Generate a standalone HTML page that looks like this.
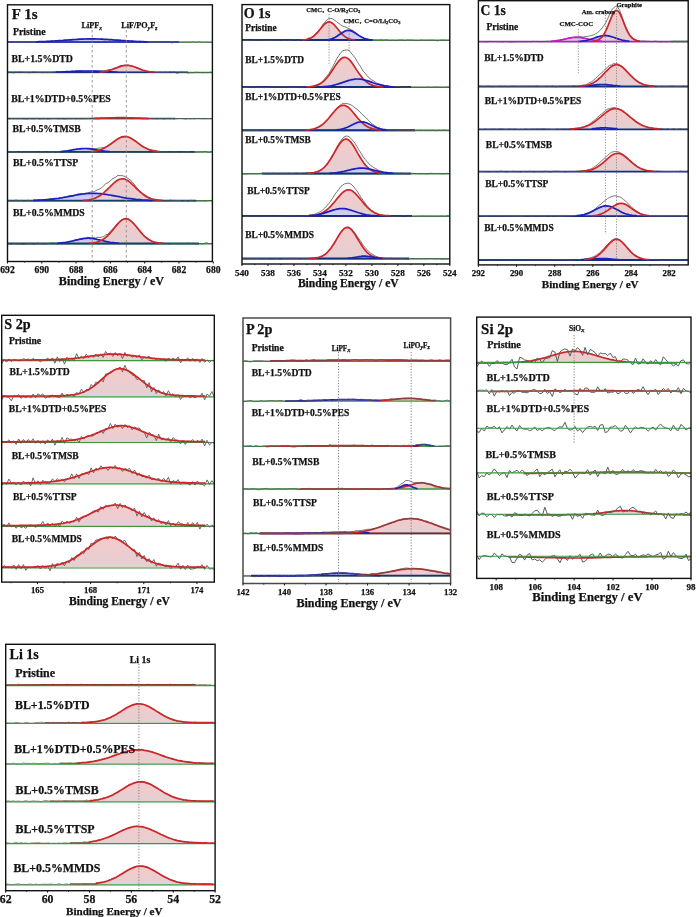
<!DOCTYPE html>
<html><head><meta charset="utf-8"><title>XPS</title>
<style>html,body{margin:0;padding:0;background:#fff;}svg{display:block;will-change:transform;}</style></head>
<body><svg width="696" height="917" viewBox="0 0 696 917">
<defs><linearGradient id="g1" x1="0" y1="0" x2="0" y2="1"><stop offset="0" stop-color="#c6c6f4"/><stop offset="1" stop-color="#d6d2e8"/></linearGradient>
<linearGradient id="g2" x1="0" y1="0" x2="0" y2="1"><stop offset="0" stop-color="#c6c6f4"/><stop offset="1" stop-color="#d6d2e8"/></linearGradient>
<linearGradient id="g3" x1="0" y1="0" x2="0" y2="1"><stop offset="0" stop-color="#f7c9ca"/><stop offset="1" stop-color="#e2d0d3"/></linearGradient>
<linearGradient id="g4" x1="0" y1="0" x2="0" y2="1"><stop offset="0" stop-color="#f7c9ca"/><stop offset="1" stop-color="#e2d0d3"/></linearGradient>
<linearGradient id="g5" x1="0" y1="0" x2="0" y2="1"><stop offset="0" stop-color="#c6c6f4"/><stop offset="1" stop-color="#d6d2e8"/></linearGradient>
<linearGradient id="g6" x1="0" y1="0" x2="0" y2="1"><stop offset="0" stop-color="#f7c9ca"/><stop offset="1" stop-color="#e2d0d3"/></linearGradient>
<linearGradient id="g7" x1="0" y1="0" x2="0" y2="1"><stop offset="0" stop-color="#c6c6f4"/><stop offset="1" stop-color="#d6d2e8"/></linearGradient>
<linearGradient id="g8" x1="0" y1="0" x2="0" y2="1"><stop offset="0" stop-color="#f7c9ca"/><stop offset="1" stop-color="#e2d0d3"/></linearGradient>
<linearGradient id="g9" x1="0" y1="0" x2="0" y2="1"><stop offset="0" stop-color="#c6c6f4"/><stop offset="1" stop-color="#d6d2e8"/></linearGradient>
<linearGradient id="g10" x1="0" y1="0" x2="0" y2="1"><stop offset="0" stop-color="#f7c9ca"/><stop offset="1" stop-color="#e2d0d3"/></linearGradient>
<linearGradient id="g11" x1="0" y1="0" x2="0" y2="1"><stop offset="0" stop-color="#f7c9ca"/><stop offset="1" stop-color="#e2d0d3"/></linearGradient>
<linearGradient id="g12" x1="0" y1="0" x2="0" y2="1"><stop offset="0" stop-color="#c6c6f4"/><stop offset="1" stop-color="#d6d2e8"/></linearGradient>
<linearGradient id="g13" x1="0" y1="0" x2="0" y2="1"><stop offset="0" stop-color="#f7c9ca"/><stop offset="1" stop-color="#e2d0d3"/></linearGradient>
<linearGradient id="g14" x1="0" y1="0" x2="0" y2="1"><stop offset="0" stop-color="#c6c6f4"/><stop offset="1" stop-color="#d6d2e8"/></linearGradient>
<linearGradient id="g15" x1="0" y1="0" x2="0" y2="1"><stop offset="0" stop-color="#f7c9ca"/><stop offset="1" stop-color="#e2d0d3"/></linearGradient>
<linearGradient id="g16" x1="0" y1="0" x2="0" y2="1"><stop offset="0" stop-color="#c6c6f4"/><stop offset="1" stop-color="#d6d2e8"/></linearGradient>
<linearGradient id="g17" x1="0" y1="0" x2="0" y2="1"><stop offset="0" stop-color="#f7c9ca"/><stop offset="1" stop-color="#e2d0d3"/></linearGradient>
<linearGradient id="g18" x1="0" y1="0" x2="0" y2="1"><stop offset="0" stop-color="#c6c6f4"/><stop offset="1" stop-color="#d6d2e8"/></linearGradient>
<linearGradient id="g19" x1="0" y1="0" x2="0" y2="1"><stop offset="0" stop-color="#f7c9ca"/><stop offset="1" stop-color="#e2d0d3"/></linearGradient>
<linearGradient id="g20" x1="0" y1="0" x2="0" y2="1"><stop offset="0" stop-color="#c6c6f4"/><stop offset="1" stop-color="#d6d2e8"/></linearGradient>
<linearGradient id="g21" x1="0" y1="0" x2="0" y2="1"><stop offset="0" stop-color="#f7c9ca"/><stop offset="1" stop-color="#e2d0d3"/></linearGradient>
<linearGradient id="g22" x1="0" y1="0" x2="0" y2="1"><stop offset="0" stop-color="#c6c6f4"/><stop offset="1" stop-color="#d6d2e8"/></linearGradient>
<linearGradient id="g23" x1="0" y1="0" x2="0" y2="1"><stop offset="0" stop-color="#eec0ee"/><stop offset="1" stop-color="#d8d0da"/></linearGradient>
<linearGradient id="g24" x1="0" y1="0" x2="0" y2="1"><stop offset="0" stop-color="#c6c6f4"/><stop offset="1" stop-color="#d6d2e8"/></linearGradient>
<linearGradient id="g25" x1="0" y1="0" x2="0" y2="1"><stop offset="0" stop-color="#f7c9ca"/><stop offset="1" stop-color="#e2d0d3"/></linearGradient>
<linearGradient id="g26" x1="0" y1="0" x2="0" y2="1"><stop offset="0" stop-color="#c6c6f4"/><stop offset="1" stop-color="#d6d2e8"/></linearGradient>
<linearGradient id="g27" x1="0" y1="0" x2="0" y2="1"><stop offset="0" stop-color="#f7c9ca"/><stop offset="1" stop-color="#e2d0d3"/></linearGradient>
<linearGradient id="g28" x1="0" y1="0" x2="0" y2="1"><stop offset="0" stop-color="#c6c6f4"/><stop offset="1" stop-color="#d6d2e8"/></linearGradient>
<linearGradient id="g29" x1="0" y1="0" x2="0" y2="1"><stop offset="0" stop-color="#f7c9ca"/><stop offset="1" stop-color="#e2d0d3"/></linearGradient>
<linearGradient id="g30" x1="0" y1="0" x2="0" y2="1"><stop offset="0" stop-color="#f7c9ca"/><stop offset="1" stop-color="#e2d0d3"/></linearGradient>
<linearGradient id="g31" x1="0" y1="0" x2="0" y2="1"><stop offset="0" stop-color="#c6c6f4"/><stop offset="1" stop-color="#d6d2e8"/></linearGradient>
<linearGradient id="g32" x1="0" y1="0" x2="0" y2="1"><stop offset="0" stop-color="#f7c9ca"/><stop offset="1" stop-color="#e2d0d3"/></linearGradient>
<linearGradient id="g33" x1="0" y1="0" x2="0" y2="1"><stop offset="0" stop-color="#c6c6f4"/><stop offset="1" stop-color="#d6d2e8"/></linearGradient>
<linearGradient id="g34" x1="0" y1="0" x2="0" y2="1"><stop offset="0" stop-color="#f7c9ca"/><stop offset="1" stop-color="#e2d0d3"/></linearGradient>
<linearGradient id="g35" x1="0" y1="0" x2="0" y2="1"><stop offset="0" stop-color="#f7c9ca"/><stop offset="1" stop-color="#e2d0d3"/></linearGradient>
<linearGradient id="g36" x1="0" y1="0" x2="0" y2="1"><stop offset="0" stop-color="#f7c9ca"/><stop offset="1" stop-color="#e2d0d3"/></linearGradient>
<linearGradient id="g37" x1="0" y1="0" x2="0" y2="1"><stop offset="0" stop-color="#f7c9ca"/><stop offset="1" stop-color="#e2d0d3"/></linearGradient>
<linearGradient id="g38" x1="0" y1="0" x2="0" y2="1"><stop offset="0" stop-color="#f7c9ca"/><stop offset="1" stop-color="#e2d0d3"/></linearGradient>
<linearGradient id="g39" x1="0" y1="0" x2="0" y2="1"><stop offset="0" stop-color="#f7c9ca"/><stop offset="1" stop-color="#e2d0d3"/></linearGradient>
<linearGradient id="g40" x1="0" y1="0" x2="0" y2="1"><stop offset="0" stop-color="#f7c9ca"/><stop offset="1" stop-color="#e2d0d3"/></linearGradient>
<linearGradient id="g41" x1="0" y1="0" x2="0" y2="1"><stop offset="0" stop-color="#f7c9ca"/><stop offset="1" stop-color="#e2d0d3"/></linearGradient>
<linearGradient id="g42" x1="0" y1="0" x2="0" y2="1"><stop offset="0" stop-color="#c6c6f4"/><stop offset="1" stop-color="#d6d2e8"/></linearGradient>
<linearGradient id="g43" x1="0" y1="0" x2="0" y2="1"><stop offset="0" stop-color="#f7c9ca"/><stop offset="1" stop-color="#e2d0d3"/></linearGradient>
<linearGradient id="g44" x1="0" y1="0" x2="0" y2="1"><stop offset="0" stop-color="#f7c9ca"/><stop offset="1" stop-color="#e2d0d3"/></linearGradient>
<linearGradient id="g45" x1="0" y1="0" x2="0" y2="1"><stop offset="0" stop-color="#c6c6f4"/><stop offset="1" stop-color="#d6d2e8"/></linearGradient>
<linearGradient id="g46" x1="0" y1="0" x2="0" y2="1"><stop offset="0" stop-color="#f7c9ca"/><stop offset="1" stop-color="#e2d0d3"/></linearGradient>
<linearGradient id="g47" x1="0" y1="0" x2="0" y2="1"><stop offset="0" stop-color="#c6c6f4"/><stop offset="1" stop-color="#d6d2e8"/></linearGradient>
<linearGradient id="g48" x1="0" y1="0" x2="0" y2="1"><stop offset="0" stop-color="#c6c6f4"/><stop offset="1" stop-color="#d6d2e8"/></linearGradient>
<linearGradient id="g49" x1="0" y1="0" x2="0" y2="1"><stop offset="0" stop-color="#f7c9ca"/><stop offset="1" stop-color="#e2d0d3"/></linearGradient>
<linearGradient id="g50" x1="0" y1="0" x2="0" y2="1"><stop offset="0" stop-color="#c6c6f4"/><stop offset="1" stop-color="#d6d2e8"/></linearGradient>
<linearGradient id="g51" x1="0" y1="0" x2="0" y2="1"><stop offset="0" stop-color="#f7c9ca"/><stop offset="1" stop-color="#e2d0d3"/></linearGradient>
<linearGradient id="g52" x1="0" y1="0" x2="0" y2="1"><stop offset="0" stop-color="#f7c9ca"/><stop offset="1" stop-color="#e2d0d3"/></linearGradient>
<linearGradient id="g53" x1="0" y1="0" x2="0" y2="1"><stop offset="0" stop-color="#f7c9ca"/><stop offset="1" stop-color="#e2d0d3"/></linearGradient>
<linearGradient id="g54" x1="0" y1="0" x2="0" y2="1"><stop offset="0" stop-color="#f7c9ca"/><stop offset="1" stop-color="#e2d0d3"/></linearGradient>
<linearGradient id="g55" x1="0" y1="0" x2="0" y2="1"><stop offset="0" stop-color="#f7c9ca"/><stop offset="1" stop-color="#e2d0d3"/></linearGradient>
<linearGradient id="g56" x1="0" y1="0" x2="0" y2="1"><stop offset="0" stop-color="#f7c9ca"/><stop offset="1" stop-color="#e2d0d3"/></linearGradient>
<linearGradient id="g57" x1="0" y1="0" x2="0" y2="1"><stop offset="0" stop-color="#f7c9ca"/><stop offset="1" stop-color="#e2d0d3"/></linearGradient>
<linearGradient id="g58" x1="0" y1="0" x2="0" y2="1"><stop offset="0" stop-color="#f7c9ca"/><stop offset="1" stop-color="#e2d0d3"/></linearGradient>
<linearGradient id="g59" x1="0" y1="0" x2="0" y2="1"><stop offset="0" stop-color="#f7c9ca"/><stop offset="1" stop-color="#e2d0d3"/></linearGradient>
<linearGradient id="g60" x1="0" y1="0" x2="0" y2="1"><stop offset="0" stop-color="#f7c9ca"/><stop offset="1" stop-color="#e2d0d3"/></linearGradient></defs>
<rect width="696" height="917" fill="#fff"/>
<path d="M31.6,42.2 L31.6,41.9 33.1,41.9 34.6,41.9 36.1,41.8 37.6,41.8 39.1,41.7 40.6,41.7 42.2,41.6 43.7,41.6 45.2,41.5 46.7,41.4 48.2,41.3 49.7,41.3 51.2,41.2 52.7,41.1 54.2,41.0 55.7,40.9 57.2,40.8 58.7,40.7 60.2,40.6 61.7,40.5 63.2,40.4 64.8,40.2 66.3,40.1 67.8,40.0 69.3,39.9 70.8,39.8 72.3,39.7 73.8,39.6 75.3,39.5 76.8,39.4 78.3,39.3 79.8,39.2 81.3,39.1 82.8,39.1 84.3,39.0 85.8,39.0 87.4,38.9 88.9,38.9 90.4,38.9 91.9,38.9 93.4,38.9 94.9,38.9 96.4,39.0 97.9,39.0 99.4,39.0 100.9,39.1 102.4,39.2 103.9,39.3 105.4,39.3 106.9,39.4 108.4,39.5 110.0,39.6 111.5,39.7 113.0,39.8 114.5,40.0 116.0,40.1 117.5,40.2 119.0,40.3 120.5,40.4 122.0,40.5 123.5,40.6 125.0,40.7 126.5,40.8 128.0,40.9 129.5,41.0 131.0,41.1 132.5,41.2 134.1,41.3 135.6,41.4 137.1,41.5 138.6,41.5 140.1,41.6 141.6,41.6 143.1,41.7 144.6,41.8 146.1,41.8 147.6,41.8 149.1,41.9 150.6,41.9 152.1,41.9 152.1,42.2 Z" fill="url(#g1)" stroke="none"/>
<line x1="7.50" y1="42.20" x2="212.40" y2="42.20" stroke="#3c963c" stroke-width="1.30"/>
<line x1="7.50" y1="42.00" x2="179.00" y2="42.00" stroke="#1e1ec0" stroke-width="1.40"/>
<polyline points="7.5,42.1 9.5,41.9 11.5,42.3 13.5,41.9 15.5,42.2 17.5,42.2 19.6,41.7 21.6,42.1 23.6,42.1 25.6,41.9 27.6,41.8 29.6,42.0 31.6,41.8 33.6,42.1 35.6,41.9 37.6,41.9 39.6,42.0 41.6,41.9 43.7,41.9 45.7,41.5 47.7,41.4 49.7,41.3 51.7,41.1 53.7,41.3 55.7,40.9 57.7,40.7 59.7,40.5 61.7,40.6 63.7,40.4 65.8,40.6 67.8,40.1 69.8,40.3 71.8,40.0 73.8,39.4 75.8,39.9 77.8,39.2 79.8,39.2 81.8,39.2 83.8,38.9 85.8,38.9 87.9,38.7 89.9,39.0 91.9,39.0 93.9,39.0 95.9,39.1 97.9,39.0 99.9,39.2 101.9,38.9 103.9,39.6 105.9,39.6 107.9,39.7 110.0,40.0 112.0,39.4 114.0,40.4 116.0,40.1 118.0,40.3 120.0,40.0 122.0,40.9 124.0,40.5 126.0,41.0 128.0,41.0 130.0,41.2 132.0,41.1 134.1,41.5 136.1,41.4 138.1,41.4 140.1,41.2 142.1,42.1 144.1,41.4 146.1,41.6 148.1,42.0 150.1,41.8 152.1,42.0 154.1,41.7 156.2,42.0 158.2,42.1 160.2,42.1 162.2,42.1 164.2,42.1 166.2,42.3 168.2,41.7 170.2,42.5 172.2,42.9 174.2,42.2 176.2,42.2 178.2,42.1 180.3,42.2 182.3,42.2 184.3,42.1 186.3,42.0 188.3,42.3 190.3,42.3 192.3,41.8 194.3,42.1 196.3,42.4 198.3,41.7 200.3,42.0 202.4,42.3 204.4,42.4 206.4,42.1 208.4,42.4 210.4,42.4 212.4,42.4" fill="none" stroke="#555555" stroke-width="0.80"/>
<polyline points="36.1,41.8 37.6,41.8 39.1,41.7 40.6,41.7 42.2,41.6 43.7,41.6 45.2,41.5 46.7,41.4 48.2,41.3 49.7,41.3 51.2,41.2 52.7,41.1 54.2,41.0 55.7,40.9 57.2,40.8 58.7,40.7 60.2,40.6 61.7,40.5 63.2,40.4 64.8,40.2 66.3,40.1 67.8,40.0 69.3,39.9 70.8,39.8 72.3,39.7 73.8,39.6 75.3,39.5 76.8,39.4 78.3,39.3 79.8,39.2 81.3,39.1 82.8,39.1 84.3,39.0 85.8,39.0 87.4,38.9 88.9,38.9 90.4,38.9 91.9,38.9 93.4,38.9 94.9,38.9 96.4,39.0 97.9,39.0 99.4,39.0 100.9,39.1 102.4,39.2 103.9,39.3 105.4,39.3 106.9,39.4 108.4,39.5 110.0,39.6 111.5,39.7 113.0,39.8 114.5,40.0 116.0,40.1 117.5,40.2 119.0,40.3 120.5,40.4 122.0,40.5 123.5,40.6 125.0,40.7 126.5,40.8 128.0,40.9 129.5,41.0 131.0,41.1 132.5,41.2 134.1,41.3 135.6,41.4 137.1,41.5 138.6,41.5 140.1,41.6 141.6,41.6 143.1,41.7 144.6,41.8 146.1,41.8 147.6,41.8" fill="none" stroke="#1e1ec0" stroke-width="1.70" stroke-linejoin="round"/>
<text x="13.0" y="34.5" font-size="9.80" font-family="Liberation Serif" font-weight="bold" fill="#111" stroke="#111" stroke-width="0.25" text-anchor="start" >Pristine</text>
<path d="M52.7,72.5 L52.7,72.2 54.2,72.2 55.7,72.1 57.2,72.1 58.7,72.0 60.2,72.0 61.7,71.9 63.2,71.8 64.8,71.8 66.3,71.7 67.8,71.6 69.3,71.5 70.8,71.5 72.3,71.4 73.8,71.3 75.3,71.3 76.8,71.2 78.3,71.1 79.8,71.1 81.3,71.1 82.8,71.0 84.3,71.0 85.8,71.0 87.4,71.0 88.9,71.0 90.4,71.0 91.9,71.1 93.4,71.1 94.9,71.2 96.4,71.2 97.9,71.3 99.4,71.3 100.9,71.4 102.4,71.5 103.9,71.6 105.4,71.6 106.9,71.7 108.4,71.8 110.0,71.8 111.5,71.9 113.0,72.0 114.5,72.0 116.0,72.1 117.5,72.1 119.0,72.2 120.5,72.2 120.5,72.5 Z" fill="url(#g2)" stroke="none"/>
<path d="M97.9,72.5 L97.9,72.2 99.4,72.1 100.9,72.0 102.4,71.8 103.9,71.6 105.4,71.4 106.9,71.1 108.4,70.7 110.0,70.2 111.5,69.8 113.0,69.2 114.5,68.6 116.0,68.1 117.5,67.5 119.0,66.9 120.5,66.4 122.0,65.9 123.5,65.6 125.0,65.4 126.5,65.3 128.0,65.4 129.5,65.5 131.0,65.9 132.5,66.3 134.1,66.8 135.6,67.3 137.1,67.9 138.6,68.5 140.1,69.1 141.6,69.7 143.1,70.2 144.6,70.6 146.1,71.0 147.6,71.3 149.1,71.6 150.6,71.8 152.1,72.0 153.6,72.1 155.1,72.2 155.1,72.5 Z" fill="url(#g3)" stroke="none"/>
<line x1="7.50" y1="72.50" x2="212.40" y2="72.50" stroke="#3c963c" stroke-width="1.30"/>
<line x1="8.00" y1="72.30" x2="188.00" y2="72.30" stroke="#1b2f8a" stroke-width="1.60"/>
<polyline points="7.5,72.6 9.5,72.2 11.5,72.6 13.5,72.9 15.5,72.3 17.5,72.5 19.6,72.2 21.6,72.1 23.6,72.5 25.6,72.5 27.6,72.5 29.6,72.8 31.6,72.3 33.6,72.0 35.6,72.4 37.6,72.5 39.6,72.5 41.6,72.6 43.7,72.6 45.7,72.5 47.7,72.6 49.7,72.4 51.7,72.7 53.7,72.1 55.7,72.1 57.7,72.4 59.7,72.7 61.7,71.9 63.7,71.5 65.8,71.9 67.8,71.7 69.8,71.7 71.8,71.2 73.8,71.6 75.8,70.9 77.8,71.2 79.8,70.8 81.8,71.0 83.8,71.1 85.8,71.4 87.9,71.2 89.9,71.0 91.9,70.8 93.9,70.9 95.9,71.2 97.9,70.9 99.9,70.7 101.9,70.9 103.9,70.8 105.9,70.5 107.9,69.8 110.0,69.4 112.0,69.3 114.0,68.2 116.0,67.8 118.0,67.1 120.0,65.9 122.0,65.5 124.0,65.5 126.0,65.1 128.0,65.1 130.0,65.7 132.0,66.1 134.1,66.5 136.1,68.0 138.1,68.2 140.1,68.9 142.1,69.6 144.1,70.8 146.1,70.9 148.1,71.7 150.1,71.5 152.1,71.8 154.1,72.1 156.2,72.5 158.2,72.5 160.2,72.1 162.2,72.7 164.2,72.3 166.2,72.3 168.2,72.5 170.2,71.7 172.2,72.4 174.2,71.8 176.2,73.1 178.2,73.1 180.3,72.2 182.3,72.3 184.3,72.6 186.3,72.5 188.3,73.1 190.3,72.7 192.3,72.8 194.3,72.5 196.3,72.2 198.3,72.5 200.3,72.4 202.4,72.7 204.4,72.6 206.4,72.5 208.4,72.6 210.4,72.1 212.4,72.8" fill="none" stroke="#555555" stroke-width="0.80"/>
<polyline points="55.7,72.1 57.2,72.1 58.7,72.0 60.2,72.0 61.7,71.9 63.2,71.8 64.8,71.8 66.3,71.7 67.8,71.6 69.3,71.5 70.8,71.5 72.3,71.4 73.8,71.3 75.3,71.3 76.8,71.2 78.3,71.1 79.8,71.1 81.3,71.1 82.8,71.0 84.3,71.0 85.8,71.0 87.4,71.0 88.9,71.0 90.4,71.0 91.9,71.1 93.4,71.1 94.9,71.2 96.4,71.2 97.9,71.3 99.4,71.3 100.9,71.4 102.4,71.5 103.9,71.6 105.4,71.6 106.9,71.7 108.4,71.8 110.0,71.8 111.5,71.9 113.0,72.0 114.5,72.0 116.0,72.1 117.5,72.1" fill="none" stroke="#1e1ec0" stroke-width="1.70" stroke-linejoin="round"/>
<polyline points="99.4,72.1 100.9,72.0 102.4,71.8 103.9,71.6 105.4,71.4 106.9,71.1 108.4,70.7 110.0,70.2 111.5,69.8 113.0,69.2 114.5,68.6 116.0,68.1 117.5,67.5 119.0,66.9 120.5,66.4 122.0,65.9 123.5,65.6 125.0,65.4 126.5,65.3 128.0,65.4 129.5,65.5 131.0,65.9 132.5,66.3 134.1,66.8 135.6,67.3 137.1,67.9 138.6,68.5 140.1,69.1 141.6,69.7 143.1,70.2 144.6,70.6 146.1,71.0 147.6,71.3 149.1,71.6 150.6,71.8 152.1,72.0 153.6,72.1" fill="none" stroke="#cc2628" stroke-width="1.70" stroke-linejoin="round"/>
<text x="11.5" y="61.5" font-size="9.80" font-family="Liberation Serif" font-weight="bold" fill="#111" stroke="#111" stroke-width="0.25" text-anchor="start" >BL+1.5%DTD</text>
<path d="M94.9,118.7 L94.9,118.4 96.4,118.4 97.9,118.3 99.4,118.3 100.9,118.2 102.4,118.2 103.9,118.1 105.4,118.1 106.9,118.0 108.4,118.0 110.0,117.9 111.5,117.9 113.0,117.8 114.5,117.8 116.0,117.7 117.5,117.7 119.0,117.7 120.5,117.7 122.0,117.7 123.5,117.7 125.0,117.7 126.5,117.8 128.0,117.8 129.5,117.8 131.0,117.9 132.5,117.9 134.1,118.0 135.6,118.1 137.1,118.1 138.6,118.2 140.1,118.2 141.6,118.3 143.1,118.3 144.6,118.4 146.1,118.4 146.1,118.7 Z" fill="url(#g4)" stroke="none"/>
<line x1="7.50" y1="118.70" x2="212.40" y2="118.70" stroke="#2f7f5f" stroke-width="1.30"/>
<line x1="8.00" y1="118.50" x2="175.00" y2="118.50" stroke="#1b4f6a" stroke-width="1.40"/>
<polyline points="7.5,118.4 9.5,118.8 11.5,118.5 13.5,118.8 15.5,118.5 17.5,118.7 19.6,118.6 21.6,118.6 23.6,118.8 25.6,118.9 27.6,119.0 29.6,118.5 31.6,118.8 33.6,118.8 35.6,118.7 37.6,118.4 39.6,119.0 41.6,118.7 43.7,118.8 45.7,118.6 47.7,119.0 49.7,118.8 51.7,118.6 53.7,118.5 55.7,118.5 57.7,118.8 59.7,118.7 61.7,118.7 63.7,118.9 65.8,118.9 67.8,118.6 69.8,118.7 71.8,118.7 73.8,118.5 75.8,118.8 77.8,118.6 79.8,118.7 81.8,118.7 83.8,118.6 85.8,118.6 87.9,118.5 89.9,118.5 91.9,118.2 93.9,118.5 95.9,118.2 97.9,118.2 99.9,118.3 101.9,118.1 103.9,118.2 105.9,117.9 107.9,118.1 110.0,118.0 112.0,117.8 114.0,117.7 116.0,117.6 118.0,117.6 120.0,117.7 122.0,117.8 124.0,117.6 126.0,117.7 128.0,117.9 130.0,117.7 132.0,117.9 134.1,118.1 136.1,118.0 138.1,118.3 140.1,118.4 142.1,118.2 144.1,118.6 146.1,118.4 148.1,118.7 150.1,118.4 152.1,118.7 154.1,118.6 156.2,118.8 158.2,118.7 160.2,118.5 162.2,118.6 164.2,119.0 166.2,118.5 168.2,118.6 170.2,118.7 172.2,118.5 174.2,118.9 176.2,118.7 178.2,118.5 180.3,118.5 182.3,118.5 184.3,118.9 186.3,119.0 188.3,118.6 190.3,118.9 192.3,118.7 194.3,118.9 196.3,118.5 198.3,118.6 200.3,118.6 202.4,118.7 204.4,118.7 206.4,118.7 208.4,118.6 210.4,118.7 212.4,118.6" fill="none" stroke="#555555" stroke-width="0.80"/>
<polyline points="93.4,118.5 94.9,118.4 96.4,118.4 97.9,118.3 99.4,118.3 100.9,118.2 102.4,118.2 103.9,118.1 105.4,118.1 106.9,118.0 108.4,118.0 110.0,117.9 111.5,117.9 113.0,117.8 114.5,117.8 116.0,117.7 117.5,117.7 119.0,117.7 120.5,117.7 122.0,117.7 123.5,117.7 125.0,117.7 126.5,117.8 128.0,117.8 129.5,117.8 131.0,117.9 132.5,117.9 134.1,118.0 135.6,118.1 137.1,118.1 138.6,118.2 140.1,118.2 141.6,118.3 143.1,118.3 144.6,118.4 146.1,118.4 147.6,118.5 149.1,118.5" fill="none" stroke="#cc2628" stroke-width="1.70" stroke-linejoin="round"/>
<text x="11.2" y="102.2" font-size="9.80" font-family="Liberation Serif" font-weight="bold" fill="#111" stroke="#111" stroke-width="0.25" text-anchor="start" >BL+1%DTD+0.5%PES</text>
<path d="M57.2,152.0 L57.2,151.7 58.7,151.7 60.2,151.6 61.7,151.5 63.2,151.3 64.8,151.2 66.3,151.0 67.8,150.8 69.3,150.5 70.8,150.3 72.3,150.0 73.8,149.7 75.3,149.5 76.8,149.2 78.3,149.0 79.8,148.8 81.3,148.6 82.8,148.5 84.3,148.5 85.8,148.5 87.4,148.6 88.9,148.7 90.4,148.9 91.9,149.1 93.4,149.4 94.9,149.6 96.4,149.9 97.9,150.2 99.4,150.4 100.9,150.7 102.4,150.9 103.9,151.1 105.4,151.3 106.9,151.4 108.4,151.5 110.0,151.6 111.5,151.7 111.5,152.0 Z" fill="url(#g5)" stroke="none"/>
<path d="M88.9,152.0 L88.9,151.7 90.4,151.6 91.9,151.5 93.4,151.3 94.9,151.1 96.4,150.8 97.9,150.5 99.4,150.1 100.9,149.6 102.4,149.0 103.9,148.3 105.4,147.5 106.9,146.6 108.4,145.6 110.0,144.6 111.5,143.5 113.0,142.3 114.5,141.2 116.0,140.1 117.5,139.1 119.0,138.2 120.5,137.5 122.0,136.9 123.5,136.6 125.0,136.5 126.5,136.6 128.0,137.0 129.5,137.5 131.0,138.3 132.5,139.2 134.1,140.2 135.6,141.3 137.1,142.4 138.6,143.5 140.1,144.6 141.6,145.7 143.1,146.7 144.6,147.5 146.1,148.3 147.6,149.0 149.1,149.6 150.6,150.1 152.1,150.5 153.6,150.8 155.1,151.1 156.7,151.3 158.2,151.5 159.7,151.6 161.2,151.7 161.2,152.0 Z" fill="url(#g6)" stroke="none"/>
<line x1="7.50" y1="152.00" x2="212.40" y2="152.00" stroke="#3c963c" stroke-width="1.60"/>
<line x1="7.50" y1="151.80" x2="195.00" y2="151.80" stroke="#1b3f6a" stroke-width="1.80"/>
<polyline points="7.5,152.1 9.5,151.4 11.5,151.9 13.5,151.6 15.5,151.6 17.5,152.2 19.6,152.5 21.6,151.6 23.6,152.1 25.6,151.9 27.6,152.0 29.6,151.9 31.6,152.3 33.6,152.0 35.6,152.1 37.6,152.0 39.6,152.7 41.6,151.7 43.7,151.8 45.7,152.5 47.7,152.1 49.7,151.9 51.7,151.7 53.7,151.8 55.7,151.4 57.7,151.7 59.7,151.9 61.7,151.6 63.7,151.0 65.8,151.2 67.8,150.5 69.8,150.1 71.8,149.9 73.8,149.4 75.8,149.4 77.8,149.0 79.8,148.9 81.8,148.7 83.8,148.8 85.8,148.5 87.9,148.7 89.9,148.9 91.9,148.5 93.9,148.5 95.9,148.8 97.9,148.2 99.9,148.1 101.9,147.7 103.9,147.5 105.9,146.9 107.9,145.3 110.0,144.1 112.0,142.6 114.0,141.3 116.0,139.6 118.0,138.8 120.0,137.4 122.0,137.2 124.0,137.2 126.0,136.7 128.0,136.5 130.0,138.3 132.0,138.6 134.1,140.4 136.1,141.8 138.1,143.1 140.1,144.6 142.1,146.3 144.1,147.2 146.1,148.2 148.1,149.0 150.1,150.2 152.1,150.0 154.1,150.3 156.2,150.5 158.2,151.9 160.2,151.6 162.2,152.3 164.2,151.7 166.2,151.7 168.2,152.2 170.2,152.4 172.2,151.9 174.2,151.7 176.2,152.2 178.2,152.0 180.3,152.7 182.3,152.2 184.3,151.9 186.3,151.9 188.3,151.5 190.3,152.3 192.3,152.6 194.3,151.8 196.3,152.1 198.3,151.9 200.3,151.8 202.4,151.8 204.4,151.5 206.4,151.6 208.4,152.5 210.4,152.0 212.4,151.4" fill="none" stroke="#555555" stroke-width="0.80"/>
<polyline points="60.2,151.6 61.7,151.5 63.2,151.3 64.8,151.2 66.3,151.0 67.8,150.8 69.3,150.5 70.8,150.3 72.3,150.0 73.8,149.7 75.3,149.5 76.8,149.2 78.3,149.0 79.8,148.8 81.3,148.6 82.8,148.5 84.3,148.5 85.8,148.5 87.4,148.6 88.9,148.7 90.4,148.9 91.9,149.1 93.4,149.4 94.9,149.6 96.4,149.9 97.9,150.2 99.4,150.4 100.9,150.7 102.4,150.9 103.9,151.1 105.4,151.3 106.9,151.4 108.4,151.5 110.0,151.6" fill="none" stroke="#1e1ec0" stroke-width="1.70" stroke-linejoin="round"/>
<polyline points="90.4,151.6 91.9,151.5 93.4,151.3 94.9,151.1 96.4,150.8 97.9,150.5 99.4,150.1 100.9,149.6 102.4,149.0 103.9,148.3 105.4,147.5 106.9,146.6 108.4,145.6 110.0,144.6 111.5,143.5 113.0,142.3 114.5,141.2 116.0,140.1 117.5,139.1 119.0,138.2 120.5,137.5 122.0,136.9 123.5,136.6 125.0,136.5 126.5,136.6 128.0,137.0 129.5,137.5 131.0,138.3 132.5,139.2 134.1,140.2 135.6,141.3 137.1,142.4 138.6,143.5 140.1,144.6 141.6,145.7 143.1,146.7 144.6,147.5 146.1,148.3 147.6,149.0 149.1,149.6 150.6,150.1 152.1,150.5 153.6,150.8 155.1,151.1 156.7,151.3 158.2,151.5 159.7,151.6" fill="none" stroke="#cc2628" stroke-width="1.70" stroke-linejoin="round"/>
<text x="12.4" y="132.4" font-size="9.80" font-family="Liberation Serif" font-weight="bold" fill="#111" stroke="#111" stroke-width="0.25" text-anchor="start" >BL+0.5%TMSB</text>
<path d="M30.1,200.8 L30.1,200.5 31.6,200.5 33.1,200.4 34.6,200.4 36.1,200.3 37.6,200.3 39.1,200.2 40.6,200.1 42.2,200.0 43.7,199.9 45.2,199.8 46.7,199.7 48.2,199.6 49.7,199.4 51.2,199.3 52.7,199.1 54.2,198.9 55.7,198.7 57.2,198.5 58.7,198.3 60.2,198.0 61.7,197.8 63.2,197.5 64.8,197.2 66.3,197.0 67.8,196.7 69.3,196.4 70.8,196.1 72.3,195.8 73.8,195.5 75.3,195.2 76.8,195.0 78.3,194.7 79.8,194.5 81.3,194.2 82.8,194.0 84.3,193.8 85.8,193.7 87.4,193.5 88.9,193.4 90.4,193.4 91.9,193.3 93.4,193.3 94.9,193.3 96.4,193.4 97.9,193.5 99.4,193.6 100.9,193.7 102.4,193.9 103.9,194.1 105.4,194.3 106.9,194.5 108.4,194.8 110.0,195.0 111.5,195.3 113.0,195.6 114.5,195.9 116.0,196.2 117.5,196.4 119.0,196.7 120.5,197.0 122.0,197.3 123.5,197.6 125.0,197.8 126.5,198.1 128.0,198.3 129.5,198.5 131.0,198.7 132.5,198.9 134.1,199.1 135.6,199.3 137.1,199.5 138.6,199.6 140.1,199.7 141.6,199.9 143.1,200.0 144.6,200.1 146.1,200.1 147.6,200.2 149.1,200.3 150.6,200.4 152.1,200.4 153.6,200.5 155.1,200.5 156.7,200.5 156.7,200.8 Z" fill="url(#g7)" stroke="none"/>
<path d="M81.3,200.8 L81.3,200.5 82.8,200.4 84.3,200.3 85.8,200.2 87.4,200.0 88.9,199.8 90.4,199.5 91.9,199.2 93.4,198.8 94.9,198.2 96.4,197.6 97.9,196.8 99.4,196.0 100.9,195.0 102.4,193.8 103.9,192.6 105.4,191.2 106.9,189.8 108.4,188.3 110.0,186.8 111.5,185.3 113.0,183.9 114.5,182.5 116.0,181.3 117.5,180.3 119.0,179.5 120.5,179.0 122.0,178.8 123.5,178.9 125.0,179.2 126.5,179.9 128.0,180.8 129.5,181.9 131.0,183.2 132.5,184.6 134.1,186.0 135.6,187.6 137.1,189.1 138.6,190.5 140.1,191.9 141.6,193.2 143.1,194.4 144.6,195.5 146.1,196.4 147.6,197.2 149.1,197.9 150.6,198.5 152.1,199.0 153.6,199.4 155.1,199.7 156.7,199.9 158.2,200.1 159.7,200.3 161.2,200.4 162.7,200.5 164.2,200.5 164.2,200.8 Z" fill="url(#g8)" stroke="none"/>
<line x1="7.50" y1="200.80" x2="212.40" y2="200.80" stroke="#3c963c" stroke-width="1.60"/>
<line x1="7.50" y1="200.60" x2="196.00" y2="200.60" stroke="#1b3f6a" stroke-width="1.80"/>
<polyline points="7.5,200.9 9.5,200.3 11.5,200.7 13.5,200.9 15.5,200.1 17.5,200.3 19.6,200.8 21.6,200.3 23.6,201.1 25.6,200.9 27.6,200.2 29.6,200.5 31.6,200.9 33.6,200.2 35.6,200.2 37.6,199.7 39.6,199.8 41.6,200.1 43.7,200.1 45.7,199.8 47.7,199.7 49.7,198.8 51.7,198.5 53.7,198.4 55.7,198.5 57.7,198.5 59.7,197.7 61.7,197.8 63.7,197.3 65.8,197.6 67.8,196.8 69.8,195.6 71.8,196.2 73.8,196.0 75.8,195.1 77.8,194.0 79.8,193.7 81.8,194.0 83.8,193.7 85.8,193.1 87.9,193.0 89.9,192.2 91.9,191.8 93.9,191.7 95.9,190.6 97.9,189.6 99.9,188.8 101.9,187.7 103.9,185.5 105.9,183.6 107.9,182.8 110.0,181.2 112.0,179.2 114.0,178.0 116.0,177.0 118.0,175.2 120.0,175.7 122.0,175.6 124.0,176.1 126.0,177.2 128.0,178.4 130.0,179.9 132.0,181.6 134.1,184.1 136.1,186.6 138.1,189.3 140.1,190.9 142.1,193.1 144.1,194.4 146.1,195.4 148.1,196.8 150.1,197.9 152.1,198.9 154.1,199.2 156.2,199.5 158.2,200.3 160.2,200.3 162.2,199.9 164.2,201.1 166.2,200.7 168.2,201.0 170.2,200.0 172.2,200.4 174.2,200.4 176.2,200.5 178.2,200.5 180.3,200.5 182.3,201.3 184.3,200.6 186.3,200.5 188.3,201.3 190.3,200.4 192.3,200.4 194.3,201.3 196.3,200.9 198.3,200.8 200.3,200.9 202.4,200.6 204.4,201.2 206.4,200.8 208.4,200.6 210.4,200.4 212.4,200.7" fill="none" stroke="#555555" stroke-width="0.80"/>
<polyline points="33.1,200.4 34.6,200.4 36.1,200.3 37.6,200.3 39.1,200.2 40.6,200.1 42.2,200.0 43.7,199.9 45.2,199.8 46.7,199.7 48.2,199.6 49.7,199.4 51.2,199.3 52.7,199.1 54.2,198.9 55.7,198.7 57.2,198.5 58.7,198.3 60.2,198.0 61.7,197.8 63.2,197.5 64.8,197.2 66.3,197.0 67.8,196.7 69.3,196.4 70.8,196.1 72.3,195.8 73.8,195.5 75.3,195.2 76.8,195.0 78.3,194.7 79.8,194.5 81.3,194.2 82.8,194.0 84.3,193.8 85.8,193.7 87.4,193.5 88.9,193.4 90.4,193.4 91.9,193.3 93.4,193.3 94.9,193.3 96.4,193.4 97.9,193.5 99.4,193.6 100.9,193.7 102.4,193.9 103.9,194.1 105.4,194.3 106.9,194.5 108.4,194.8 110.0,195.0 111.5,195.3 113.0,195.6 114.5,195.9 116.0,196.2 117.5,196.4 119.0,196.7 120.5,197.0 122.0,197.3 123.5,197.6 125.0,197.8 126.5,198.1 128.0,198.3 129.5,198.5 131.0,198.7 132.5,198.9 134.1,199.1 135.6,199.3 137.1,199.5 138.6,199.6 140.1,199.7 141.6,199.9 143.1,200.0 144.6,200.1 146.1,200.1 147.6,200.2 149.1,200.3 150.6,200.4 152.1,200.4" fill="none" stroke="#1e1ec0" stroke-width="1.70" stroke-linejoin="round"/>
<polyline points="82.8,200.4 84.3,200.3 85.8,200.2 87.4,200.0 88.9,199.8 90.4,199.5 91.9,199.2 93.4,198.8 94.9,198.2 96.4,197.6 97.9,196.8 99.4,196.0 100.9,195.0 102.4,193.8 103.9,192.6 105.4,191.2 106.9,189.8 108.4,188.3 110.0,186.8 111.5,185.3 113.0,183.9 114.5,182.5 116.0,181.3 117.5,180.3 119.0,179.5 120.5,179.0 122.0,178.8 123.5,178.9 125.0,179.2 126.5,179.9 128.0,180.8 129.5,181.9 131.0,183.2 132.5,184.6 134.1,186.0 135.6,187.6 137.1,189.1 138.6,190.5 140.1,191.9 141.6,193.2 143.1,194.4 144.6,195.5 146.1,196.4 147.6,197.2 149.1,197.9 150.6,198.5 152.1,199.0 153.6,199.4 155.1,199.7 156.7,199.9 158.2,200.1 159.7,200.3 161.2,200.4" fill="none" stroke="#cc2628" stroke-width="1.70" stroke-linejoin="round"/>
<text x="13.0" y="165.8" font-size="9.80" font-family="Liberation Serif" font-weight="bold" fill="#111" stroke="#111" stroke-width="0.25" text-anchor="start" >BL+0.5%TTSP</text>
<path d="M54.2,243.7 L54.2,243.4 55.7,243.4 57.2,243.3 58.7,243.2 60.2,243.1 61.7,242.9 63.2,242.7 64.8,242.5 66.3,242.3 67.8,242.0 69.3,241.7 70.8,241.4 72.3,241.0 73.8,240.7 75.3,240.3 76.8,239.9 78.3,239.6 79.8,239.2 81.3,238.9 82.8,238.6 84.3,238.4 85.8,238.3 87.4,238.2 88.9,238.2 90.4,238.3 91.9,238.4 93.4,238.6 94.9,238.9 96.4,239.2 97.9,239.6 99.4,239.9 100.9,240.3 102.4,240.7 103.9,241.0 105.4,241.4 106.9,241.7 108.4,242.0 110.0,242.3 111.5,242.5 113.0,242.7 114.5,242.9 116.0,243.1 117.5,243.2 119.0,243.3 120.5,243.4 122.0,243.4 122.0,243.7 Z" fill="url(#g9)" stroke="none"/>
<path d="M87.4,243.7 L87.4,243.4 88.9,243.3 90.4,243.2 91.9,243.1 93.4,242.9 94.9,242.6 96.4,242.3 97.9,241.8 99.4,241.3 100.9,240.6 102.4,239.8 103.9,238.8 105.4,237.7 106.9,236.3 108.4,234.8 110.0,233.2 111.5,231.5 113.0,229.6 114.5,227.7 116.0,225.9 117.5,224.1 119.0,222.5 120.5,221.1 122.0,219.9 123.5,219.2 125.0,218.8 126.5,218.7 128.0,219.1 129.5,219.9 131.0,221.0 132.5,222.4 134.1,224.0 135.6,225.8 137.1,227.6 138.6,229.5 140.1,231.4 141.6,233.1 143.1,234.8 144.6,236.3 146.1,237.6 147.6,238.8 149.1,239.7 150.6,240.6 152.1,241.3 153.6,241.8 155.1,242.3 156.7,242.6 158.2,242.9 159.7,243.1 161.2,243.2 162.7,243.3 164.2,243.4 164.2,243.7 Z" fill="url(#g10)" stroke="none"/>
<line x1="7.50" y1="243.70" x2="212.40" y2="243.70" stroke="#3c963c" stroke-width="1.60"/>
<line x1="7.50" y1="243.50" x2="199.00" y2="243.50" stroke="#1b3f6a" stroke-width="1.80"/>
<polyline points="7.5,243.8 9.5,243.4 11.5,244.5 13.5,243.3 15.5,243.8 17.5,244.2 19.6,243.8 21.6,244.4 23.6,244.5 25.6,243.8 27.6,244.0 29.6,243.4 31.6,244.0 33.6,244.2 35.6,244.0 37.6,242.9 39.6,243.6 41.6,243.9 43.7,244.0 45.7,244.0 47.7,243.6 49.7,243.4 51.7,243.0 53.7,243.0 55.7,243.2 57.7,243.5 59.7,243.4 61.7,243.8 63.7,243.0 65.8,242.1 67.8,242.1 69.8,241.4 71.8,241.6 73.8,240.2 75.8,240.0 77.8,239.6 79.8,238.9 81.8,239.6 83.8,238.5 85.8,238.4 87.9,237.2 89.9,237.9 91.9,238.0 93.9,237.5 95.9,238.2 97.9,237.1 99.9,237.7 101.9,237.0 103.9,236.5 105.9,234.7 107.9,234.5 110.0,231.5 112.0,230.1 114.0,227.5 116.0,225.7 118.0,223.0 120.0,221.1 122.0,219.5 124.0,218.7 126.0,218.3 128.0,218.6 130.0,220.3 132.0,222.3 134.1,224.5 136.1,226.1 138.1,229.0 140.1,230.9 142.1,233.6 144.1,236.2 146.1,237.2 148.1,238.3 150.1,240.4 152.1,241.6 154.1,242.3 156.2,242.1 158.2,243.1 160.2,243.3 162.2,243.0 164.2,243.4 166.2,243.4 168.2,243.7 170.2,243.8 172.2,243.5 174.2,243.5 176.2,243.4 178.2,243.8 180.3,243.5 182.3,243.4 184.3,243.6 186.3,243.4 188.3,243.2 190.3,243.6 192.3,243.6 194.3,244.0 196.3,243.5 198.3,243.7 200.3,243.8 202.4,244.0 204.4,243.4 206.4,242.6 208.4,243.5 210.4,243.6 212.4,243.5" fill="none" stroke="#555555" stroke-width="0.80"/>
<polyline points="57.2,243.3 58.7,243.2 60.2,243.1 61.7,242.9 63.2,242.7 64.8,242.5 66.3,242.3 67.8,242.0 69.3,241.7 70.8,241.4 72.3,241.0 73.8,240.7 75.3,240.3 76.8,239.9 78.3,239.6 79.8,239.2 81.3,238.9 82.8,238.6 84.3,238.4 85.8,238.3 87.4,238.2 88.9,238.2 90.4,238.3 91.9,238.4 93.4,238.6 94.9,238.9 96.4,239.2 97.9,239.6 99.4,239.9 100.9,240.3 102.4,240.7 103.9,241.0 105.4,241.4 106.9,241.7 108.4,242.0 110.0,242.3 111.5,242.5 113.0,242.7 114.5,242.9 116.0,243.1 117.5,243.2 119.0,243.3" fill="none" stroke="#1e1ec0" stroke-width="1.70" stroke-linejoin="round"/>
<polyline points="88.9,243.3 90.4,243.2 91.9,243.1 93.4,242.9 94.9,242.6 96.4,242.3 97.9,241.8 99.4,241.3 100.9,240.6 102.4,239.8 103.9,238.8 105.4,237.7 106.9,236.3 108.4,234.8 110.0,233.2 111.5,231.5 113.0,229.6 114.5,227.7 116.0,225.9 117.5,224.1 119.0,222.5 120.5,221.1 122.0,219.9 123.5,219.2 125.0,218.8 126.5,218.7 128.0,219.1 129.5,219.9 131.0,221.0 132.5,222.4 134.1,224.0 135.6,225.8 137.1,227.6 138.6,229.5 140.1,231.4 141.6,233.1 143.1,234.8 144.6,236.3 146.1,237.6 147.6,238.8 149.1,239.7 150.6,240.6 152.1,241.3 153.6,241.8 155.1,242.3 156.7,242.6 158.2,242.9 159.7,243.1 161.2,243.2 162.7,243.3" fill="none" stroke="#cc2628" stroke-width="1.70" stroke-linejoin="round"/>
<text x="13.0" y="216.3" font-size="9.80" font-family="Liberation Serif" font-weight="bold" fill="#111" stroke="#111" stroke-width="0.25" text-anchor="start" >BL+0.5%MMDS</text>
<line x1="92.20" y1="30.00" x2="92.20" y2="261.00" stroke="#8c8c8c" stroke-width="0.90" stroke-dasharray="2.5,2.5"/>
<line x1="126.32" y1="30.00" x2="126.32" y2="261.00" stroke="#8c8c8c" stroke-width="0.90" stroke-dasharray="2.5,2.5"/>
<text x="81.5" y="28.0" font-size="8.20" font-family="Liberation Serif" font-weight="bold" fill="#111" stroke="#111" stroke-width="0.25" text-anchor="start" >LiPF<tspan font-size="5.5" dy="1.5" font-style="italic">x</tspan></text>
<text x="121.3" y="28.0" font-size="8.20" font-family="Liberation Serif" font-weight="bold" fill="#111" stroke="#111" stroke-width="0.25" text-anchor="start" >LiF/PO<tspan font-size="5.5" dy="1.5" font-style="italic">y</tspan><tspan dy="-1.5">F</tspan><tspan font-size="5.5" dy="1.5" font-style="italic">z</tspan></text>
<rect x="7.50" y="4.80" width="204.90" height="256.70" fill="none" stroke="#111" stroke-width="1.40"/>
<line x1="7.50" y1="261.50" x2="7.50" y2="263.50" stroke="#111" stroke-width="1"/>
<line x1="41.79" y1="261.50" x2="41.79" y2="263.50" stroke="#111" stroke-width="1"/>
<line x1="76.09" y1="261.50" x2="76.09" y2="263.50" stroke="#111" stroke-width="1"/>
<line x1="110.38" y1="261.50" x2="110.38" y2="263.50" stroke="#111" stroke-width="1"/>
<line x1="144.67" y1="261.50" x2="144.67" y2="263.50" stroke="#111" stroke-width="1"/>
<line x1="178.96" y1="261.50" x2="178.96" y2="263.50" stroke="#111" stroke-width="1"/>
<line x1="213.26" y1="261.50" x2="213.26" y2="263.50" stroke="#111" stroke-width="1"/>
<line x1="24.65" y1="261.50" x2="24.65" y2="262.70" stroke="#111" stroke-width="0.8"/>
<line x1="58.94" y1="261.50" x2="58.94" y2="262.70" stroke="#111" stroke-width="0.8"/>
<line x1="93.23" y1="261.50" x2="93.23" y2="262.70" stroke="#111" stroke-width="0.8"/>
<line x1="127.53" y1="261.50" x2="127.53" y2="262.70" stroke="#111" stroke-width="0.8"/>
<line x1="161.82" y1="261.50" x2="161.82" y2="262.70" stroke="#111" stroke-width="0.8"/>
<line x1="196.11" y1="261.50" x2="196.11" y2="262.70" stroke="#111" stroke-width="0.8"/>
<text x="7.5" y="273.0" font-size="9.60" font-family="Liberation Serif" font-weight="bold" fill="#111" stroke="#111" stroke-width="0.25" text-anchor="middle" >692</text>
<text x="41.8" y="273.0" font-size="9.60" font-family="Liberation Serif" font-weight="bold" fill="#111" stroke="#111" stroke-width="0.25" text-anchor="middle" >690</text>
<text x="76.1" y="273.0" font-size="9.60" font-family="Liberation Serif" font-weight="bold" fill="#111" stroke="#111" stroke-width="0.25" text-anchor="middle" >688</text>
<text x="110.4" y="273.0" font-size="9.60" font-family="Liberation Serif" font-weight="bold" fill="#111" stroke="#111" stroke-width="0.25" text-anchor="middle" >686</text>
<text x="144.7" y="273.0" font-size="9.60" font-family="Liberation Serif" font-weight="bold" fill="#111" stroke="#111" stroke-width="0.25" text-anchor="middle" >684</text>
<text x="179.0" y="273.0" font-size="9.60" font-family="Liberation Serif" font-weight="bold" fill="#111" stroke="#111" stroke-width="0.25" text-anchor="middle" >682</text>
<text x="213.3" y="273.0" font-size="9.60" font-family="Liberation Serif" font-weight="bold" fill="#111" stroke="#111" stroke-width="0.25" text-anchor="middle" >680</text>
<text x="11.8" y="19.2" font-size="15.00" font-family="Liberation Serif" font-weight="bold" fill="#111" stroke="#111" stroke-width="0.25" text-anchor="start" >F 1s</text>
<text x="111.4" y="285.2" font-size="12.10" font-family="Liberation Serif" font-weight="bold" fill="#111" stroke="#111" stroke-width="0.25" text-anchor="middle" >Binding Energy / eV</text>
<path d="M300.7,40.3 L300.7,40.0 302.2,39.9 303.7,39.8 305.2,39.6 306.7,39.3 308.3,38.9 309.8,38.4 311.3,37.7 312.8,36.8 314.3,35.6 315.8,34.2 317.3,32.7 318.8,30.9 320.3,29.0 321.8,27.2 323.3,25.4 324.8,23.9 326.3,22.8 327.8,22.1 329.3,21.9 330.8,22.3 332.3,23.2 333.9,24.5 335.4,26.2 336.9,28.0 338.4,29.8 339.9,31.7 341.4,33.3 342.9,34.9 344.4,36.1 345.9,37.2 347.4,38.0 348.9,38.7 350.4,39.1 351.9,39.5 353.4,39.7 354.9,39.9 356.4,40.0 356.4,40.3 Z" fill="url(#g11)" stroke="none"/>
<path d="M324.8,40.3 L324.8,40.0 326.3,39.8 327.8,39.7 329.3,39.4 330.8,39.0 332.3,38.5 333.9,37.9 335.4,37.2 336.9,36.3 338.4,35.3 339.9,34.3 341.4,33.3 342.9,32.3 344.4,31.4 345.9,30.8 347.4,30.4 348.9,30.3 350.4,30.6 351.9,31.1 353.4,31.9 354.9,32.8 356.4,33.8 357.9,34.9 359.5,35.9 361.0,36.8 362.5,37.6 364.0,38.3 365.5,38.8 367.0,39.2 368.5,39.5 370.0,39.8 371.5,39.9 373.0,40.0 373.0,40.3 Z" fill="url(#g12)" stroke="none"/>
<line x1="242.00" y1="40.30" x2="449.80" y2="40.30" stroke="#3c963c" stroke-width="1.60"/>
<line x1="242.00" y1="40.10" x2="373.00" y2="40.10" stroke="#142f7c" stroke-width="2.00"/>
<polyline points="242.0,40.5 244.0,40.5 246.0,40.1 248.1,40.7 250.1,40.3 252.1,40.7 254.1,40.0 256.1,40.2 258.1,40.0 260.2,40.3 262.2,40.2 264.2,40.3 266.2,40.4 268.2,40.2 270.2,40.5 272.3,40.3 274.3,40.1 276.3,40.2 278.3,40.3 280.3,39.8 282.3,40.2 284.4,40.3 286.4,40.1 288.4,40.3 290.4,40.2 292.4,40.2 294.5,39.7 296.5,40.1 298.5,40.0 300.5,39.8 302.5,39.4 304.5,39.7 306.6,39.4 308.6,38.2 310.6,38.2 312.6,36.7 314.6,34.9 316.6,32.5 318.7,30.7 320.7,28.2 322.7,24.7 324.7,22.3 326.7,20.2 328.8,18.7 330.8,18.4 332.8,19.0 334.8,20.5 336.8,21.8 338.8,23.4 340.9,25.1 342.9,26.2 344.9,26.8 346.9,27.6 348.9,28.7 350.9,29.6 353.0,30.6 355.0,32.3 357.0,33.9 359.0,35.3 361.0,36.6 363.0,37.7 365.1,38.9 367.1,38.8 369.1,39.5 371.1,40.0 373.1,39.7 375.2,40.0 377.2,40.1 379.2,39.9 381.2,39.7 383.2,40.1 385.2,39.9 387.3,39.8 389.3,40.4 391.3,40.3 393.3,40.1 395.3,40.6 397.3,40.3 399.4,40.0 401.4,40.0 403.4,40.1 405.4,40.6 407.4,39.8 409.5,40.1 411.5,40.1 413.5,40.2 415.5,40.6 417.5,40.5 419.5,40.5 421.6,39.9 423.6,40.4 425.6,40.3 427.6,40.3 429.6,40.2 431.6,40.2 433.7,40.2 435.7,40.5 437.7,40.9 439.7,40.2 441.7,40.2 443.7,40.0 445.8,40.3 447.8,40.4 449.8,40.2" fill="none" stroke="#555555" stroke-width="0.80"/>
<polyline points="302.2,39.9 303.7,39.8 305.2,39.6 306.7,39.3 308.3,38.9 309.8,38.4 311.3,37.7 312.8,36.8 314.3,35.6 315.8,34.2 317.3,32.7 318.8,30.9 320.3,29.0 321.8,27.2 323.3,25.4 324.8,23.9 326.3,22.8 327.8,22.1 329.3,21.9 330.8,22.3 332.3,23.2 333.9,24.5 335.4,26.2 336.9,28.0 338.4,29.8 339.9,31.7 341.4,33.3 342.9,34.9 344.4,36.1 345.9,37.2 347.4,38.0 348.9,38.7 350.4,39.1 351.9,39.5 353.4,39.7 354.9,39.9" fill="none" stroke="#cc2628" stroke-width="1.70" stroke-linejoin="round"/>
<polyline points="326.3,39.8 327.8,39.7 329.3,39.4 330.8,39.0 332.3,38.5 333.9,37.9 335.4,37.2 336.9,36.3 338.4,35.3 339.9,34.3 341.4,33.3 342.9,32.3 344.4,31.4 345.9,30.8 347.4,30.4 348.9,30.3 350.4,30.6 351.9,31.1 353.4,31.9 354.9,32.8 356.4,33.8 357.9,34.9 359.5,35.9 361.0,36.8 362.5,37.6 364.0,38.3 365.5,38.8 367.0,39.2 368.5,39.5 370.0,39.8 371.5,39.9" fill="none" stroke="#1e1ec0" stroke-width="1.70" stroke-linejoin="round"/>
<text x="245.3" y="31.2" font-size="9.40" font-family="Liberation Serif" font-weight="bold" fill="#111" stroke="#111" stroke-width="0.25" text-anchor="start" >Pristine</text>
<path d="M302.2,87.3 L302.2,87.0 303.7,87.0 305.2,87.0 306.7,86.9 308.3,86.8 309.8,86.7 311.3,86.5 312.8,86.3 314.3,86.0 315.8,85.6 317.3,85.1 318.8,84.5 320.3,83.7 321.8,82.7 323.3,81.5 324.8,80.1 326.3,78.5 327.8,76.7 329.3,74.7 330.8,72.5 332.3,70.2 333.9,67.9 335.4,65.6 336.9,63.4 338.4,61.4 339.9,59.8 341.4,58.5 342.9,57.6 344.4,57.3 345.9,57.5 347.4,58.2 348.9,59.4 350.4,60.9 351.9,62.8 353.4,65.0 354.9,67.2 356.4,69.6 357.9,71.9 359.5,74.1 361.0,76.1 362.5,78.0 364.0,79.7 365.5,81.1 367.0,82.4 368.5,83.4 370.0,84.3 371.5,84.9 373.0,85.5 374.5,85.9 376.0,86.2 377.5,86.5 379.0,86.6 380.5,86.8 382.0,86.9 383.5,86.9 385.1,87.0 386.6,87.0 386.6,87.3 Z" fill="url(#g13)" stroke="none"/>
<path d="M318.8,87.3 L318.8,87.0 320.3,86.9 321.8,86.8 323.3,86.7 324.8,86.6 326.3,86.4 327.8,86.3 329.3,86.0 330.8,85.8 332.3,85.5 333.9,85.1 335.4,84.8 336.9,84.3 338.4,83.9 339.9,83.4 341.4,82.9 342.9,82.4 344.4,81.9 345.9,81.4 347.4,80.9 348.9,80.4 350.4,80.0 351.9,79.6 353.4,79.4 354.9,79.1 356.4,79.0 357.9,79.0 359.5,79.1 361.0,79.2 362.5,79.5 364.0,79.8 365.5,80.2 367.0,80.6 368.5,81.1 370.0,81.6 371.5,82.1 373.0,82.7 374.5,83.2 376.0,83.7 377.5,84.1 379.0,84.5 380.5,84.9 382.0,85.3 383.5,85.6 385.1,85.9 386.6,86.1 388.1,86.3 389.6,86.5 391.1,86.7 392.6,86.8 394.1,86.9 395.6,87.0 397.1,87.0 397.1,87.3 Z" fill="url(#g14)" stroke="none"/>
<line x1="242.00" y1="87.30" x2="449.80" y2="87.30" stroke="#3c963c" stroke-width="1.60"/>
<line x1="242.00" y1="87.10" x2="411.00" y2="87.10" stroke="#142f7c" stroke-width="2.00"/>
<polyline points="242.0,87.5 244.0,87.4 246.0,87.4 248.1,87.2 250.1,86.8 252.1,87.1 254.1,87.0 256.1,87.2 258.1,87.2 260.2,87.3 262.2,87.3 264.2,87.7 266.2,87.4 268.2,87.4 270.2,87.0 272.3,87.0 274.3,86.9 276.3,86.8 278.3,87.2 280.3,86.9 282.3,86.7 284.4,87.1 286.4,86.9 288.4,87.1 290.4,87.4 292.4,87.0 294.5,87.2 296.5,87.0 298.5,87.1 300.5,86.9 302.5,87.3 304.5,86.4 306.6,86.5 308.6,86.7 310.6,86.6 312.6,86.1 314.6,85.5 316.6,84.8 318.7,83.9 320.7,83.1 322.7,81.3 324.7,78.7 326.7,76.4 328.8,73.7 330.8,70.2 332.8,66.6 334.8,62.8 336.8,58.6 338.8,55.5 340.9,52.5 342.9,50.7 344.9,50.1 346.9,49.9 348.9,50.3 350.9,52.7 353.0,55.3 355.0,57.8 357.0,61.2 359.0,64.4 361.0,67.3 363.0,70.9 365.1,73.1 367.1,75.8 369.1,77.9 371.1,79.5 373.1,80.6 375.2,82.0 377.2,83.4 379.2,84.1 381.2,84.3 383.2,84.9 385.2,85.8 387.3,85.4 389.3,86.3 391.3,86.7 393.3,86.6 395.3,86.6 397.3,86.5 399.4,86.7 401.4,87.1 403.4,87.1 405.4,87.4 407.4,87.1 409.5,87.2 411.5,87.1 413.5,87.4 415.5,87.2 417.5,87.3 419.5,87.4 421.6,87.4 423.6,87.4 425.6,87.4 427.6,87.1 429.6,87.2 431.6,87.5 433.7,87.1 435.7,87.1 437.7,86.9 439.7,87.3 441.7,87.3 443.7,87.4 445.8,87.2 447.8,87.1 449.8,87.2" fill="none" stroke="#555555" stroke-width="0.80"/>
<polyline points="306.7,86.9 308.3,86.8 309.8,86.7 311.3,86.5 312.8,86.3 314.3,86.0 315.8,85.6 317.3,85.1 318.8,84.5 320.3,83.7 321.8,82.7 323.3,81.5 324.8,80.1 326.3,78.5 327.8,76.7 329.3,74.7 330.8,72.5 332.3,70.2 333.9,67.9 335.4,65.6 336.9,63.4 338.4,61.4 339.9,59.8 341.4,58.5 342.9,57.6 344.4,57.3 345.9,57.5 347.4,58.2 348.9,59.4 350.4,60.9 351.9,62.8 353.4,65.0 354.9,67.2 356.4,69.6 357.9,71.9 359.5,74.1 361.0,76.1 362.5,78.0 364.0,79.7 365.5,81.1 367.0,82.4 368.5,83.4 370.0,84.3 371.5,84.9 373.0,85.5 374.5,85.9 376.0,86.2 377.5,86.5 379.0,86.6 380.5,86.8 382.0,86.9 383.5,86.9" fill="none" stroke="#cc2628" stroke-width="1.70" stroke-linejoin="round"/>
<polyline points="320.3,86.9 321.8,86.8 323.3,86.7 324.8,86.6 326.3,86.4 327.8,86.3 329.3,86.0 330.8,85.8 332.3,85.5 333.9,85.1 335.4,84.8 336.9,84.3 338.4,83.9 339.9,83.4 341.4,82.9 342.9,82.4 344.4,81.9 345.9,81.4 347.4,80.9 348.9,80.4 350.4,80.0 351.9,79.6 353.4,79.4 354.9,79.1 356.4,79.0 357.9,79.0 359.5,79.1 361.0,79.2 362.5,79.5 364.0,79.8 365.5,80.2 367.0,80.6 368.5,81.1 370.0,81.6 371.5,82.1 373.0,82.7 374.5,83.2 376.0,83.7 377.5,84.1 379.0,84.5 380.5,84.9 382.0,85.3 383.5,85.6 385.1,85.9 386.6,86.1 388.1,86.3 389.6,86.5 391.1,86.7 392.6,86.8 394.1,86.9" fill="none" stroke="#1e1ec0" stroke-width="1.70" stroke-linejoin="round"/>
<text x="245.3" y="62.6" font-size="9.40" font-family="Liberation Serif" font-weight="bold" fill="#111" stroke="#111" stroke-width="0.25" text-anchor="start" >BL+1.5%DTD</text>
<path d="M300.7,130.4 L300.7,130.1 302.2,130.1 303.7,130.1 305.2,130.0 306.7,129.9 308.3,129.8 309.8,129.6 311.3,129.4 312.8,129.1 314.3,128.7 315.8,128.2 317.3,127.6 318.8,126.9 320.3,126.0 321.8,125.0 323.3,123.8 324.8,122.4 326.3,120.9 327.8,119.2 329.3,117.5 330.8,115.6 332.3,113.8 333.9,112.0 335.4,110.2 336.9,108.7 338.4,107.3 339.9,106.3 341.4,105.6 342.9,105.3 344.4,105.4 345.9,105.9 347.4,106.7 348.9,107.9 350.4,109.3 351.9,111.0 353.4,112.8 354.9,114.6 356.4,116.5 357.9,118.3 359.5,120.0 361.0,121.6 362.5,123.0 364.0,124.3 365.5,125.5 367.0,126.4 368.5,127.2 370.0,127.9 371.5,128.4 373.0,128.9 374.5,129.2 376.0,129.5 377.5,129.7 379.0,129.8 380.5,129.9 382.0,130.0 383.5,130.1 385.1,130.1 385.1,130.4 Z" fill="url(#g15)" stroke="none"/>
<path d="M333.9,130.4 L333.9,130.1 335.4,130.0 336.9,129.9 338.4,129.7 339.9,129.5 341.4,129.2 342.9,128.8 344.4,128.4 345.9,127.8 347.4,127.2 348.9,126.5 350.4,125.8 351.9,125.0 353.4,124.2 354.9,123.5 356.4,122.9 357.9,122.3 359.5,122.0 361.0,121.8 362.5,121.8 364.0,122.1 365.5,122.5 367.0,123.0 368.5,123.7 370.0,124.5 371.5,125.2 373.0,126.0 374.5,126.7 376.0,127.4 377.5,128.0 379.0,128.5 380.5,129.0 382.0,129.3 383.5,129.6 385.1,129.8 386.6,130.0 388.1,130.1 388.1,130.4 Z" fill="url(#g16)" stroke="none"/>
<line x1="242.00" y1="130.40" x2="449.80" y2="130.40" stroke="#3c963c" stroke-width="1.60"/>
<line x1="242.00" y1="130.20" x2="415.00" y2="130.20" stroke="#142f7c" stroke-width="2.00"/>
<polyline points="242.0,130.4 244.0,130.2 246.0,130.3 248.1,130.3 250.1,130.5 252.1,130.3 254.1,130.5 256.1,130.5 258.1,130.3 260.2,129.9 262.2,130.1 264.2,130.3 266.2,130.4 268.2,130.1 270.2,130.0 272.3,130.1 274.3,130.3 276.3,130.3 278.3,130.4 280.3,130.3 282.3,130.5 284.4,130.3 286.4,130.7 288.4,130.5 290.4,130.2 292.4,130.4 294.5,130.1 296.5,130.5 298.5,130.2 300.5,130.0 302.5,130.3 304.5,130.1 306.6,129.4 308.6,129.8 310.6,129.6 312.6,129.2 314.6,128.5 316.6,127.8 318.7,126.7 320.7,125.5 322.7,124.3 324.7,122.5 326.7,120.7 328.8,118.4 330.8,115.7 332.8,112.9 334.8,110.5 336.8,108.1 338.8,106.1 340.9,104.8 342.9,103.3 344.9,103.4 346.9,103.6 348.9,104.1 350.9,104.8 353.0,106.3 355.0,107.9 357.0,109.3 359.0,110.9 361.0,113.1 363.0,115.1 365.1,116.9 367.1,119.0 369.1,120.9 371.1,123.1 373.1,124.5 375.2,125.9 377.2,127.5 379.2,127.8 381.2,128.7 383.2,129.3 385.2,129.1 387.3,129.8 389.3,130.1 391.3,130.1 393.3,130.0 395.3,130.0 397.3,130.2 399.4,130.4 401.4,130.4 403.4,130.4 405.4,130.5 407.4,130.3 409.5,130.4 411.5,130.3 413.5,130.5 415.5,130.5 417.5,130.3 419.5,130.4 421.6,130.1 423.6,130.5 425.6,130.3 427.6,130.3 429.6,130.6 431.6,130.2 433.7,130.3 435.7,130.8 437.7,130.2 439.7,130.2 441.7,130.5 443.7,130.0 445.8,130.3 447.8,130.6 449.8,130.2" fill="none" stroke="#555555" stroke-width="0.80"/>
<polyline points="305.2,130.0 306.7,129.9 308.3,129.8 309.8,129.6 311.3,129.4 312.8,129.1 314.3,128.7 315.8,128.2 317.3,127.6 318.8,126.9 320.3,126.0 321.8,125.0 323.3,123.8 324.8,122.4 326.3,120.9 327.8,119.2 329.3,117.5 330.8,115.6 332.3,113.8 333.9,112.0 335.4,110.2 336.9,108.7 338.4,107.3 339.9,106.3 341.4,105.6 342.9,105.3 344.4,105.4 345.9,105.9 347.4,106.7 348.9,107.9 350.4,109.3 351.9,111.0 353.4,112.8 354.9,114.6 356.4,116.5 357.9,118.3 359.5,120.0 361.0,121.6 362.5,123.0 364.0,124.3 365.5,125.5 367.0,126.4 368.5,127.2 370.0,127.9 371.5,128.4 373.0,128.9 374.5,129.2 376.0,129.5 377.5,129.7 379.0,129.8 380.5,129.9 382.0,130.0" fill="none" stroke="#cc2628" stroke-width="1.70" stroke-linejoin="round"/>
<polyline points="335.4,130.0 336.9,129.9 338.4,129.7 339.9,129.5 341.4,129.2 342.9,128.8 344.4,128.4 345.9,127.8 347.4,127.2 348.9,126.5 350.4,125.8 351.9,125.0 353.4,124.2 354.9,123.5 356.4,122.9 357.9,122.3 359.5,122.0 361.0,121.8 362.5,121.8 364.0,122.1 365.5,122.5 367.0,123.0 368.5,123.7 370.0,124.5 371.5,125.2 373.0,126.0 374.5,126.7 376.0,127.4 377.5,128.0 379.0,128.5 380.5,129.0 382.0,129.3 383.5,129.6 385.1,129.8 386.6,130.0" fill="none" stroke="#1e1ec0" stroke-width="1.70" stroke-linejoin="round"/>
<text x="245.3" y="100.0" font-size="9.40" font-family="Liberation Serif" font-weight="bold" fill="#111" stroke="#111" stroke-width="0.25" text-anchor="start" >BL+1%DTD+0.5%PES</text>
<path d="M302.2,173.7 L302.2,173.4 303.7,173.4 305.2,173.4 306.7,173.3 308.3,173.2 309.8,173.1 311.3,173.0 312.8,172.8 314.3,172.5 315.8,172.1 317.3,171.7 318.8,171.1 320.3,170.3 321.8,169.4 323.3,168.2 324.8,166.8 326.3,165.1 327.8,163.2 329.3,161.1 330.8,158.7 332.3,156.2 333.9,153.6 335.4,150.9 336.9,148.2 338.4,145.7 339.9,143.5 341.4,141.6 342.9,140.2 344.4,139.3 345.9,139.0 347.4,139.3 348.9,140.2 350.4,141.6 351.9,143.5 353.4,145.7 354.9,148.2 356.4,150.9 357.9,153.6 359.5,156.2 361.0,158.7 362.5,161.1 364.0,163.2 365.5,165.1 367.0,166.8 368.5,168.2 370.0,169.4 371.5,170.3 373.0,171.1 374.5,171.7 376.0,172.1 377.5,172.5 379.0,172.8 380.5,173.0 382.0,173.1 383.5,173.2 385.1,173.3 386.6,173.4 388.1,173.4 389.6,173.4 389.6,173.7 Z" fill="url(#g17)" stroke="none"/>
<path d="M327.8,173.7 L327.8,173.4 329.3,173.3 330.8,173.3 332.3,173.1 333.9,173.0 335.4,172.8 336.9,172.7 338.4,172.4 339.9,172.2 341.4,171.9 342.9,171.6 344.4,171.3 345.9,170.9 347.4,170.5 348.9,170.1 350.4,169.8 351.9,169.4 353.4,169.1 354.9,168.8 356.4,168.5 357.9,168.3 359.5,168.2 361.0,168.1 362.5,168.1 364.0,168.2 365.5,168.4 367.0,168.6 368.5,168.8 370.0,169.2 371.5,169.5 373.0,169.9 374.5,170.3 376.0,170.6 377.5,171.0 379.0,171.4 380.5,171.7 382.0,172.0 383.5,172.3 385.1,172.5 386.6,172.7 388.1,172.9 389.6,173.1 391.1,173.2 392.6,173.3 394.1,173.4 395.6,173.4 395.6,173.7 Z" fill="url(#g18)" stroke="none"/>
<line x1="242.00" y1="173.70" x2="449.80" y2="173.70" stroke="#3c963c" stroke-width="1.60"/>
<line x1="262.00" y1="173.50" x2="411.00" y2="173.50" stroke="#142f7c" stroke-width="2.00"/>
<polyline points="242.0,173.7 244.0,173.9 246.0,174.1 248.1,173.6 250.1,173.8 252.1,173.5 254.1,173.6 256.1,173.7 258.1,173.7 260.2,173.3 262.2,173.3 264.2,173.5 266.2,173.7 268.2,173.8 270.2,173.7 272.3,173.3 274.3,173.5 276.3,173.6 278.3,173.8 280.3,173.5 282.3,173.7 284.4,173.5 286.4,173.4 288.4,173.3 290.4,173.5 292.4,173.6 294.5,173.4 296.5,173.1 298.5,173.4 300.5,173.7 302.5,173.1 304.5,173.3 306.6,172.6 308.6,173.3 310.6,173.0 312.6,172.8 314.6,172.3 316.6,171.9 318.7,171.4 320.7,170.4 322.7,168.6 324.7,166.8 326.7,164.5 328.8,161.2 330.8,158.3 332.8,154.6 334.8,151.2 336.8,147.2 338.8,143.7 340.9,140.6 342.9,137.9 344.9,136.5 346.9,136.0 348.9,136.6 350.9,138.5 353.0,140.6 355.0,143.3 357.0,146.7 359.0,150.1 361.0,153.2 363.0,156.6 365.1,159.4 367.1,161.6 369.1,164.0 371.1,165.5 373.1,167.2 375.2,168.4 377.2,169.4 379.2,170.9 381.2,171.2 383.2,172.0 385.2,172.2 387.3,172.5 389.3,172.5 391.3,173.0 393.3,172.8 395.3,173.3 397.3,173.3 399.4,173.4 401.4,173.2 403.4,173.5 405.4,173.6 407.4,173.6 409.5,173.8 411.5,173.3 413.5,173.4 415.5,173.5 417.5,173.5 419.5,173.7 421.6,173.7 423.6,173.4 425.6,173.8 427.6,173.8 429.6,173.3 431.6,173.3 433.7,173.6 435.7,173.5 437.7,173.6 439.7,173.3 441.7,173.7 443.7,173.6 445.8,173.5 447.8,173.3 449.8,173.7" fill="none" stroke="#555555" stroke-width="0.80"/>
<polyline points="306.7,173.3 308.3,173.2 309.8,173.1 311.3,173.0 312.8,172.8 314.3,172.5 315.8,172.1 317.3,171.7 318.8,171.1 320.3,170.3 321.8,169.4 323.3,168.2 324.8,166.8 326.3,165.1 327.8,163.2 329.3,161.1 330.8,158.7 332.3,156.2 333.9,153.6 335.4,150.9 336.9,148.2 338.4,145.7 339.9,143.5 341.4,141.6 342.9,140.2 344.4,139.3 345.9,139.0 347.4,139.3 348.9,140.2 350.4,141.6 351.9,143.5 353.4,145.7 354.9,148.2 356.4,150.9 357.9,153.6 359.5,156.2 361.0,158.7 362.5,161.1 364.0,163.2 365.5,165.1 367.0,166.8 368.5,168.2 370.0,169.4 371.5,170.3 373.0,171.1 374.5,171.7 376.0,172.1 377.5,172.5 379.0,172.8 380.5,173.0 382.0,173.1 383.5,173.2 385.1,173.3" fill="none" stroke="#cc2628" stroke-width="1.70" stroke-linejoin="round"/>
<polyline points="329.3,173.3 330.8,173.3 332.3,173.1 333.9,173.0 335.4,172.8 336.9,172.7 338.4,172.4 339.9,172.2 341.4,171.9 342.9,171.6 344.4,171.3 345.9,170.9 347.4,170.5 348.9,170.1 350.4,169.8 351.9,169.4 353.4,169.1 354.9,168.8 356.4,168.5 357.9,168.3 359.5,168.2 361.0,168.1 362.5,168.1 364.0,168.2 365.5,168.4 367.0,168.6 368.5,168.8 370.0,169.2 371.5,169.5 373.0,169.9 374.5,170.3 376.0,170.6 377.5,171.0 379.0,171.4 380.5,171.7 382.0,172.0 383.5,172.3 385.1,172.5 386.6,172.7 388.1,172.9 389.6,173.1 391.1,173.2 392.6,173.3" fill="none" stroke="#1e1ec0" stroke-width="1.70" stroke-linejoin="round"/>
<text x="245.3" y="142.8" font-size="9.40" font-family="Liberation Serif" font-weight="bold" fill="#111" stroke="#111" stroke-width="0.25" text-anchor="start" >BL+0.5%TMSB</text>
<path d="M303.7,216.2 L303.7,215.9 305.2,215.9 306.7,215.9 308.3,215.8 309.8,215.7 311.3,215.6 312.8,215.4 314.3,215.2 315.8,215.0 317.3,214.6 318.8,214.2 320.3,213.7 321.8,213.0 323.3,212.3 324.8,211.3 326.3,210.3 327.8,209.0 329.3,207.6 330.8,206.1 332.3,204.4 333.9,202.6 335.4,200.8 336.9,198.9 338.4,197.1 339.9,195.3 341.4,193.7 342.9,192.3 344.4,191.2 345.9,190.4 347.4,189.9 348.9,189.8 350.4,190.1 351.9,190.8 353.4,191.8 354.9,193.1 356.4,194.6 357.9,196.3 359.5,198.1 361.0,200.0 362.5,201.8 364.0,203.6 365.5,205.4 367.0,207.0 368.5,208.4 370.0,209.7 371.5,210.9 373.0,211.9 374.5,212.7 376.0,213.4 377.5,214.0 379.0,214.5 380.5,214.8 382.0,215.1 383.5,215.3 385.1,215.5 386.6,215.6 388.1,215.7 389.6,215.8 391.1,215.9 392.6,215.9 392.6,216.2 Z" fill="url(#g19)" stroke="none"/>
<path d="M306.7,216.2 L306.7,215.9 308.3,215.8 309.8,215.7 311.3,215.6 312.8,215.5 314.3,215.3 315.8,215.1 317.3,214.8 318.8,214.5 320.3,214.2 321.8,213.8 323.3,213.4 324.8,212.9 326.3,212.4 327.8,211.9 329.3,211.4 330.8,210.9 332.3,210.4 333.9,209.9 335.4,209.5 336.9,209.2 338.4,208.9 339.9,208.7 341.4,208.6 342.9,208.6 344.4,208.7 345.9,208.9 347.4,209.2 348.9,209.6 350.4,210.0 351.9,210.5 353.4,211.0 354.9,211.5 356.4,212.0 357.9,212.5 359.5,213.0 361.0,213.4 362.5,213.9 364.0,214.2 365.5,214.6 367.0,214.9 368.5,215.1 370.0,215.3 371.5,215.5 373.0,215.6 374.5,215.7 376.0,215.8 377.5,215.9 377.5,216.2 Z" fill="url(#g20)" stroke="none"/>
<line x1="242.00" y1="216.20" x2="449.80" y2="216.20" stroke="#3c963c" stroke-width="1.60"/>
<line x1="242.00" y1="216.00" x2="412.00" y2="216.00" stroke="#142f7c" stroke-width="2.00"/>
<polyline points="242.0,216.1 244.0,216.2 246.0,216.3 248.1,216.3 250.1,216.1 252.1,216.0 254.1,216.3 256.1,216.2 258.1,216.2 260.2,216.0 262.2,216.0 264.2,216.4 266.2,216.0 268.2,216.3 270.2,216.0 272.3,216.3 274.3,216.3 276.3,216.2 278.3,216.1 280.3,216.3 282.3,216.0 284.4,216.0 286.4,216.0 288.4,216.0 290.4,215.8 292.4,216.1 294.5,216.0 296.5,216.0 298.5,216.3 300.5,215.8 302.5,216.0 304.5,215.8 306.6,215.7 308.6,215.4 310.6,215.0 312.6,214.6 314.6,214.3 316.6,213.4 318.7,212.5 320.7,211.5 322.7,209.9 324.7,208.0 326.7,206.0 328.8,203.5 330.8,200.9 332.8,197.8 334.8,194.5 336.8,191.9 338.8,189.5 340.9,186.4 342.9,184.9 344.9,183.7 346.9,183.4 348.9,183.1 350.9,184.1 353.0,185.9 355.0,188.5 357.0,190.9 359.0,194.2 361.0,197.4 363.0,200.3 365.1,203.1 367.1,205.7 369.1,207.9 371.1,210.3 373.1,211.1 375.2,212.7 377.2,213.4 379.2,214.4 381.2,214.8 383.2,215.2 385.2,215.7 387.3,215.5 389.3,215.6 391.3,216.0 393.3,216.3 395.3,216.1 397.3,216.1 399.4,216.0 401.4,216.0 403.4,215.7 405.4,215.9 407.4,216.1 409.5,216.0 411.5,216.6 413.5,216.2 415.5,216.3 417.5,216.1 419.5,216.0 421.6,216.1 423.6,215.9 425.6,216.2 427.6,216.0 429.6,216.1 431.6,216.1 433.7,216.1 435.7,216.2 437.7,216.1 439.7,216.1 441.7,215.9 443.7,216.2 445.8,216.1 447.8,215.6 449.8,216.0" fill="none" stroke="#555555" stroke-width="0.80"/>
<polyline points="308.3,215.8 309.8,215.7 311.3,215.6 312.8,215.4 314.3,215.2 315.8,215.0 317.3,214.6 318.8,214.2 320.3,213.7 321.8,213.0 323.3,212.3 324.8,211.3 326.3,210.3 327.8,209.0 329.3,207.6 330.8,206.1 332.3,204.4 333.9,202.6 335.4,200.8 336.9,198.9 338.4,197.1 339.9,195.3 341.4,193.7 342.9,192.3 344.4,191.2 345.9,190.4 347.4,189.9 348.9,189.8 350.4,190.1 351.9,190.8 353.4,191.8 354.9,193.1 356.4,194.6 357.9,196.3 359.5,198.1 361.0,200.0 362.5,201.8 364.0,203.6 365.5,205.4 367.0,207.0 368.5,208.4 370.0,209.7 371.5,210.9 373.0,211.9 374.5,212.7 376.0,213.4 377.5,214.0 379.0,214.5 380.5,214.8 382.0,215.1 383.5,215.3 385.1,215.5 386.6,215.6 388.1,215.7 389.6,215.8" fill="none" stroke="#cc2628" stroke-width="1.70" stroke-linejoin="round"/>
<polyline points="308.3,215.8 309.8,215.7 311.3,215.6 312.8,215.5 314.3,215.3 315.8,215.1 317.3,214.8 318.8,214.5 320.3,214.2 321.8,213.8 323.3,213.4 324.8,212.9 326.3,212.4 327.8,211.9 329.3,211.4 330.8,210.9 332.3,210.4 333.9,209.9 335.4,209.5 336.9,209.2 338.4,208.9 339.9,208.7 341.4,208.6 342.9,208.6 344.4,208.7 345.9,208.9 347.4,209.2 348.9,209.6 350.4,210.0 351.9,210.5 353.4,211.0 354.9,211.5 356.4,212.0 357.9,212.5 359.5,213.0 361.0,213.4 362.5,213.9 364.0,214.2 365.5,214.6 367.0,214.9 368.5,215.1 370.0,215.3 371.5,215.5 373.0,215.6 374.5,215.7 376.0,215.8" fill="none" stroke="#1e1ec0" stroke-width="1.70" stroke-linejoin="round"/>
<text x="247.3" y="193.5" font-size="9.40" font-family="Liberation Serif" font-weight="bold" fill="#111" stroke="#111" stroke-width="0.25" text-anchor="start" >BL+0.5%TTSP</text>
<path d="M306.7,258.8 L306.7,258.5 308.3,258.5 309.8,258.4 311.3,258.4 312.8,258.3 314.3,258.1 315.8,257.9 317.3,257.7 318.8,257.3 320.3,256.8 321.8,256.2 323.3,255.5 324.8,254.5 326.3,253.3 327.8,251.8 329.3,250.1 330.8,248.2 332.3,246.0 333.9,243.7 335.4,241.2 336.9,238.6 338.4,236.1 339.9,233.7 341.4,231.6 342.9,229.8 344.4,228.4 345.9,227.6 347.4,227.4 348.9,227.8 350.4,228.7 351.9,230.2 353.4,232.1 354.9,234.4 356.4,236.8 357.9,239.3 359.5,241.9 361.0,244.3 362.5,246.7 364.0,248.8 365.5,250.6 367.0,252.3 368.5,253.6 370.0,254.8 371.5,255.7 373.0,256.4 374.5,257.0 376.0,257.4 377.5,257.8 379.0,258.0 380.5,258.2 382.0,258.3 383.5,258.4 385.1,258.5 386.6,258.5 388.1,258.5 388.1,258.8 Z" fill="url(#g21)" stroke="none"/>
<path d="M345.9,258.8 L345.9,258.5 347.4,258.3 348.9,258.2 350.4,258.0 351.9,257.8 353.4,257.5 354.9,257.3 356.4,257.0 357.9,256.8 359.5,256.5 361.0,256.4 362.5,256.2 364.0,256.2 365.5,256.2 367.0,256.3 368.5,256.5 370.0,256.7 371.5,257.0 373.0,257.2 374.5,257.5 376.0,257.8 377.5,258.0 379.0,258.2 380.5,258.3 382.0,258.4 383.5,258.5 383.5,258.8 Z" fill="url(#g22)" stroke="none"/>
<line x1="242.00" y1="258.80" x2="449.80" y2="258.80" stroke="#3c963c" stroke-width="1.60"/>
<line x1="242.00" y1="258.60" x2="409.00" y2="258.60" stroke="#142f7c" stroke-width="2.00"/>
<polyline points="242.0,258.7 244.0,258.5 246.0,259.0 248.1,258.6 250.1,258.6 252.1,258.7 254.1,258.6 256.1,258.6 258.1,258.5 260.2,258.9 262.2,258.7 264.2,258.8 266.2,258.5 268.2,258.7 270.2,259.0 272.3,258.7 274.3,258.9 276.3,258.5 278.3,258.8 280.3,259.1 282.3,258.8 284.4,258.5 286.4,258.6 288.4,258.8 290.4,258.5 292.4,258.5 294.5,258.4 296.5,258.5 298.5,258.6 300.5,258.8 302.5,258.5 304.5,258.5 306.6,258.5 308.6,258.4 310.6,258.6 312.6,258.2 314.6,258.1 316.6,257.7 318.7,257.4 320.7,256.8 322.7,255.7 324.7,254.4 326.7,253.0 328.8,250.8 330.8,248.4 332.8,245.3 334.8,242.1 336.8,238.9 338.8,235.0 340.9,232.4 342.9,229.6 344.9,228.1 346.9,227.3 348.9,227.1 350.9,228.6 353.0,230.7 355.0,232.9 357.0,236.2 359.0,239.0 361.0,241.7 363.0,245.0 365.1,247.5 367.1,249.8 369.1,251.9 371.1,253.6 373.1,254.6 375.2,256.0 377.2,256.7 379.2,257.4 381.2,258.1 383.2,258.0 385.2,258.3 387.3,258.3 389.3,258.4 391.3,258.2 393.3,259.0 395.3,258.7 397.3,258.7 399.4,258.8 401.4,258.6 403.4,258.7 405.4,258.6 407.4,259.0 409.5,258.9 411.5,258.7 413.5,258.8 415.5,258.8 417.5,258.7 419.5,258.8 421.6,258.9 423.6,258.4 425.6,258.9 427.6,258.6 429.6,258.6 431.6,258.5 433.7,258.9 435.7,258.9 437.7,258.7 439.7,258.7 441.7,259.2 443.7,259.3 445.8,258.9 447.8,258.8 449.8,258.8" fill="none" stroke="#555555" stroke-width="0.80"/>
<polyline points="309.8,258.4 311.3,258.4 312.8,258.3 314.3,258.1 315.8,257.9 317.3,257.7 318.8,257.3 320.3,256.8 321.8,256.2 323.3,255.5 324.8,254.5 326.3,253.3 327.8,251.8 329.3,250.1 330.8,248.2 332.3,246.0 333.9,243.7 335.4,241.2 336.9,238.6 338.4,236.1 339.9,233.7 341.4,231.6 342.9,229.8 344.4,228.4 345.9,227.6 347.4,227.4 348.9,227.8 350.4,228.7 351.9,230.2 353.4,232.1 354.9,234.4 356.4,236.8 357.9,239.3 359.5,241.9 361.0,244.3 362.5,246.7 364.0,248.8 365.5,250.6 367.0,252.3 368.5,253.6 370.0,254.8 371.5,255.7 373.0,256.4 374.5,257.0 376.0,257.4 377.5,257.8 379.0,258.0 380.5,258.2 382.0,258.3 383.5,258.4" fill="none" stroke="#cc2628" stroke-width="1.70" stroke-linejoin="round"/>
<polyline points="347.4,258.3 348.9,258.2 350.4,258.0 351.9,257.8 353.4,257.5 354.9,257.3 356.4,257.0 357.9,256.8 359.5,256.5 361.0,256.4 362.5,256.2 364.0,256.2 365.5,256.2 367.0,256.3 368.5,256.5 370.0,256.7 371.5,257.0 373.0,257.2 374.5,257.5 376.0,257.8 377.5,258.0 379.0,258.2 380.5,258.3 382.0,258.4" fill="none" stroke="#1e1ec0" stroke-width="1.70" stroke-linejoin="round"/>
<text x="245.3" y="237.9" font-size="9.40" font-family="Liberation Serif" font-weight="bold" fill="#111" stroke="#111" stroke-width="0.25" text-anchor="start" >BL+0.5%MMDS</text>
<line x1="329.02" y1="14.00" x2="329.02" y2="64.30" stroke="#777" stroke-width="0.80" stroke-dasharray="1.2,1.5"/>
<line x1="349.15" y1="23.00" x2="349.15" y2="51.40" stroke="#777" stroke-width="0.80" stroke-dasharray="1.2,1.5"/>
<text x="306.3" y="11.8" font-size="6.60" font-family="Liberation Serif" font-weight="bold" fill="#111" stroke="#111" stroke-width="0.25" text-anchor="start" >CMC<tspan dx="0.5">,</tspan><tspan dx="3">C-O/R</tspan><tspan font-size="4.5" dy="1.5">2</tspan><tspan dy="-1.5">CO</tspan><tspan font-size="4.5" dy="1.5">3</tspan></text>
<text x="343.4" y="22.9" font-size="6.60" font-family="Liberation Serif" font-weight="bold" fill="#111" stroke="#111" stroke-width="0.25" text-anchor="start" >CMC<tspan dx="0.5">,</tspan><tspan dx="3">C=O/Li</tspan><tspan font-size="4.5" dy="1.5">2</tspan><tspan dy="-1.5">CO</tspan><tspan font-size="4.5" dy="1.5">3</tspan></text>
<rect x="242.00" y="4.60" width="207.80" height="259.40" fill="none" stroke="#111" stroke-width="1.40"/>
<line x1="242.00" y1="264.00" x2="242.00" y2="266.00" stroke="#111" stroke-width="1"/>
<line x1="267.98" y1="264.00" x2="267.98" y2="266.00" stroke="#111" stroke-width="1"/>
<line x1="293.95" y1="264.00" x2="293.95" y2="266.00" stroke="#111" stroke-width="1"/>
<line x1="319.93" y1="264.00" x2="319.93" y2="266.00" stroke="#111" stroke-width="1"/>
<line x1="345.90" y1="264.00" x2="345.90" y2="266.00" stroke="#111" stroke-width="1"/>
<line x1="371.88" y1="264.00" x2="371.88" y2="266.00" stroke="#111" stroke-width="1"/>
<line x1="397.85" y1="264.00" x2="397.85" y2="266.00" stroke="#111" stroke-width="1"/>
<line x1="423.83" y1="264.00" x2="423.83" y2="266.00" stroke="#111" stroke-width="1"/>
<line x1="449.80" y1="264.00" x2="449.80" y2="266.00" stroke="#111" stroke-width="1"/>
<line x1="254.99" y1="264.00" x2="254.99" y2="265.20" stroke="#111" stroke-width="0.8"/>
<line x1="280.96" y1="264.00" x2="280.96" y2="265.20" stroke="#111" stroke-width="0.8"/>
<line x1="306.94" y1="264.00" x2="306.94" y2="265.20" stroke="#111" stroke-width="0.8"/>
<line x1="332.91" y1="264.00" x2="332.91" y2="265.20" stroke="#111" stroke-width="0.8"/>
<line x1="358.89" y1="264.00" x2="358.89" y2="265.20" stroke="#111" stroke-width="0.8"/>
<line x1="384.86" y1="264.00" x2="384.86" y2="265.20" stroke="#111" stroke-width="0.8"/>
<line x1="410.84" y1="264.00" x2="410.84" y2="265.20" stroke="#111" stroke-width="0.8"/>
<line x1="436.81" y1="264.00" x2="436.81" y2="265.20" stroke="#111" stroke-width="0.8"/>
<text x="242.0" y="275.9" font-size="9.20" font-family="Liberation Serif" font-weight="bold" fill="#111" stroke="#111" stroke-width="0.25" text-anchor="middle" >540</text>
<text x="268.0" y="275.9" font-size="9.20" font-family="Liberation Serif" font-weight="bold" fill="#111" stroke="#111" stroke-width="0.25" text-anchor="middle" >538</text>
<text x="293.9" y="275.9" font-size="9.20" font-family="Liberation Serif" font-weight="bold" fill="#111" stroke="#111" stroke-width="0.25" text-anchor="middle" >536</text>
<text x="319.9" y="275.9" font-size="9.20" font-family="Liberation Serif" font-weight="bold" fill="#111" stroke="#111" stroke-width="0.25" text-anchor="middle" >534</text>
<text x="345.9" y="275.9" font-size="9.20" font-family="Liberation Serif" font-weight="bold" fill="#111" stroke="#111" stroke-width="0.25" text-anchor="middle" >532</text>
<text x="371.9" y="275.9" font-size="9.20" font-family="Liberation Serif" font-weight="bold" fill="#111" stroke="#111" stroke-width="0.25" text-anchor="middle" >530</text>
<text x="397.9" y="275.9" font-size="9.20" font-family="Liberation Serif" font-weight="bold" fill="#111" stroke="#111" stroke-width="0.25" text-anchor="middle" >528</text>
<text x="423.8" y="275.9" font-size="9.20" font-family="Liberation Serif" font-weight="bold" fill="#111" stroke="#111" stroke-width="0.25" text-anchor="middle" >526</text>
<text x="449.8" y="275.9" font-size="9.20" font-family="Liberation Serif" font-weight="bold" fill="#111" stroke="#111" stroke-width="0.25" text-anchor="middle" >524</text>
<text x="243.7" y="18.2" font-size="14.00" font-family="Liberation Serif" font-weight="bold" fill="#111" stroke="#111" stroke-width="0.25" text-anchor="start" >O 1s</text>
<text x="348.3" y="287.1" font-size="11.60" font-family="Liberation Serif" font-weight="bold" fill="#111" stroke="#111" stroke-width="0.25" text-anchor="middle" >Binding Energy / eV</text>
<path d="M549.3,41.7 L549.3,41.4 550.8,41.3 552.4,41.2 553.9,41.1 555.4,40.9 556.9,40.7 558.4,40.5 559.9,40.2 561.4,39.9 562.9,39.6 564.4,39.2 565.9,38.9 567.5,38.5 569.0,38.2 570.5,37.9 572.0,37.7 573.5,37.5 575.0,37.3 576.5,37.3 578.0,37.3 579.5,37.4 581.0,37.6 582.5,37.9 584.1,38.2 585.6,38.5 587.1,38.8 588.6,39.2 590.1,39.5 591.6,39.9 593.1,40.2 594.6,40.4 596.1,40.7 597.6,40.9 599.1,41.1 600.7,41.2 602.2,41.3 603.7,41.4 603.7,41.7 Z" fill="url(#g23)" stroke="none"/>
<path d="M578.0,41.7 L578.0,41.4 579.5,41.3 581.0,41.2 582.5,41.0 584.1,40.8 585.6,40.6 587.1,40.3 588.6,39.9 590.1,39.5 591.6,39.0 593.1,38.5 594.6,38.0 596.1,37.4 597.6,36.9 599.1,36.5 600.7,36.1 602.2,35.8 603.7,35.7 605.2,35.6 606.7,35.7 608.2,35.9 609.7,36.2 611.2,36.6 612.7,37.0 614.2,37.5 615.8,38.1 617.3,38.6 618.8,39.1 620.3,39.5 621.8,40.0 623.3,40.3 624.8,40.6 626.3,40.9 627.8,41.1 629.3,41.2 630.8,41.4 632.4,41.4 632.4,41.7 Z" fill="url(#g24)" stroke="none"/>
<path d="M585.6,41.7 L585.6,41.4 587.1,41.4 588.6,41.4 590.1,41.3 591.6,41.2 593.1,41.1 594.6,40.9 596.1,40.6 597.6,40.1 599.1,39.3 600.7,38.2 602.2,36.7 603.7,34.6 605.2,32.0 606.7,28.9 608.2,25.3 609.7,21.4 611.2,17.7 612.7,14.3 614.2,11.8 615.8,10.5 617.3,10.5 618.8,11.9 620.3,14.4 621.8,17.8 623.3,21.5 624.8,25.4 626.3,28.9 627.8,32.1 629.3,34.7 630.8,36.7 632.4,38.3 633.9,39.3 635.4,40.1 636.9,40.6 638.4,40.9 639.9,41.1 641.4,41.2 642.9,41.3 644.4,41.4 645.9,41.4 647.4,41.4 647.4,41.7 Z" fill="url(#g25)" stroke="none"/>
<line x1="478.40" y1="41.70" x2="688.20" y2="41.70" stroke="#9a30b0" stroke-width="1.80"/>
<line x1="671.00" y1="41.50" x2="688.00" y2="41.50" stroke="#3c963c" stroke-width="1.60"/>
<polyline points="478.4,41.7 480.4,41.6 482.4,41.7 484.5,41.7 486.5,41.9 488.5,41.7 490.5,41.4 492.5,41.6 494.5,41.5 496.6,41.6 498.6,41.6 500.6,41.6 502.6,42.0 504.6,41.5 506.6,41.6 508.7,41.6 510.7,42.0 512.7,42.0 514.7,41.8 516.7,41.7 518.7,41.6 520.8,41.7 522.8,41.5 524.8,41.8 526.8,41.6 528.8,41.5 530.9,41.8 532.9,41.3 534.9,41.5 536.9,41.4 538.9,41.7 540.9,41.7 543.0,41.6 545.0,41.5 547.0,41.3 549.0,41.3 551.0,41.3 553.0,41.2 555.1,40.9 557.1,40.3 559.1,40.4 561.1,39.8 563.1,39.3 565.1,39.2 567.2,38.4 569.2,37.7 571.2,37.9 573.2,37.2 575.2,37.0 577.2,37.0 579.3,36.6 581.3,36.8 583.3,37.0 585.3,36.5 587.3,36.4 589.4,36.0 591.4,35.4 593.4,34.9 595.4,33.9 597.4,32.9 599.4,30.8 601.5,28.9 603.5,26.2 605.5,23.1 607.5,19.1 609.5,14.7 611.5,10.3 613.6,7.8 615.6,6.4 617.6,7.1 619.6,10.1 621.6,15.2 623.6,21.3 625.7,26.9 627.7,31.0 629.7,34.8 631.7,37.5 633.7,38.8 635.8,39.8 637.8,40.6 639.8,40.9 641.8,41.1 643.8,40.9 645.8,41.2 647.9,41.3 649.9,41.3 651.9,41.8 653.9,41.2 655.9,41.3 657.9,41.4 660.0,41.9 662.0,41.7 664.0,41.4 666.0,41.9 668.0,41.6 670.0,41.4 672.1,41.8 674.1,41.3 676.1,41.5 678.1,41.6 680.1,41.5 682.1,41.5 684.2,41.6 686.2,41.4 688.2,41.8" fill="none" stroke="#555555" stroke-width="0.80"/>
<polyline points="550.8,41.3 552.4,41.2 553.9,41.1 555.4,40.9 556.9,40.7 558.4,40.5 559.9,40.2 561.4,39.9 562.9,39.6 564.4,39.2 565.9,38.9 567.5,38.5 569.0,38.2 570.5,37.9 572.0,37.7 573.5,37.5 575.0,37.3 576.5,37.3 578.0,37.3 579.5,37.4 581.0,37.6 582.5,37.9 584.1,38.2 585.6,38.5 587.1,38.8 588.6,39.2 590.1,39.5 591.6,39.9 593.1,40.2 594.6,40.4 596.1,40.7 597.6,40.9 599.1,41.1 600.7,41.2 602.2,41.3" fill="none" stroke="#c020c0" stroke-width="1.70" stroke-linejoin="round"/>
<polyline points="579.5,41.3 581.0,41.2 582.5,41.0 584.1,40.8 585.6,40.6 587.1,40.3 588.6,39.9 590.1,39.5 591.6,39.0 593.1,38.5 594.6,38.0 596.1,37.4 597.6,36.9 599.1,36.5 600.7,36.1 602.2,35.8 603.7,35.7 605.2,35.6 606.7,35.7 608.2,35.9 609.7,36.2 611.2,36.6 612.7,37.0 614.2,37.5 615.8,38.1 617.3,38.6 618.8,39.1 620.3,39.5 621.8,40.0 623.3,40.3 624.8,40.6 626.3,40.9 627.8,41.1 629.3,41.2" fill="none" stroke="#1e1ec0" stroke-width="1.70" stroke-linejoin="round"/>
<polyline points="593.1,41.1 594.6,40.9 596.1,40.6 597.6,40.1 599.1,39.3 600.7,38.2 602.2,36.7 603.7,34.6 605.2,32.0 606.7,28.9 608.2,25.3 609.7,21.4 611.2,17.7 612.7,14.3 614.2,11.8 615.8,10.5 617.3,10.5 618.8,11.9 620.3,14.4 621.8,17.8 623.3,21.5 624.8,25.4 626.3,28.9 627.8,32.1 629.3,34.7 630.8,36.7 632.4,38.3 633.9,39.3 635.4,40.1 636.9,40.6 638.4,40.9 639.9,41.1" fill="none" stroke="#cc2628" stroke-width="1.70" stroke-linejoin="round"/>
<text x="486.5" y="30.1" font-size="9.50" font-family="Liberation Serif" font-weight="bold" fill="#111" stroke="#111" stroke-width="0.25" text-anchor="start" >Pristine</text>
<path d="M582.5,86.5 L582.5,86.2 584.1,86.1 585.6,86.0 587.1,85.9 588.6,85.8 590.1,85.6 591.6,85.4 593.1,85.2 594.6,85.1 596.1,84.9 597.6,84.7 599.1,84.6 600.7,84.5 602.2,84.5 603.7,84.5 605.2,84.6 606.7,84.7 608.2,84.8 609.7,85.0 611.2,85.2 612.7,85.4 614.2,85.5 615.8,85.7 617.3,85.9 618.8,86.0 620.3,86.1 621.8,86.2 621.8,86.5 Z" fill="url(#g26)" stroke="none"/>
<path d="M576.5,86.5 L576.5,86.2 578.0,86.2 579.5,86.1 581.0,86.0 582.5,85.8 584.1,85.6 585.6,85.4 587.1,85.1 588.6,84.7 590.1,84.2 591.6,83.6 593.1,82.9 594.6,82.0 596.1,81.0 597.6,79.8 599.1,78.5 600.7,77.1 602.2,75.6 603.7,74.0 605.2,72.4 606.7,70.8 608.2,69.3 609.7,67.9 611.2,66.7 612.7,65.7 614.2,65.1 615.8,64.7 617.3,64.7 618.8,65.1 620.3,65.8 621.8,66.7 623.3,67.9 624.8,69.3 626.3,70.9 627.8,72.5 629.3,74.1 630.8,75.7 632.4,77.2 633.9,78.6 635.4,79.9 636.9,81.0 638.4,82.0 639.9,82.9 641.4,83.6 642.9,84.2 644.4,84.7 645.9,85.1 647.4,85.4 649.0,85.7 650.5,85.8 652.0,86.0 653.5,86.1 655.0,86.2 656.5,86.2 656.5,86.5 Z" fill="url(#g27)" stroke="none"/>
<line x1="478.40" y1="86.50" x2="688.20" y2="86.50" stroke="#142f7c" stroke-width="1.80"/>
<polyline points="478.4,86.6 480.4,86.3 482.4,86.5 484.5,86.7 486.5,86.3 488.5,86.2 490.5,86.6 492.5,86.7 494.5,86.5 496.6,86.5 498.6,86.5 500.6,86.2 502.6,86.7 504.6,86.2 506.6,86.7 508.7,86.6 510.7,86.3 512.7,86.2 514.7,86.3 516.7,86.4 518.7,86.4 520.8,86.4 522.8,86.3 524.8,86.5 526.8,86.4 528.8,86.3 530.9,86.4 532.9,86.3 534.9,86.3 536.9,86.0 538.9,86.4 540.9,86.5 543.0,86.5 545.0,86.4 547.0,86.2 549.0,86.5 551.0,86.3 553.0,86.0 555.1,86.9 557.1,86.6 559.1,86.3 561.1,86.3 563.1,86.3 565.1,86.4 567.2,86.2 569.2,86.2 571.2,86.3 573.2,85.7 575.2,86.0 577.2,86.1 579.3,85.8 581.3,85.5 583.3,85.1 585.3,85.1 587.3,83.9 589.4,82.7 591.4,81.9 593.4,80.3 595.4,78.5 597.4,76.7 599.4,74.6 601.5,73.2 603.5,70.9 605.5,69.0 607.5,67.0 609.5,65.4 611.5,65.0 613.6,63.5 615.6,63.8 617.6,63.7 619.6,65.0 621.6,66.1 623.6,67.7 625.7,70.0 627.7,72.1 629.7,74.2 631.7,76.4 633.7,78.4 635.8,79.8 637.8,81.4 639.8,82.8 641.8,83.2 643.8,84.7 645.8,84.9 647.9,85.5 649.9,85.7 651.9,85.8 653.9,86.0 655.9,86.0 657.9,86.5 660.0,86.6 662.0,86.2 664.0,86.5 666.0,86.5 668.0,86.6 670.0,86.1 672.1,86.2 674.1,86.1 676.1,86.6 678.1,86.4 680.1,86.6 682.1,86.3 684.2,86.1 686.2,86.6 688.2,86.1" fill="none" stroke="#555555" stroke-width="0.80"/>
<polyline points="584.1,86.1 585.6,86.0 587.1,85.9 588.6,85.8 590.1,85.6 591.6,85.4 593.1,85.2 594.6,85.1 596.1,84.9 597.6,84.7 599.1,84.6 600.7,84.5 602.2,84.5 603.7,84.5 605.2,84.6 606.7,84.7 608.2,84.8 609.7,85.0 611.2,85.2 612.7,85.4 614.2,85.5 615.8,85.7 617.3,85.9 618.8,86.0 620.3,86.1" fill="none" stroke="#1e1ec0" stroke-width="1.70" stroke-linejoin="round"/>
<polyline points="579.5,86.1 581.0,86.0 582.5,85.8 584.1,85.6 585.6,85.4 587.1,85.1 588.6,84.7 590.1,84.2 591.6,83.6 593.1,82.9 594.6,82.0 596.1,81.0 597.6,79.8 599.1,78.5 600.7,77.1 602.2,75.6 603.7,74.0 605.2,72.4 606.7,70.8 608.2,69.3 609.7,67.9 611.2,66.7 612.7,65.7 614.2,65.1 615.8,64.7 617.3,64.7 618.8,65.1 620.3,65.8 621.8,66.7 623.3,67.9 624.8,69.3 626.3,70.9 627.8,72.5 629.3,74.1 630.8,75.7 632.4,77.2 633.9,78.6 635.4,79.9 636.9,81.0 638.4,82.0 639.9,82.9 641.4,83.6 642.9,84.2 644.4,84.7 645.9,85.1 647.4,85.4 649.0,85.7 650.5,85.8 652.0,86.0 653.5,86.1" fill="none" stroke="#cc2628" stroke-width="1.70" stroke-linejoin="round"/>
<text x="484.2" y="60.9" font-size="9.50" font-family="Liberation Serif" font-weight="bold" fill="#111" stroke="#111" stroke-width="0.25" text-anchor="start" >BL+1.5%DTD</text>
<path d="M590.1,129.3 L590.1,129.0 591.6,128.9 593.1,128.7 594.6,128.6 596.1,128.4 597.6,128.2 599.1,128.1 600.7,127.9 602.2,127.9 603.7,127.8 605.2,127.8 606.7,127.9 608.2,128.0 609.7,128.1 611.2,128.3 612.7,128.4 614.2,128.6 615.8,128.7 617.3,128.9 618.8,129.0 618.8,129.3 Z" fill="url(#g28)" stroke="none"/>
<path d="M567.5,129.3 L567.5,129.0 569.0,129.0 570.5,128.9 572.0,128.8 573.5,128.8 575.0,128.6 576.5,128.5 578.0,128.3 579.5,128.1 581.0,127.8 582.5,127.4 584.1,127.0 585.6,126.5 587.1,125.9 588.6,125.3 590.1,124.5 591.6,123.7 593.1,122.7 594.6,121.7 596.1,120.6 597.6,119.4 599.1,118.1 600.7,116.9 602.2,115.6 603.7,114.3 605.2,113.1 606.7,112.0 608.2,111.0 609.7,110.1 611.2,109.4 612.7,108.9 614.2,108.7 615.8,108.6 617.3,108.8 618.8,109.2 620.3,109.8 621.8,110.6 623.3,111.5 624.8,112.6 626.3,113.8 627.8,115.0 629.3,116.3 630.8,117.6 632.4,118.8 633.9,120.0 635.4,121.2 636.9,122.3 638.4,123.3 639.9,124.1 641.4,124.9 642.9,125.7 644.4,126.3 645.9,126.8 647.4,127.2 649.0,127.6 650.5,127.9 652.0,128.2 653.5,128.4 655.0,128.6 656.5,128.7 658.0,128.8 659.5,128.9 661.0,129.0 662.5,129.0 664.1,129.0 664.1,129.3 Z" fill="url(#g29)" stroke="none"/>
<line x1="478.40" y1="129.30" x2="688.20" y2="129.30" stroke="#142f7c" stroke-width="1.80"/>
<polyline points="478.4,129.1 480.4,129.3 482.4,129.7 484.5,129.0 486.5,129.3 488.5,129.4 490.5,129.2 492.5,129.2 494.5,129.0 496.6,129.5 498.6,129.0 500.6,129.0 502.6,129.0 504.6,129.3 506.6,129.4 508.7,129.0 510.7,129.2 512.7,129.2 514.7,129.0 516.7,129.3 518.7,129.7 520.8,129.3 522.8,129.6 524.8,129.1 526.8,129.2 528.8,129.4 530.9,129.2 532.9,129.1 534.9,129.2 536.9,128.9 538.9,129.2 540.9,129.0 543.0,128.9 545.0,128.9 547.0,129.3 549.0,129.0 551.0,129.5 553.0,129.4 555.1,129.5 557.1,128.9 559.1,129.4 561.1,129.1 563.1,129.1 565.1,129.0 567.2,129.1 569.2,128.9 571.2,128.5 573.2,128.7 575.2,128.4 577.2,128.1 579.3,128.0 581.3,127.8 583.3,127.0 585.3,126.0 587.3,125.6 589.4,124.2 591.4,122.5 593.4,121.0 595.4,119.4 597.4,117.4 599.4,115.6 601.5,114.0 603.5,112.4 605.5,110.7 607.5,109.1 609.5,108.5 611.5,108.0 613.6,107.7 615.6,108.0 617.6,108.2 619.6,109.3 621.6,110.1 623.6,112.0 625.7,113.1 627.7,114.9 629.7,116.9 631.7,118.1 633.7,119.9 635.8,121.9 637.8,123.0 639.8,124.0 641.8,125.2 643.8,125.8 645.8,126.6 647.9,127.2 649.9,127.7 651.9,127.9 653.9,128.3 655.9,128.5 657.9,129.2 660.0,128.7 662.0,128.7 664.0,129.1 666.0,129.2 668.0,128.7 670.0,129.5 672.1,129.0 674.1,128.7 676.1,129.4 678.1,129.0 680.1,128.8 682.1,129.2 684.2,129.1 686.2,129.0 688.2,129.4" fill="none" stroke="#555555" stroke-width="0.80"/>
<polyline points="591.6,128.9 593.1,128.7 594.6,128.6 596.1,128.4 597.6,128.2 599.1,128.1 600.7,127.9 602.2,127.9 603.7,127.8 605.2,127.8 606.7,127.9 608.2,128.0 609.7,128.1 611.2,128.3 612.7,128.4 614.2,128.6 615.8,128.7 617.3,128.9" fill="none" stroke="#1e1ec0" stroke-width="1.70" stroke-linejoin="round"/>
<polyline points="570.5,128.9 572.0,128.8 573.5,128.8 575.0,128.6 576.5,128.5 578.0,128.3 579.5,128.1 581.0,127.8 582.5,127.4 584.1,127.0 585.6,126.5 587.1,125.9 588.6,125.3 590.1,124.5 591.6,123.7 593.1,122.7 594.6,121.7 596.1,120.6 597.6,119.4 599.1,118.1 600.7,116.9 602.2,115.6 603.7,114.3 605.2,113.1 606.7,112.0 608.2,111.0 609.7,110.1 611.2,109.4 612.7,108.9 614.2,108.7 615.8,108.6 617.3,108.8 618.8,109.2 620.3,109.8 621.8,110.6 623.3,111.5 624.8,112.6 626.3,113.8 627.8,115.0 629.3,116.3 630.8,117.6 632.4,118.8 633.9,120.0 635.4,121.2 636.9,122.3 638.4,123.3 639.9,124.1 641.4,124.9 642.9,125.7 644.4,126.3 645.9,126.8 647.4,127.2 649.0,127.6 650.5,127.9 652.0,128.2 653.5,128.4 655.0,128.6 656.5,128.7 658.0,128.8 659.5,128.9" fill="none" stroke="#cc2628" stroke-width="1.70" stroke-linejoin="round"/>
<text x="484.7" y="103.5" font-size="9.50" font-family="Liberation Serif" font-weight="bold" fill="#111" stroke="#111" stroke-width="0.25" text-anchor="start" >BL+1%DTD+0.5%PES</text>
<path d="M578.0,171.7 L578.0,171.4 579.5,171.4 581.0,171.3 582.5,171.2 584.1,171.1 585.6,170.9 587.1,170.7 588.6,170.4 590.1,170.1 591.6,169.7 593.1,169.1 594.6,168.5 596.1,167.7 597.6,166.8 599.1,165.8 600.7,164.7 602.2,163.5 603.7,162.2 605.2,160.8 606.7,159.5 608.2,158.1 609.7,156.9 611.2,155.7 612.7,154.8 614.2,154.0 615.8,153.5 617.3,153.3 618.8,153.4 620.3,153.7 621.8,154.4 623.3,155.2 624.8,156.3 626.3,157.5 627.8,158.8 629.3,160.2 630.8,161.5 632.4,162.9 633.9,164.1 635.4,165.3 636.9,166.4 638.4,167.3 639.9,168.1 641.4,168.8 642.9,169.4 644.4,169.9 645.9,170.3 647.4,170.6 649.0,170.8 650.5,171.0 652.0,171.2 653.5,171.3 655.0,171.4 656.5,171.4 656.5,171.7 Z" fill="url(#g30)" stroke="none"/>
<line x1="478.40" y1="171.70" x2="688.20" y2="171.70" stroke="#142f7c" stroke-width="1.80"/>
<polyline points="478.4,171.7 480.4,171.6 482.4,171.5 484.5,171.7 486.5,171.7 488.5,171.9 490.5,171.7 492.5,171.5 494.5,171.6 496.6,171.8 498.6,171.8 500.6,171.1 502.6,171.4 504.6,171.5 506.6,172.2 508.7,171.5 510.7,171.6 512.7,171.3 514.7,171.6 516.7,171.7 518.7,171.5 520.8,172.0 522.8,171.4 524.8,171.6 526.8,171.8 528.8,171.4 530.9,171.3 532.9,171.9 534.9,171.8 536.9,171.6 538.9,171.6 540.9,171.7 543.0,171.8 545.0,171.2 547.0,171.4 549.0,171.8 551.0,171.9 553.0,171.2 555.1,171.4 557.1,171.2 559.1,171.4 561.1,171.7 563.1,171.5 565.1,172.0 567.2,171.7 569.2,171.5 571.2,171.4 573.2,171.6 575.2,171.4 577.2,171.2 579.3,171.1 581.3,170.9 583.3,170.8 585.3,170.5 587.3,169.9 589.4,169.4 591.4,168.7 593.4,167.6 595.4,166.2 597.4,164.7 599.4,162.9 601.5,161.0 603.5,159.0 605.5,157.1 607.5,155.5 609.5,153.7 611.5,152.3 613.6,151.7 615.6,151.4 617.6,151.5 619.6,152.4 621.6,153.6 623.6,154.7 625.7,156.6 627.7,158.1 629.7,160.4 631.7,162.6 633.7,164.0 635.8,165.1 637.8,166.9 639.8,168.2 641.8,169.0 643.8,169.5 645.8,170.1 647.9,170.6 649.9,170.6 651.9,171.0 653.9,171.3 655.9,171.2 657.9,171.1 660.0,171.3 662.0,171.3 664.0,171.7 666.0,171.6 668.0,171.4 670.0,171.6 672.1,171.4 674.1,171.5 676.1,171.4 678.1,171.6 680.1,171.1 682.1,171.4 684.2,171.7 686.2,171.6 688.2,171.1" fill="none" stroke="#555555" stroke-width="0.80"/>
<polyline points="581.0,171.3 582.5,171.2 584.1,171.1 585.6,170.9 587.1,170.7 588.6,170.4 590.1,170.1 591.6,169.7 593.1,169.1 594.6,168.5 596.1,167.7 597.6,166.8 599.1,165.8 600.7,164.7 602.2,163.5 603.7,162.2 605.2,160.8 606.7,159.5 608.2,158.1 609.7,156.9 611.2,155.7 612.7,154.8 614.2,154.0 615.8,153.5 617.3,153.3 618.8,153.4 620.3,153.7 621.8,154.4 623.3,155.2 624.8,156.3 626.3,157.5 627.8,158.8 629.3,160.2 630.8,161.5 632.4,162.9 633.9,164.1 635.4,165.3 636.9,166.4 638.4,167.3 639.9,168.1 641.4,168.8 642.9,169.4 644.4,169.9 645.9,170.3 647.4,170.6 649.0,170.8 650.5,171.0 652.0,171.2 653.5,171.3" fill="none" stroke="#cc2628" stroke-width="1.70" stroke-linejoin="round"/>
<text x="485.8" y="148.2" font-size="9.50" font-family="Liberation Serif" font-weight="bold" fill="#111" stroke="#111" stroke-width="0.25" text-anchor="start" >BL+0.5%TMSB</text>
<path d="M573.5,216.2 L573.5,215.9 575.0,215.9 576.5,215.8 578.0,215.6 579.5,215.4 581.0,215.2 582.5,214.9 584.1,214.6 585.6,214.1 587.1,213.6 588.6,213.1 590.1,212.4 591.6,211.7 593.1,210.9 594.6,210.1 596.1,209.3 597.6,208.5 599.1,207.7 600.7,207.1 602.2,206.5 603.7,206.2 605.2,205.9 606.7,205.9 608.2,206.1 609.7,206.4 611.2,206.9 612.7,207.5 614.2,208.2 615.8,209.0 617.3,209.8 618.8,210.6 620.3,211.4 621.8,212.2 623.3,212.9 624.8,213.5 626.3,214.0 627.8,214.4 629.3,214.8 630.8,215.1 632.4,215.4 633.9,215.6 635.4,215.7 636.9,215.8 638.4,215.9 638.4,216.2 Z" fill="url(#g31)" stroke="none"/>
<path d="M590.1,216.2 L590.1,215.9 591.6,215.8 593.1,215.7 594.6,215.5 596.1,215.3 597.6,215.0 599.1,214.6 600.7,214.1 602.2,213.5 603.7,212.8 605.2,212.0 606.7,211.1 608.2,210.1 609.7,209.0 611.2,207.9 612.7,206.8 614.2,205.8 615.8,204.9 617.3,204.1 618.8,203.6 620.3,203.3 621.8,203.3 623.3,203.6 624.8,204.1 626.3,204.8 627.8,205.7 629.3,206.8 630.8,207.9 632.4,209.0 633.9,210.0 635.4,211.0 636.9,212.0 638.4,212.8 639.9,213.5 641.4,214.1 642.9,214.6 644.4,215.0 645.9,215.3 647.4,215.5 649.0,215.7 650.5,215.8 652.0,215.9 652.0,216.2 Z" fill="url(#g32)" stroke="none"/>
<line x1="478.40" y1="216.20" x2="688.20" y2="216.20" stroke="#142f7c" stroke-width="1.80"/>
<polyline points="478.4,216.2 480.4,216.0 482.4,216.0 484.5,216.2 486.5,216.4 488.5,216.1 490.5,216.1 492.5,215.9 494.5,216.0 496.6,216.2 498.6,216.0 500.6,216.1 502.6,216.1 504.6,216.2 506.6,216.2 508.7,216.0 510.7,216.4 512.7,216.3 514.7,216.2 516.7,216.5 518.7,216.2 520.8,216.6 522.8,216.3 524.8,216.0 526.8,216.0 528.8,216.2 530.9,216.2 532.9,216.4 534.9,215.8 536.9,216.0 538.9,215.9 540.9,216.3 543.0,216.2 545.0,216.5 547.0,216.0 549.0,215.9 551.0,216.5 553.0,216.1 555.1,216.0 557.1,216.4 559.1,216.4 561.1,216.3 563.1,216.2 565.1,216.3 567.2,216.0 569.2,215.9 571.2,215.8 573.2,215.7 575.2,215.4 577.2,215.3 579.3,215.6 581.3,215.1 583.3,214.8 585.3,214.2 587.3,213.2 589.4,212.3 591.4,211.1 593.4,210.2 595.4,208.7 597.4,206.9 599.4,205.2 601.5,203.6 603.5,201.8 605.5,200.3 607.5,198.6 609.5,197.4 611.5,196.6 613.6,196.1 615.6,195.8 617.6,196.5 619.6,196.9 621.6,197.8 623.6,199.6 625.7,201.1 627.7,203.1 629.7,205.4 631.7,207.2 633.7,209.0 635.8,210.5 637.8,211.8 639.8,213.1 641.8,214.1 643.8,214.6 645.8,215.1 647.9,215.3 649.9,215.6 651.9,215.9 653.9,216.1 655.9,216.0 657.9,216.1 660.0,216.2 662.0,216.1 664.0,216.1 666.0,216.0 668.0,216.0 670.0,216.2 672.1,215.6 674.1,216.2 676.1,215.9 678.1,216.1 680.1,215.9 682.1,216.6 684.2,216.3 686.2,216.1 688.2,216.0" fill="none" stroke="#555555" stroke-width="0.80"/>
<polyline points="576.5,215.8 578.0,215.6 579.5,215.4 581.0,215.2 582.5,214.9 584.1,214.6 585.6,214.1 587.1,213.6 588.6,213.1 590.1,212.4 591.6,211.7 593.1,210.9 594.6,210.1 596.1,209.3 597.6,208.5 599.1,207.7 600.7,207.1 602.2,206.5 603.7,206.2 605.2,205.9 606.7,205.9 608.2,206.1 609.7,206.4 611.2,206.9 612.7,207.5 614.2,208.2 615.8,209.0 617.3,209.8 618.8,210.6 620.3,211.4 621.8,212.2 623.3,212.9 624.8,213.5 626.3,214.0 627.8,214.4 629.3,214.8 630.8,215.1 632.4,215.4 633.9,215.6 635.4,215.7 636.9,215.8" fill="none" stroke="#1e1ec0" stroke-width="1.70" stroke-linejoin="round"/>
<polyline points="591.6,215.8 593.1,215.7 594.6,215.5 596.1,215.3 597.6,215.0 599.1,214.6 600.7,214.1 602.2,213.5 603.7,212.8 605.2,212.0 606.7,211.1 608.2,210.1 609.7,209.0 611.2,207.9 612.7,206.8 614.2,205.8 615.8,204.9 617.3,204.1 618.8,203.6 620.3,203.3 621.8,203.3 623.3,203.6 624.8,204.1 626.3,204.8 627.8,205.7 629.3,206.8 630.8,207.9 632.4,209.0 633.9,210.0 635.4,211.0 636.9,212.0 638.4,212.8 639.9,213.5 641.4,214.1 642.9,214.6 644.4,215.0 645.9,215.3 647.4,215.5 649.0,215.7 650.5,215.8" fill="none" stroke="#cc2628" stroke-width="1.70" stroke-linejoin="round"/>
<text x="485.2" y="186.9" font-size="9.50" font-family="Liberation Serif" font-weight="bold" fill="#111" stroke="#111" stroke-width="0.25" text-anchor="start" >BL+0.5%TTSP</text>
<path d="M579.5,260.0 L579.5,259.7 581.0,259.6 582.5,259.6 584.1,259.5 585.6,259.4 587.1,259.3 588.6,259.1 590.1,259.0 591.6,258.9 593.1,258.8 594.6,258.7 596.1,258.6 597.6,258.5 599.1,258.5 600.7,258.5 602.2,258.5 603.7,258.6 605.2,258.6 606.7,258.7 608.2,258.8 609.7,258.9 611.2,259.0 612.7,259.2 614.2,259.3 615.8,259.4 617.3,259.5 618.8,259.6 620.3,259.7 621.8,259.7 621.8,260.0 Z" fill="url(#g33)" stroke="none"/>
<path d="M582.5,260.0 L582.5,259.7 584.1,259.6 585.6,259.5 587.1,259.4 588.6,259.2 590.1,258.9 591.6,258.5 593.1,258.0 594.6,257.4 596.1,256.6 597.6,255.7 599.1,254.5 600.7,253.2 602.2,251.7 603.7,250.1 605.2,248.4 606.7,246.6 608.2,244.9 609.7,243.2 611.2,241.8 612.7,240.6 614.2,239.8 615.8,239.4 617.3,239.4 618.8,239.8 620.3,240.6 621.8,241.8 623.3,243.3 624.8,244.9 626.3,246.7 627.8,248.4 629.3,250.2 630.8,251.8 632.4,253.3 633.9,254.6 635.4,255.7 636.9,256.6 638.4,257.4 639.9,258.0 641.4,258.5 642.9,258.9 644.4,259.2 645.9,259.4 647.4,259.5 649.0,259.6 650.5,259.7 650.5,260.0 Z" fill="url(#g34)" stroke="none"/>
<line x1="478.40" y1="260.00" x2="688.20" y2="260.00" stroke="#142f7c" stroke-width="1.80"/>
<polyline points="478.4,259.5 480.4,259.9 482.4,259.7 484.5,259.8 486.5,259.8 488.5,259.9 490.5,260.0 492.5,259.9 494.5,260.2 496.6,259.7 498.6,260.2 500.6,259.9 502.6,259.6 504.6,260.0 506.6,260.0 508.7,259.7 510.7,260.0 512.7,260.1 514.7,259.9 516.7,259.9 518.7,259.8 520.8,260.1 522.8,259.6 524.8,259.6 526.8,260.0 528.8,259.9 530.9,260.0 532.9,259.7 534.9,260.1 536.9,259.8 538.9,260.0 540.9,260.1 543.0,259.8 545.0,259.7 547.0,259.9 549.0,260.1 551.0,259.8 553.0,259.9 555.1,259.9 557.1,259.6 559.1,259.7 561.1,260.0 563.1,259.4 565.1,259.9 567.2,259.7 569.2,260.0 571.2,259.8 573.2,260.1 575.2,259.4 577.2,259.4 579.3,259.8 581.3,259.7 583.3,259.5 585.3,258.7 587.3,258.7 589.4,258.1 591.4,257.5 593.4,256.7 595.4,255.9 597.4,254.4 599.4,253.1 601.5,251.0 603.5,248.8 605.5,246.6 607.5,244.5 609.5,242.5 611.5,240.6 613.6,239.4 615.6,238.4 617.6,238.8 619.6,239.9 621.6,241.5 623.6,243.6 625.7,245.9 627.7,248.2 629.7,250.4 631.7,252.5 633.7,254.3 635.8,255.5 637.8,257.2 639.8,258.0 641.8,258.0 643.8,259.4 645.8,259.5 647.9,259.5 649.9,259.6 651.9,259.7 653.9,259.8 655.9,259.8 657.9,259.8 660.0,259.7 662.0,260.3 664.0,260.1 666.0,259.9 668.0,260.1 670.0,260.1 672.1,259.8 674.1,260.1 676.1,259.8 678.1,259.8 680.1,259.9 682.1,259.8 684.2,260.0 686.2,260.2 688.2,260.0" fill="none" stroke="#555555" stroke-width="0.80"/>
<polyline points="581.0,259.6 582.5,259.6 584.1,259.5 585.6,259.4 587.1,259.3 588.6,259.1 590.1,259.0 591.6,258.9 593.1,258.8 594.6,258.7 596.1,258.6 597.6,258.5 599.1,258.5 600.7,258.5 602.2,258.5 603.7,258.6 605.2,258.6 606.7,258.7 608.2,258.8 609.7,258.9 611.2,259.0 612.7,259.2 614.2,259.3 615.8,259.4 617.3,259.5 618.8,259.6" fill="none" stroke="#1e1ec0" stroke-width="1.70" stroke-linejoin="round"/>
<polyline points="584.1,259.6 585.6,259.5 587.1,259.4 588.6,259.2 590.1,258.9 591.6,258.5 593.1,258.0 594.6,257.4 596.1,256.6 597.6,255.7 599.1,254.5 600.7,253.2 602.2,251.7 603.7,250.1 605.2,248.4 606.7,246.6 608.2,244.9 609.7,243.2 611.2,241.8 612.7,240.6 614.2,239.8 615.8,239.4 617.3,239.4 618.8,239.8 620.3,240.6 621.8,241.8 623.3,243.3 624.8,244.9 626.3,246.7 627.8,248.4 629.3,250.2 630.8,251.8 632.4,253.3 633.9,254.6 635.4,255.7 636.9,256.6 638.4,257.4 639.9,258.0 641.4,258.5 642.9,258.9 644.4,259.2 645.9,259.4 647.4,259.5 649.0,259.6" fill="none" stroke="#cc2628" stroke-width="1.70" stroke-linejoin="round"/>
<text x="484.2" y="231.1" font-size="9.50" font-family="Liberation Serif" font-weight="bold" fill="#111" stroke="#111" stroke-width="0.25" text-anchor="start" >BL+0.5%MMDS</text>
<line x1="578.34" y1="29.00" x2="578.34" y2="73.20" stroke="#777" stroke-width="0.80" stroke-dasharray="1.2,1.5"/>
<line x1="605.42" y1="15.00" x2="605.42" y2="234.00" stroke="#777" stroke-width="0.80" stroke-dasharray="1.2,1.5"/>
<line x1="616.49" y1="8.00" x2="616.49" y2="258.00" stroke="#777" stroke-width="0.80" stroke-dasharray="1.2,1.5"/>
<text x="559.5" y="26.1" font-size="6.80" font-family="Liberation Serif" font-weight="bold" fill="#111" stroke="#111" stroke-width="0.25" text-anchor="start" >CMC-COC</text>
<text x="581.7" y="14.0" font-size="6.60" font-family="Liberation Serif" font-weight="bold" fill="#111" stroke="#111" stroke-width="0.25" text-anchor="start" >Am. crabon</text>
<text x="616.4" y="7.3" font-size="6.60" font-family="Liberation Serif" font-weight="bold" fill="#111" stroke="#111" stroke-width="0.25" text-anchor="start" >Graphite</text>
<rect x="478.40" y="0.70" width="209.80" height="264.20" fill="none" stroke="#111" stroke-width="1.40"/>
<line x1="478.40" y1="264.90" x2="478.40" y2="266.90" stroke="#111" stroke-width="1"/>
<line x1="516.55" y1="264.90" x2="516.55" y2="266.90" stroke="#111" stroke-width="1"/>
<line x1="554.69" y1="264.90" x2="554.69" y2="266.90" stroke="#111" stroke-width="1"/>
<line x1="592.84" y1="264.90" x2="592.84" y2="266.90" stroke="#111" stroke-width="1"/>
<line x1="630.98" y1="264.90" x2="630.98" y2="266.90" stroke="#111" stroke-width="1"/>
<line x1="669.13" y1="264.90" x2="669.13" y2="266.90" stroke="#111" stroke-width="1"/>
<line x1="497.47" y1="264.90" x2="497.47" y2="266.10" stroke="#111" stroke-width="0.8"/>
<line x1="535.62" y1="264.90" x2="535.62" y2="266.10" stroke="#111" stroke-width="0.8"/>
<line x1="573.76" y1="264.90" x2="573.76" y2="266.10" stroke="#111" stroke-width="0.8"/>
<line x1="611.91" y1="264.90" x2="611.91" y2="266.10" stroke="#111" stroke-width="0.8"/>
<line x1="650.05" y1="264.90" x2="650.05" y2="266.10" stroke="#111" stroke-width="0.8"/>
<text x="478.4" y="275.7" font-size="8.80" font-family="Liberation Serif" font-weight="bold" fill="#111" stroke="#111" stroke-width="0.25" text-anchor="middle" >292</text>
<text x="516.5" y="275.7" font-size="8.80" font-family="Liberation Serif" font-weight="bold" fill="#111" stroke="#111" stroke-width="0.25" text-anchor="middle" >290</text>
<text x="554.7" y="275.7" font-size="8.80" font-family="Liberation Serif" font-weight="bold" fill="#111" stroke="#111" stroke-width="0.25" text-anchor="middle" >288</text>
<text x="592.8" y="275.7" font-size="8.80" font-family="Liberation Serif" font-weight="bold" fill="#111" stroke="#111" stroke-width="0.25" text-anchor="middle" >286</text>
<text x="631.0" y="275.7" font-size="8.80" font-family="Liberation Serif" font-weight="bold" fill="#111" stroke="#111" stroke-width="0.25" text-anchor="middle" >284</text>
<text x="669.1" y="275.7" font-size="8.80" font-family="Liberation Serif" font-weight="bold" fill="#111" stroke="#111" stroke-width="0.25" text-anchor="middle" >282</text>
<text x="480.5" y="14.7" font-size="13.60" font-family="Liberation Serif" font-weight="bold" fill="#111" stroke="#111" stroke-width="0.25" text-anchor="start" >C 1s</text>
<text x="590.2" y="287.7" font-size="11.15" font-family="Liberation Serif" font-weight="bold" fill="#111" stroke="#111" stroke-width="0.25" text-anchor="middle" >Binding Energy / eV</text>
<path d="M42.4,360.1 L42.4,359.8 43.9,359.8 45.4,359.8 46.9,359.8 48.4,359.7 49.9,359.7 51.5,359.7 53.0,359.6 54.5,359.6 56.0,359.5 57.5,359.5 59.0,359.4 60.5,359.3 62.0,359.3 63.5,359.2 65.0,359.1 66.5,359.0 68.0,358.9 69.6,358.7 71.1,358.6 72.6,358.5 74.1,358.3 75.6,358.2 77.1,358.0 78.6,357.8 80.1,357.7 81.6,357.5 83.1,357.3 84.6,357.1 86.1,356.9 87.6,356.7 89.2,356.4 90.7,356.2 92.2,356.0 93.7,355.8 95.2,355.6 96.7,355.4 98.2,355.2 99.7,355.0 101.2,354.9 102.7,354.7 104.2,354.5 105.7,354.4 107.2,354.3 108.8,354.2 110.3,354.2 111.8,354.1 113.3,354.1 114.8,354.1 116.3,354.1 117.8,354.2 119.3,354.3 120.8,354.4 122.3,354.5 123.8,354.6 125.3,354.8 126.8,354.9 128.4,355.1 129.9,355.3 131.4,355.5 132.9,355.7 134.4,355.9 135.9,356.1 137.4,356.3 138.9,356.5 140.4,356.8 141.9,357.0 143.4,357.2 144.9,357.4 146.4,357.6 148.0,357.7 149.5,357.9 151.0,358.1 152.5,358.3 154.0,358.4 155.5,358.5 157.0,358.7 158.5,358.8 160.0,358.9 161.5,359.0 163.0,359.1 164.5,359.2 166.1,359.3 167.6,359.4 169.1,359.4 170.6,359.5 172.1,359.6 173.6,359.6 175.1,359.7 176.6,359.7 178.1,359.7 179.6,359.8 181.1,359.8 182.6,359.8 184.1,359.8 184.1,360.1 Z" fill="url(#g35)" stroke="none"/>
<line x1="1.70" y1="360.70" x2="214.30" y2="360.70" stroke="#3c963c" stroke-width="1.20"/>
<polyline points="1.7,363.8 4.1,359.6 6.5,362.1 8.9,358.9 11.4,361.5 13.8,359.3 16.2,360.2 18.6,360.8 21.0,360.5 23.4,358.7 25.9,359.6 28.3,359.0 30.7,360.9 33.1,358.3 35.5,360.5 37.9,359.4 40.4,362.0 42.8,359.8 45.2,359.8 47.6,358.1 50.0,360.8 52.4,357.9 54.9,363.2 57.3,356.9 59.7,361.5 62.1,358.3 64.5,364.2 66.9,357.1 69.3,360.9 71.8,358.9 74.2,360.6 76.6,353.7 79.0,358.7 81.4,356.2 83.8,358.4 86.3,354.2 88.7,357.6 91.1,355.1 93.5,357.4 95.9,354.0 98.3,357.0 100.8,353.8 103.2,357.4 105.6,351.4 108.0,354.4 110.4,353.1 112.8,356.4 115.2,352.5 117.7,355.8 120.1,353.1 122.5,358.5 124.9,352.5 127.3,356.1 129.7,354.9 132.2,357.3 134.6,355.7 137.0,357.4 139.4,354.8 141.8,359.9 144.2,357.1 146.7,357.6 149.1,356.3 151.5,358.6 153.9,358.6 156.3,359.7 158.7,358.2 161.2,359.6 163.6,359.3 166.0,361.3 168.4,358.1 170.8,360.2 173.2,358.1 175.6,360.5 178.1,356.9 180.5,362.9 182.9,359.7 185.3,360.6 187.7,357.8 190.1,361.4 192.6,358.3 195.0,361.5 197.4,358.8 199.8,362.5 202.2,358.5 204.6,362.3 207.1,359.9 209.5,362.2 211.9,360.2 214.3,360.8" fill="none" stroke="#5a5a5a" stroke-width="0.90"/>
<polyline points="1.7,360.0 3.2,360.0 4.7,360.0 6.2,360.0 7.7,360.0 9.2,360.0 10.7,360.0 12.3,360.0 13.8,360.0 15.3,360.0 16.8,360.0 18.3,360.0 19.8,360.0 21.3,360.0 22.8,360.0 24.3,360.0 25.8,360.0 27.3,360.0 28.8,360.0 30.3,360.0 31.9,359.9 33.4,359.9 34.9,359.9 36.4,359.9 37.9,359.9 39.4,359.9 40.9,359.9 42.4,359.8 43.9,359.8 45.4,359.8 46.9,359.8 48.4,359.7 49.9,359.7 51.5,359.7 53.0,359.6 54.5,359.6 56.0,359.5 57.5,359.5 59.0,359.4 60.5,359.3 62.0,359.3 63.5,359.2 65.0,359.1 66.5,359.0 68.0,358.9 69.6,358.7 71.1,358.6 72.6,358.5 74.1,358.3 75.6,358.2 77.1,358.0 78.6,357.8 80.1,357.7 81.6,357.5 83.1,357.3 84.6,357.1 86.1,356.9 87.6,356.7 89.2,356.4 90.7,356.2 92.2,356.0 93.7,355.8 95.2,355.6 96.7,355.4 98.2,355.2 99.7,355.0 101.2,354.9 102.7,354.7 104.2,354.5 105.7,354.4 107.2,354.3 108.8,354.2 110.3,354.2 111.8,354.1 113.3,354.1 114.8,354.1 116.3,354.1 117.8,354.2 119.3,354.3 120.8,354.4 122.3,354.5 123.8,354.6 125.3,354.8 126.8,354.9 128.4,355.1 129.9,355.3 131.4,355.5 132.9,355.7 134.4,355.9 135.9,356.1 137.4,356.3 138.9,356.5 140.4,356.8 141.9,357.0 143.4,357.2 144.9,357.4 146.4,357.6 148.0,357.7 149.5,357.9 151.0,358.1 152.5,358.3 154.0,358.4 155.5,358.5 157.0,358.7 158.5,358.8 160.0,358.9 161.5,359.0 163.0,359.1 164.5,359.2 166.1,359.3 167.6,359.4 169.1,359.4 170.6,359.5 172.1,359.6 173.6,359.6 175.1,359.7 176.6,359.7 178.1,359.7 179.6,359.8 181.1,359.8 182.6,359.8 184.1,359.8 185.7,359.9 187.2,359.9 188.7,359.9 190.2,359.9 191.7,359.9 193.2,359.9 194.7,359.9 196.2,359.9 197.7,360.0 199.2,360.0 200.7,360.0 202.2,360.0 203.7,360.0 205.3,360.0" fill="none" stroke="#cc2628" stroke-width="1.70" stroke-linejoin="round"/>
<text x="9.0" y="344.2" font-size="9.60" font-family="Liberation Serif" font-weight="bold" fill="#111" stroke="#111" stroke-width="0.25" text-anchor="start" >Pristine</text>
<path d="M49.9,396.2 L49.9,395.9 51.5,395.9 53.0,395.9 54.5,395.9 56.0,395.9 57.5,395.8 59.0,395.8 60.5,395.7 62.0,395.7 63.5,395.6 65.0,395.5 66.5,395.5 68.0,395.3 69.6,395.2 71.1,395.0 72.6,394.8 74.1,394.6 75.6,394.3 77.1,394.0 78.6,393.6 80.1,393.2 81.6,392.7 83.1,392.2 84.6,391.5 86.1,390.8 87.6,390.0 89.2,389.2 90.7,388.2 92.2,387.2 93.7,386.1 95.2,385.0 96.7,383.8 98.2,382.5 99.7,381.2 101.2,379.8 102.7,378.5 104.2,377.2 105.7,375.9 107.2,374.6 108.8,373.4 110.3,372.4 111.8,371.4 113.3,370.5 114.8,369.8 116.3,369.2 117.8,368.9 119.3,368.7 120.8,368.6 122.3,368.8 123.8,369.1 125.3,369.6 126.8,370.2 128.4,370.9 129.9,371.8 131.4,372.7 132.9,373.8 134.4,374.9 135.9,376.1 137.4,377.2 138.9,378.4 140.4,379.7 141.9,380.9 143.4,382.1 144.9,383.3 146.4,384.4 148.0,385.5 149.5,386.5 151.0,387.5 152.5,388.5 154.0,389.3 155.5,390.1 157.0,390.9 158.5,391.5 160.0,392.1 161.5,392.7 163.0,393.1 164.5,393.6 166.1,393.9 167.6,394.3 169.1,394.5 170.6,394.8 172.1,395.0 173.6,395.2 175.1,395.3 176.6,395.4 178.1,395.5 179.6,395.6 181.1,395.7 182.6,395.7 184.1,395.8 185.7,395.8 187.2,395.8 188.7,395.9 190.2,395.9 191.7,395.9 193.2,395.9 194.7,395.9 194.7,396.2 Z" fill="url(#g36)" stroke="none"/>
<line x1="1.70" y1="396.80" x2="214.30" y2="396.80" stroke="#3c963c" stroke-width="1.20"/>
<polyline points="1.7,399.8 4.1,395.6 6.5,396.7 8.9,397.5 11.4,400.8 13.8,395.7 16.2,396.5 18.6,394.5 21.0,398.3 23.4,396.3 25.9,397.9 28.3,395.9 30.7,398.1 33.1,394.0 35.5,397.7 37.9,393.8 40.4,395.5 42.8,393.9 45.2,398.3 47.6,396.8 50.0,397.1 52.4,395.0 54.9,396.1 57.3,397.0 59.7,397.7 62.1,393.1 64.5,396.8 66.9,394.2 69.3,395.8 71.8,394.3 74.2,396.5 76.6,392.4 79.0,394.2 81.4,389.1 83.8,393.0 86.3,389.5 88.7,390.6 91.1,384.5 93.5,387.0 95.9,382.0 98.3,383.3 100.8,379.8 103.2,381.9 105.6,373.9 108.0,373.8 110.4,373.3 112.8,371.4 115.2,369.5 117.7,368.9 120.1,367.0 122.5,371.8 124.9,365.2 127.3,370.8 129.7,372.3 132.2,374.9 134.6,375.9 137.0,379.7 139.4,378.4 141.8,381.4 144.2,380.3 146.7,387.8 149.1,382.7 151.5,391.8 153.9,387.5 156.3,393.5 158.7,389.9 161.2,393.5 163.6,391.6 166.0,396.0 168.4,390.7 170.8,395.0 173.2,393.8 175.6,396.9 178.1,394.4 180.5,399.5 182.9,396.4 185.3,396.5 187.7,395.7 190.1,397.8 192.6,396.4 195.0,397.8 197.4,396.4 199.8,396.5 202.2,393.2 204.6,399.9 207.1,394.1 209.5,396.1 211.9,391.5 214.3,397.0" fill="none" stroke="#5a5a5a" stroke-width="0.90"/>
<polyline points="1.7,396.1 3.2,396.1 4.7,396.1 6.2,396.1 7.7,396.1 9.2,396.1 10.7,396.1 12.3,396.1 13.8,396.1 15.3,396.1 16.8,396.1 18.3,396.1 19.8,396.1 21.3,396.1 22.8,396.1 24.3,396.1 25.8,396.1 27.3,396.1 28.8,396.0 30.3,396.0 31.9,396.0 33.4,396.0 34.9,396.0 36.4,396.0 37.9,396.0 39.4,396.0 40.9,396.0 42.4,396.0 43.9,396.0 45.4,396.0 46.9,396.0 48.4,396.0 49.9,395.9 51.5,395.9 53.0,395.9 54.5,395.9 56.0,395.9 57.5,395.8 59.0,395.8 60.5,395.7 62.0,395.7 63.5,395.6 65.0,395.5 66.5,395.5 68.0,395.3 69.6,395.2 71.1,395.0 72.6,394.8 74.1,394.6 75.6,394.3 77.1,394.0 78.6,393.6 80.1,393.2 81.6,392.7 83.1,392.2 84.6,391.5 86.1,390.8 87.6,390.0 89.2,389.2 90.7,388.2 92.2,387.2 93.7,386.1 95.2,385.0 96.7,383.8 98.2,382.5 99.7,381.2 101.2,379.8 102.7,378.5 104.2,377.2 105.7,375.9 107.2,374.6 108.8,373.4 110.3,372.4 111.8,371.4 113.3,370.5 114.8,369.8 116.3,369.2 117.8,368.9 119.3,368.7 120.8,368.6 122.3,368.8 123.8,369.1 125.3,369.6 126.8,370.2 128.4,370.9 129.9,371.8 131.4,372.7 132.9,373.8 134.4,374.9 135.9,376.1 137.4,377.2 138.9,378.4 140.4,379.7 141.9,380.9 143.4,382.1 144.9,383.3 146.4,384.4 148.0,385.5 149.5,386.5 151.0,387.5 152.5,388.5 154.0,389.3 155.5,390.1 157.0,390.9 158.5,391.5 160.0,392.1 161.5,392.7 163.0,393.1 164.5,393.6 166.1,393.9 167.6,394.3 169.1,394.5 170.6,394.8 172.1,395.0 173.6,395.2 175.1,395.3 176.6,395.4 178.1,395.5 179.6,395.6 181.1,395.7 182.6,395.7 184.1,395.8 185.7,395.8 187.2,395.8 188.7,395.9 190.2,395.9 191.7,395.9 193.2,395.9 194.7,395.9 196.2,396.0 197.7,396.0 199.2,396.0 200.7,396.0 202.2,396.0 203.7,396.0 205.3,396.0" fill="none" stroke="#cc2628" stroke-width="1.70" stroke-linejoin="round"/>
<text x="9.5" y="374.7" font-size="9.60" font-family="Liberation Serif" font-weight="bold" fill="#111" stroke="#111" stroke-width="0.25" text-anchor="start" >BL+1.5%DTD</text>
<path d="M40.9,441.9 L40.9,441.6 42.4,441.6 43.9,441.6 45.4,441.6 46.9,441.6 48.4,441.5 49.9,441.5 51.5,441.5 53.0,441.4 54.5,441.4 56.0,441.4 57.5,441.3 59.0,441.2 60.5,441.2 62.0,441.1 63.5,441.0 65.0,440.9 66.5,440.7 68.0,440.6 69.6,440.4 71.1,440.3 72.6,440.1 74.1,439.8 75.6,439.6 77.1,439.3 78.6,439.0 80.1,438.7 81.6,438.3 83.1,437.9 84.6,437.5 86.1,437.0 87.6,436.5 89.2,436.0 90.7,435.5 92.2,434.9 93.7,434.4 95.2,433.8 96.7,433.1 98.2,432.5 99.7,431.9 101.2,431.2 102.7,430.6 104.2,430.0 105.7,429.4 107.2,428.8 108.8,428.2 110.3,427.7 111.8,427.3 113.3,426.8 114.8,426.5 116.3,426.2 117.8,425.9 119.3,425.8 120.8,425.7 122.3,425.7 123.8,425.8 125.3,425.9 126.8,426.2 128.4,426.4 129.9,426.8 131.4,427.2 132.9,427.7 134.4,428.2 135.9,428.7 137.4,429.3 138.9,429.9 140.4,430.5 141.9,431.2 143.4,431.8 144.9,432.4 146.4,433.1 148.0,433.7 149.5,434.3 151.0,434.9 152.5,435.4 154.0,436.0 155.5,436.5 157.0,437.0 158.5,437.4 160.0,437.9 161.5,438.3 163.0,438.6 164.5,439.0 166.1,439.3 167.6,439.6 169.1,439.8 170.6,440.0 172.1,440.2 173.6,440.4 175.1,440.6 176.6,440.7 178.1,440.9 179.6,441.0 181.1,441.1 182.6,441.2 184.1,441.2 185.7,441.3 187.2,441.4 188.7,441.4 190.2,441.4 191.7,441.5 193.2,441.5 194.7,441.5 196.2,441.6 197.7,441.6 199.2,441.6 200.7,441.6 202.2,441.6 202.2,441.9 Z" fill="url(#g37)" stroke="none"/>
<line x1="1.70" y1="442.50" x2="214.30" y2="442.50" stroke="#3c963c" stroke-width="1.20"/>
<polyline points="1.7,442.6 4.1,441.7 6.5,442.2 8.9,439.9 11.4,443.1 13.8,440.8 16.2,444.5 18.6,438.9 21.0,443.4 23.4,439.5 25.9,442.4 28.3,439.5 30.7,442.5 33.1,438.8 35.5,443.3 37.9,440.3 40.4,443.4 42.8,440.7 45.2,444.1 47.6,439.8 50.0,442.6 52.4,439.2 54.9,445.2 57.3,440.1 59.7,443.0 62.1,437.4 64.5,443.3 66.9,437.8 69.3,439.2 71.8,439.3 74.2,441.0 76.6,439.4 79.0,442.6 81.4,436.5 83.8,439.1 86.3,436.2 88.7,435.4 91.1,436.0 93.5,435.8 95.9,433.1 98.3,433.0 100.8,430.4 103.2,433.4 105.6,428.6 108.0,428.9 110.4,423.5 112.8,428.7 115.2,424.1 117.7,427.3 120.1,425.3 122.5,428.5 124.9,424.5 127.3,427.6 129.7,426.0 132.2,429.8 134.6,426.9 137.0,428.3 139.4,428.0 141.8,431.8 144.2,432.1 146.7,437.9 149.1,432.3 151.5,434.6 153.9,435.1 156.3,440.6 158.7,434.2 161.2,439.7 163.6,439.3 166.0,440.1 168.4,437.9 170.8,441.8 173.2,437.5 175.6,440.1 178.1,440.2 180.5,443.9 182.9,440.5 185.3,444.5 187.7,440.9 190.1,442.0 192.6,439.5 195.0,442.9 197.4,440.4 199.8,442.2 202.2,439.1 204.6,446.1 207.1,440.3 209.5,445.2 211.9,442.4 214.3,443.3" fill="none" stroke="#5a5a5a" stroke-width="0.90"/>
<polyline points="1.7,441.8 3.2,441.8 4.7,441.8 6.2,441.8 7.7,441.8 9.2,441.8 10.7,441.8 12.3,441.8 13.8,441.8 15.3,441.8 16.8,441.8 18.3,441.7 19.8,441.7 21.3,441.7 22.8,441.7 24.3,441.7 25.8,441.7 27.3,441.7 28.8,441.7 30.3,441.7 31.9,441.7 33.4,441.7 34.9,441.7 36.4,441.7 37.9,441.7 39.4,441.7 40.9,441.6 42.4,441.6 43.9,441.6 45.4,441.6 46.9,441.6 48.4,441.5 49.9,441.5 51.5,441.5 53.0,441.4 54.5,441.4 56.0,441.4 57.5,441.3 59.0,441.2 60.5,441.2 62.0,441.1 63.5,441.0 65.0,440.9 66.5,440.7 68.0,440.6 69.6,440.4 71.1,440.3 72.6,440.1 74.1,439.8 75.6,439.6 77.1,439.3 78.6,439.0 80.1,438.7 81.6,438.3 83.1,437.9 84.6,437.5 86.1,437.0 87.6,436.5 89.2,436.0 90.7,435.5 92.2,434.9 93.7,434.4 95.2,433.8 96.7,433.1 98.2,432.5 99.7,431.9 101.2,431.2 102.7,430.6 104.2,430.0 105.7,429.4 107.2,428.8 108.8,428.2 110.3,427.7 111.8,427.3 113.3,426.8 114.8,426.5 116.3,426.2 117.8,425.9 119.3,425.8 120.8,425.7 122.3,425.7 123.8,425.8 125.3,425.9 126.8,426.2 128.4,426.4 129.9,426.8 131.4,427.2 132.9,427.7 134.4,428.2 135.9,428.7 137.4,429.3 138.9,429.9 140.4,430.5 141.9,431.2 143.4,431.8 144.9,432.4 146.4,433.1 148.0,433.7 149.5,434.3 151.0,434.9 152.5,435.4 154.0,436.0 155.5,436.5 157.0,437.0 158.5,437.4 160.0,437.9 161.5,438.3 163.0,438.6 164.5,439.0 166.1,439.3 167.6,439.6 169.1,439.8 170.6,440.0 172.1,440.2 173.6,440.4 175.1,440.6 176.6,440.7 178.1,440.9 179.6,441.0 181.1,441.1 182.6,441.2 184.1,441.2 185.7,441.3 187.2,441.4 188.7,441.4 190.2,441.4 191.7,441.5 193.2,441.5 194.7,441.5 196.2,441.6 197.7,441.6 199.2,441.6 200.7,441.6 202.2,441.6 203.7,441.7 205.3,441.7" fill="none" stroke="#cc2628" stroke-width="1.70" stroke-linejoin="round"/>
<text x="8.8" y="411.7" font-size="9.60" font-family="Liberation Serif" font-weight="bold" fill="#111" stroke="#111" stroke-width="0.25" text-anchor="start" >BL+1%DTD+0.5%PES</text>
<path d="M16.8,483.3 L16.8,483.0 18.3,483.0 19.8,483.0 21.3,483.0 22.8,483.0 24.3,483.0 25.8,482.9 27.3,482.9 28.8,482.9 30.3,482.9 31.9,482.8 33.4,482.8 34.9,482.7 36.4,482.7 37.9,482.6 39.4,482.6 40.9,482.5 42.4,482.4 43.9,482.3 45.4,482.2 46.9,482.1 48.4,482.0 49.9,481.9 51.5,481.7 53.0,481.5 54.5,481.4 56.0,481.2 57.5,480.9 59.0,480.7 60.5,480.4 62.0,480.2 63.5,479.9 65.0,479.5 66.5,479.2 68.0,478.8 69.6,478.4 71.1,478.0 72.6,477.6 74.1,477.2 75.6,476.7 77.1,476.2 78.6,475.7 80.1,475.2 81.6,474.7 83.1,474.1 84.6,473.6 86.1,473.1 87.6,472.5 89.2,472.0 90.7,471.5 92.2,471.0 93.7,470.5 95.2,470.0 96.7,469.6 98.2,469.2 99.7,468.8 101.2,468.4 102.7,468.1 104.2,467.9 105.7,467.7 107.2,467.5 108.8,467.4 110.3,467.4 111.8,467.4 113.3,467.5 114.8,467.6 116.3,467.8 117.8,468.0 119.3,468.3 120.8,468.6 122.3,469.0 123.8,469.4 125.3,469.8 126.8,470.2 128.4,470.7 129.9,471.2 131.4,471.7 132.9,472.3 134.4,472.8 135.9,473.3 137.4,473.9 138.9,474.4 140.4,474.9 141.9,475.4 143.4,475.9 144.9,476.4 146.4,476.9 148.0,477.4 149.5,477.8 151.0,478.2 152.5,478.6 154.0,479.0 155.5,479.4 157.0,479.7 158.5,480.0 160.0,480.3 161.5,480.6 163.0,480.8 164.5,481.0 166.1,481.3 167.6,481.4 169.1,481.6 170.6,481.8 172.1,481.9 173.6,482.1 175.1,482.2 176.6,482.3 178.1,482.4 179.6,482.5 181.1,482.5 182.6,482.6 184.1,482.7 185.7,482.7 187.2,482.8 188.7,482.8 190.2,482.8 191.7,482.9 193.2,482.9 194.7,482.9 196.2,483.0 197.7,483.0 199.2,483.0 200.7,483.0 202.2,483.0 203.7,483.0 205.3,483.0 205.3,483.3 Z" fill="url(#g38)" stroke="none"/>
<line x1="1.70" y1="483.90" x2="214.30" y2="483.90" stroke="#3c963c" stroke-width="1.20"/>
<polyline points="1.7,485.5 4.1,482.8 6.5,484.4 8.9,479.0 11.4,483.4 13.8,482.5 16.2,484.8 18.6,482.2 21.0,485.1 23.4,481.0 25.9,483.7 28.3,481.9 30.7,486.0 33.1,477.8 35.5,483.8 37.9,480.8 40.4,484.6 42.8,480.2 45.2,483.0 47.6,483.4 50.0,483.1 52.4,478.8 54.9,481.6 57.3,478.7 59.7,481.0 62.1,479.4 64.5,481.8 66.9,479.2 69.3,479.0 71.8,473.9 74.2,478.7 76.6,473.9 79.0,478.4 81.4,473.7 83.8,473.7 86.3,472.7 88.7,474.6 91.1,467.8 93.5,472.8 95.9,468.2 98.3,470.1 100.8,465.8 103.2,468.1 105.6,467.5 108.0,470.4 110.4,466.9 112.8,468.6 115.2,465.6 117.7,469.3 120.1,467.9 122.5,471.4 124.9,468.4 127.3,469.6 129.7,468.5 132.2,473.6 134.6,470.0 137.0,475.5 139.4,473.4 141.8,476.6 144.2,476.4 146.7,478.0 149.1,475.2 151.5,479.7 153.9,478.7 156.3,479.6 158.7,478.3 161.2,481.4 163.6,478.3 166.0,481.6 168.4,477.2 170.8,484.1 173.2,480.5 175.6,482.6 178.1,479.6 180.5,484.3 182.9,482.1 185.3,483.1 187.7,483.6 190.1,485.1 192.6,481.6 195.0,485.0 197.4,481.0 199.8,484.2 202.2,484.2 204.6,485.9 207.1,479.9 209.5,484.4 211.9,480.7 214.3,484.2" fill="none" stroke="#5a5a5a" stroke-width="0.90"/>
<polyline points="1.7,483.1 3.2,483.1 4.7,483.1 6.2,483.1 7.7,483.1 9.2,483.1 10.7,483.1 12.3,483.1 13.8,483.1 15.3,483.1 16.8,483.0 18.3,483.0 19.8,483.0 21.3,483.0 22.8,483.0 24.3,483.0 25.8,482.9 27.3,482.9 28.8,482.9 30.3,482.9 31.9,482.8 33.4,482.8 34.9,482.7 36.4,482.7 37.9,482.6 39.4,482.6 40.9,482.5 42.4,482.4 43.9,482.3 45.4,482.2 46.9,482.1 48.4,482.0 49.9,481.9 51.5,481.7 53.0,481.5 54.5,481.4 56.0,481.2 57.5,480.9 59.0,480.7 60.5,480.4 62.0,480.2 63.5,479.9 65.0,479.5 66.5,479.2 68.0,478.8 69.6,478.4 71.1,478.0 72.6,477.6 74.1,477.2 75.6,476.7 77.1,476.2 78.6,475.7 80.1,475.2 81.6,474.7 83.1,474.1 84.6,473.6 86.1,473.1 87.6,472.5 89.2,472.0 90.7,471.5 92.2,471.0 93.7,470.5 95.2,470.0 96.7,469.6 98.2,469.2 99.7,468.8 101.2,468.4 102.7,468.1 104.2,467.9 105.7,467.7 107.2,467.5 108.8,467.4 110.3,467.4 111.8,467.4 113.3,467.5 114.8,467.6 116.3,467.8 117.8,468.0 119.3,468.3 120.8,468.6 122.3,469.0 123.8,469.4 125.3,469.8 126.8,470.2 128.4,470.7 129.9,471.2 131.4,471.7 132.9,472.3 134.4,472.8 135.9,473.3 137.4,473.9 138.9,474.4 140.4,474.9 141.9,475.4 143.4,475.9 144.9,476.4 146.4,476.9 148.0,477.4 149.5,477.8 151.0,478.2 152.5,478.6 154.0,479.0 155.5,479.4 157.0,479.7 158.5,480.0 160.0,480.3 161.5,480.6 163.0,480.8 164.5,481.0 166.1,481.3 167.6,481.4 169.1,481.6 170.6,481.8 172.1,481.9 173.6,482.1 175.1,482.2 176.6,482.3 178.1,482.4 179.6,482.5 181.1,482.5 182.6,482.6 184.1,482.7 185.7,482.7 187.2,482.8 188.7,482.8 190.2,482.8 191.7,482.9 193.2,482.9 194.7,482.9 196.2,483.0 197.7,483.0 199.2,483.0 200.7,483.0 202.2,483.0 203.7,483.0 205.3,483.0" fill="none" stroke="#cc2628" stroke-width="1.70" stroke-linejoin="round"/>
<text x="11.7" y="458.8" font-size="9.60" font-family="Liberation Serif" font-weight="bold" fill="#111" stroke="#111" stroke-width="0.25" text-anchor="start" >BL+0.5%TMSB</text>
<path d="M19.8,525.7 L19.8,525.4 21.3,525.4 22.8,525.4 24.3,525.4 25.8,525.4 27.3,525.4 28.8,525.4 30.3,525.4 31.9,525.3 33.4,525.3 34.9,525.3 36.4,525.3 37.9,525.2 39.4,525.2 40.9,525.2 42.4,525.1 43.9,525.1 45.4,525.0 46.9,524.9 48.4,524.9 49.9,524.8 51.5,524.7 53.0,524.6 54.5,524.4 56.0,524.3 57.5,524.1 59.0,523.9 60.5,523.7 62.0,523.5 63.5,523.3 65.0,523.0 66.5,522.7 68.0,522.3 69.6,522.0 71.1,521.6 72.6,521.2 74.1,520.7 75.6,520.2 77.1,519.7 78.6,519.1 80.1,518.5 81.6,517.9 83.1,517.2 84.6,516.5 86.1,515.8 87.6,515.1 89.2,514.3 90.7,513.6 92.2,512.8 93.7,512.1 95.2,511.3 96.7,510.5 98.2,509.8 99.7,509.1 101.2,508.4 102.7,507.8 104.2,507.2 105.7,506.7 107.2,506.2 108.8,505.8 110.3,505.5 111.8,505.3 113.3,505.1 114.8,505.0 116.3,505.0 117.8,505.1 119.3,505.3 120.8,505.5 122.3,505.9 123.8,506.3 125.3,506.8 126.8,507.3 128.4,507.9 129.9,508.5 131.4,509.2 132.9,509.9 134.4,510.6 135.9,511.4 137.4,512.2 138.9,512.9 140.4,513.7 141.9,514.4 143.4,515.2 144.9,515.9 146.4,516.6 148.0,517.3 149.5,517.9 151.0,518.6 152.5,519.2 154.0,519.7 155.5,520.3 157.0,520.7 158.5,521.2 160.0,521.6 161.5,522.0 163.0,522.4 164.5,522.7 166.1,523.0 167.6,523.3 169.1,523.5 170.6,523.8 172.1,524.0 173.6,524.2 175.1,524.3 176.6,524.5 178.1,524.6 179.6,524.7 181.1,524.8 182.6,524.9 184.1,524.9 185.7,525.0 187.2,525.1 188.7,525.1 190.2,525.2 191.7,525.2 193.2,525.2 194.7,525.3 196.2,525.3 197.7,525.3 199.2,525.3 200.7,525.4 202.2,525.4 203.7,525.4 205.3,525.4 206.8,525.4 208.3,525.4 209.8,525.4 211.3,525.4 211.3,525.7 Z" fill="url(#g39)" stroke="none"/>
<line x1="1.70" y1="526.30" x2="214.30" y2="526.30" stroke="#3c963c" stroke-width="1.20"/>
<polyline points="1.7,526.8 4.1,524.2 6.5,527.1 8.9,522.9 11.4,526.9 13.8,525.4 16.2,528.2 18.6,525.1 21.0,527.8 23.4,526.5 25.9,528.4 28.3,525.4 30.7,525.1 33.1,525.5 35.5,527.3 37.9,525.9 40.4,525.4 42.8,521.5 45.2,525.9 47.6,522.9 50.0,525.5 52.4,523.5 54.9,526.4 57.3,524.7 59.7,526.1 62.1,521.1 64.5,523.3 66.9,521.1 69.3,523.4 71.8,521.8 74.2,521.8 76.6,517.3 79.0,522.1 81.4,517.1 83.8,516.1 86.3,516.2 88.7,514.8 91.1,512.7 93.5,511.0 95.9,510.3 98.3,512.1 100.8,506.6 103.2,509.3 105.6,505.2 108.0,506.8 110.4,505.6 112.8,505.5 115.2,503.1 117.7,508.7 120.1,503.4 122.5,507.6 124.9,504.9 127.3,507.3 129.7,508.5 132.2,510.6 134.6,508.1 137.0,516.1 139.4,511.1 141.8,517.0 144.2,512.4 146.7,517.0 149.1,515.6 151.5,520.9 153.9,517.9 156.3,521.9 158.7,519.7 161.2,523.6 163.6,521.8 166.0,524.9 168.4,520.6 170.8,525.8 173.2,523.0 175.6,526.0 178.1,521.8 180.5,523.5 182.9,524.0 185.3,526.9 187.7,522.5 190.1,526.9 192.6,522.6 195.0,525.8 197.4,522.4 199.8,529.1 202.2,524.9 204.6,526.8 207.1,524.2 209.5,527.3 211.9,524.8 214.3,527.8" fill="none" stroke="#5a5a5a" stroke-width="0.90"/>
<polyline points="1.7,525.5 3.2,525.5 4.7,525.5 6.2,525.5 7.7,525.5 9.2,525.5 10.7,525.5 12.3,525.5 13.8,525.5 15.3,525.5 16.8,525.5 18.3,525.5 19.8,525.4 21.3,525.4 22.8,525.4 24.3,525.4 25.8,525.4 27.3,525.4 28.8,525.4 30.3,525.4 31.9,525.3 33.4,525.3 34.9,525.3 36.4,525.3 37.9,525.2 39.4,525.2 40.9,525.2 42.4,525.1 43.9,525.1 45.4,525.0 46.9,524.9 48.4,524.9 49.9,524.8 51.5,524.7 53.0,524.6 54.5,524.4 56.0,524.3 57.5,524.1 59.0,523.9 60.5,523.7 62.0,523.5 63.5,523.3 65.0,523.0 66.5,522.7 68.0,522.3 69.6,522.0 71.1,521.6 72.6,521.2 74.1,520.7 75.6,520.2 77.1,519.7 78.6,519.1 80.1,518.5 81.6,517.9 83.1,517.2 84.6,516.5 86.1,515.8 87.6,515.1 89.2,514.3 90.7,513.6 92.2,512.8 93.7,512.1 95.2,511.3 96.7,510.5 98.2,509.8 99.7,509.1 101.2,508.4 102.7,507.8 104.2,507.2 105.7,506.7 107.2,506.2 108.8,505.8 110.3,505.5 111.8,505.3 113.3,505.1 114.8,505.0 116.3,505.0 117.8,505.1 119.3,505.3 120.8,505.5 122.3,505.9 123.8,506.3 125.3,506.8 126.8,507.3 128.4,507.9 129.9,508.5 131.4,509.2 132.9,509.9 134.4,510.6 135.9,511.4 137.4,512.2 138.9,512.9 140.4,513.7 141.9,514.4 143.4,515.2 144.9,515.9 146.4,516.6 148.0,517.3 149.5,517.9 151.0,518.6 152.5,519.2 154.0,519.7 155.5,520.3 157.0,520.7 158.5,521.2 160.0,521.6 161.5,522.0 163.0,522.4 164.5,522.7 166.1,523.0 167.6,523.3 169.1,523.5 170.6,523.8 172.1,524.0 173.6,524.2 175.1,524.3 176.6,524.5 178.1,524.6 179.6,524.7 181.1,524.8 182.6,524.9 184.1,524.9 185.7,525.0 187.2,525.1 188.7,525.1 190.2,525.2 191.7,525.2 193.2,525.2 194.7,525.3 196.2,525.3 197.7,525.3 199.2,525.3 200.7,525.4 202.2,525.4 203.7,525.4 205.3,525.4" fill="none" stroke="#cc2628" stroke-width="1.70" stroke-linejoin="round"/>
<text x="12.9" y="499.8" font-size="9.60" font-family="Liberation Serif" font-weight="bold" fill="#111" stroke="#111" stroke-width="0.25" text-anchor="start" >BL+0.5%TTSP</text>
<path d="M19.8,567.4 L19.8,567.1 21.3,567.1 22.8,567.1 24.3,567.1 25.8,567.1 27.3,567.1 28.8,567.1 30.3,567.0 31.9,567.0 33.4,567.0 34.9,566.9 36.4,566.9 37.9,566.8 39.4,566.8 40.9,566.7 42.4,566.6 43.9,566.6 45.4,566.5 46.9,566.3 48.4,566.2 49.9,566.0 51.5,565.8 53.0,565.6 54.5,565.4 56.0,565.1 57.5,564.8 59.0,564.5 60.5,564.1 62.0,563.6 63.5,563.1 65.0,562.6 66.5,562.0 68.0,561.4 69.6,560.7 71.1,559.9 72.6,559.1 74.1,558.2 75.6,557.3 77.1,556.3 78.6,555.3 80.1,554.2 81.6,553.1 83.1,551.9 84.6,550.8 86.1,549.6 87.6,548.4 89.2,547.2 90.7,546.0 92.2,544.8 93.7,543.7 95.2,542.7 96.7,541.6 98.2,540.7 99.7,539.9 101.2,539.1 102.7,538.5 104.2,538.0 105.7,537.6 107.2,537.3 108.8,537.2 110.3,537.2 111.8,537.4 113.3,537.7 114.8,538.1 116.3,538.7 117.8,539.4 119.3,540.2 120.8,541.0 122.3,542.0 123.8,543.0 125.3,544.1 126.8,545.3 128.4,546.4 129.9,547.6 131.4,548.8 132.9,550.0 134.4,551.2 135.9,552.4 137.4,553.5 138.9,554.6 140.4,555.7 141.9,556.7 143.4,557.6 144.9,558.5 146.4,559.4 148.0,560.2 149.5,560.9 151.0,561.6 152.5,562.2 154.0,562.8 155.5,563.3 157.0,563.8 158.5,564.2 160.0,564.6 161.5,564.9 163.0,565.2 164.5,565.5 166.1,565.7 167.6,565.9 169.1,566.1 170.6,566.2 172.1,566.4 173.6,566.5 175.1,566.6 176.6,566.7 178.1,566.8 179.6,566.8 181.1,566.9 182.6,566.9 184.1,567.0 185.7,567.0 187.2,567.0 188.7,567.0 190.2,567.1 191.7,567.1 193.2,567.1 194.7,567.1 196.2,567.1 197.7,567.1 199.2,567.1 199.2,567.4 Z" fill="url(#g40)" stroke="none"/>
<line x1="1.70" y1="568.00" x2="214.30" y2="568.00" stroke="#3c963c" stroke-width="1.20"/>
<polyline points="1.7,568.5 4.1,565.5 6.5,567.2 8.9,566.4 11.4,568.2 13.8,564.9 16.2,569.4 18.6,564.7 21.0,568.8 23.4,564.6 25.9,570.3 28.3,566.8 30.7,567.8 33.1,567.1 35.5,567.8 37.9,565.4 40.4,569.0 42.8,565.6 45.2,568.2 47.6,566.1 50.0,570.7 52.4,563.6 54.9,568.0 57.3,563.1 59.7,564.9 62.1,562.4 64.5,565.8 66.9,561.2 69.3,562.8 71.8,557.5 74.2,560.5 76.6,555.3 79.0,554.7 81.4,551.8 83.8,553.6 86.3,547.7 88.7,549.6 91.1,543.2 93.5,543.4 95.9,540.0 98.3,539.7 100.8,538.3 103.2,538.5 105.6,538.0 108.0,539.1 110.4,536.8 112.8,538.7 115.2,536.1 117.7,539.2 120.1,539.8 122.5,541.5 124.9,540.4 127.3,545.0 129.7,547.4 132.2,550.3 134.6,549.5 137.0,556.6 139.4,552.3 141.8,558.9 144.2,555.5 146.7,561.8 149.1,558.6 151.5,563.2 153.9,559.5 156.3,566.2 158.7,563.0 161.2,564.2 163.6,565.7 166.0,566.6 168.4,565.7 170.8,568.6 173.2,566.0 175.6,566.9 178.1,563.1 180.5,569.2 182.9,565.3 185.3,569.5 187.7,565.1 190.1,569.2 192.6,568.9 195.0,568.5 197.4,566.4 199.8,567.0 202.2,564.7 204.6,569.4 207.1,565.4 209.5,569.1 211.9,568.7 214.3,569.3" fill="none" stroke="#5a5a5a" stroke-width="0.90"/>
<polyline points="1.7,567.2 3.2,567.2 4.7,567.2 6.2,567.2 7.7,567.2 9.2,567.2 10.7,567.2 12.3,567.2 13.8,567.2 15.3,567.2 16.8,567.2 18.3,567.2 19.8,567.1 21.3,567.1 22.8,567.1 24.3,567.1 25.8,567.1 27.3,567.1 28.8,567.1 30.3,567.0 31.9,567.0 33.4,567.0 34.9,566.9 36.4,566.9 37.9,566.8 39.4,566.8 40.9,566.7 42.4,566.6 43.9,566.6 45.4,566.5 46.9,566.3 48.4,566.2 49.9,566.0 51.5,565.8 53.0,565.6 54.5,565.4 56.0,565.1 57.5,564.8 59.0,564.5 60.5,564.1 62.0,563.6 63.5,563.1 65.0,562.6 66.5,562.0 68.0,561.4 69.6,560.7 71.1,559.9 72.6,559.1 74.1,558.2 75.6,557.3 77.1,556.3 78.6,555.3 80.1,554.2 81.6,553.1 83.1,551.9 84.6,550.8 86.1,549.6 87.6,548.4 89.2,547.2 90.7,546.0 92.2,544.8 93.7,543.7 95.2,542.7 96.7,541.6 98.2,540.7 99.7,539.9 101.2,539.1 102.7,538.5 104.2,538.0 105.7,537.6 107.2,537.3 108.8,537.2 110.3,537.2 111.8,537.4 113.3,537.7 114.8,538.1 116.3,538.7 117.8,539.4 119.3,540.2 120.8,541.0 122.3,542.0 123.8,543.0 125.3,544.1 126.8,545.3 128.4,546.4 129.9,547.6 131.4,548.8 132.9,550.0 134.4,551.2 135.9,552.4 137.4,553.5 138.9,554.6 140.4,555.7 141.9,556.7 143.4,557.6 144.9,558.5 146.4,559.4 148.0,560.2 149.5,560.9 151.0,561.6 152.5,562.2 154.0,562.8 155.5,563.3 157.0,563.8 158.5,564.2 160.0,564.6 161.5,564.9 163.0,565.2 164.5,565.5 166.1,565.7 167.6,565.9 169.1,566.1 170.6,566.2 172.1,566.4 173.6,566.5 175.1,566.6 176.6,566.7 178.1,566.8 179.6,566.8 181.1,566.9 182.6,566.9 184.1,567.0 185.7,567.0 187.2,567.0 188.7,567.0 190.2,567.1 191.7,567.1 193.2,567.1 194.7,567.1 196.2,567.1 197.7,567.1 199.2,567.1 200.7,567.2 202.2,567.2 203.7,567.2 205.3,567.2" fill="none" stroke="#cc2628" stroke-width="1.70" stroke-linejoin="round"/>
<text x="11.7" y="542.4" font-size="9.60" font-family="Liberation Serif" font-weight="bold" fill="#111" stroke="#111" stroke-width="0.25" text-anchor="start" >BL+0.5%MMDS</text>
<rect x="1.70" y="315.30" width="212.60" height="266.80" fill="none" stroke="#111" stroke-width="1.40"/>
<line x1="37.49" y1="582.10" x2="37.49" y2="584.10" stroke="#111" stroke-width="1"/>
<line x1="90.64" y1="582.10" x2="90.64" y2="584.10" stroke="#111" stroke-width="1"/>
<line x1="143.79" y1="582.10" x2="143.79" y2="584.10" stroke="#111" stroke-width="1"/>
<line x1="196.94" y1="582.10" x2="196.94" y2="584.10" stroke="#111" stroke-width="1"/>
<line x1="10.91" y1="582.10" x2="10.91" y2="583.30" stroke="#111" stroke-width="0.8"/>
<line x1="64.06" y1="582.10" x2="64.06" y2="583.30" stroke="#111" stroke-width="0.8"/>
<line x1="117.21" y1="582.10" x2="117.21" y2="583.30" stroke="#111" stroke-width="0.8"/>
<line x1="170.36" y1="582.10" x2="170.36" y2="583.30" stroke="#111" stroke-width="0.8"/>
<text x="37.5" y="593.0" font-size="8.70" font-family="Liberation Serif" font-weight="bold" fill="#111" stroke="#111" stroke-width="0.25" text-anchor="middle" >165</text>
<text x="90.6" y="593.0" font-size="8.70" font-family="Liberation Serif" font-weight="bold" fill="#111" stroke="#111" stroke-width="0.25" text-anchor="middle" >168</text>
<text x="143.8" y="593.0" font-size="8.70" font-family="Liberation Serif" font-weight="bold" fill="#111" stroke="#111" stroke-width="0.25" text-anchor="middle" >171</text>
<text x="196.9" y="593.0" font-size="8.70" font-family="Liberation Serif" font-weight="bold" fill="#111" stroke="#111" stroke-width="0.25" text-anchor="middle" >174</text>
<text x="4.3" y="329.1" font-size="14.20" font-family="Liberation Serif" font-weight="bold" fill="#111" stroke="#111" stroke-width="0.25" text-anchor="start" >S 2p</text>
<text x="119.5" y="605.0" font-size="11.60" font-family="Liberation Serif" font-weight="bold" fill="#111" stroke="#111" stroke-width="0.25" text-anchor="middle" >Binding Energy / eV</text>
<path d="M256.5,361.3 L256.5,361.0 258.0,361.0 259.5,361.0 261.1,361.0 262.6,361.0 264.1,361.0 265.6,361.0 267.1,361.0 268.6,360.9 270.1,360.9 271.6,360.9 273.1,360.9 274.6,360.9 276.1,360.9 277.6,360.9 279.1,360.8 280.6,360.8 282.1,360.8 283.6,360.8 285.1,360.8 286.6,360.7 288.1,360.7 289.6,360.7 291.1,360.7 292.6,360.7 294.1,360.7 295.7,360.6 297.2,360.6 298.7,360.6 300.2,360.6 301.7,360.6 303.2,360.5 304.7,360.5 306.2,360.5 307.7,360.5 309.2,360.5 310.7,360.4 312.2,360.4 313.7,360.4 315.2,360.4 316.7,360.4 318.2,360.4 319.7,360.3 321.2,360.3 322.7,360.3 324.2,360.3 325.7,360.3 327.2,360.2 328.7,360.2 330.3,360.2 331.8,360.2 333.3,360.2 334.8,360.2 336.3,360.2 337.8,360.1 339.3,360.1 340.8,360.1 342.3,360.1 343.8,360.1 345.3,360.1 346.8,360.1 348.3,360.1 349.8,360.1 351.3,360.0 352.8,360.0 354.3,360.0 355.8,360.0 357.3,360.0 358.8,360.0 360.3,360.0 361.8,360.0 363.3,360.0 364.9,360.0 366.4,360.0 367.9,360.0 369.4,360.0 370.9,360.0 372.4,360.0 373.9,360.0 375.4,360.0 376.9,360.0 378.4,360.0 379.9,360.0 381.4,360.0 382.9,360.0 384.4,360.0 385.9,360.1 387.4,360.1 388.9,360.1 390.4,360.1 391.9,360.1 393.4,360.1 394.9,360.1 396.4,360.1 397.9,360.1 399.5,360.2 401.0,360.2 402.5,360.2 404.0,360.2 405.5,360.2 407.0,360.2 408.5,360.3 410.0,360.3 411.5,360.3 413.0,360.3 414.5,360.3 416.0,360.3 417.5,360.4 419.0,360.4 420.5,360.4 422.0,360.4 423.5,360.4 425.0,360.5 426.5,360.5 428.0,360.5 429.5,360.5 431.0,360.5 432.5,360.6 434.1,360.6 435.6,360.6 437.1,360.6 438.6,360.6 440.1,360.6 441.6,360.7 443.1,360.7 444.6,360.7 446.1,360.7 447.6,360.7 449.1,360.8 450.6,360.8 450.6,361.3 Z" fill="url(#g41)" stroke="none"/>
<line x1="243.00" y1="361.30" x2="450.60" y2="361.30" stroke="#3c963c" stroke-width="1.30"/>
<polyline points="270.1,360.9 271.6,360.9 273.1,360.9 274.6,360.9 276.1,360.9 277.6,360.9 279.1,360.8 280.6,360.8 282.1,360.8 283.6,360.8 285.1,360.8 286.6,360.7 288.1,360.7 289.6,360.7 291.1,360.7 292.6,360.7 294.1,360.7 295.7,360.6 297.2,360.6 298.7,360.6 300.2,360.6 301.7,360.6 303.2,360.5 304.7,360.5 306.2,360.5 307.7,360.5 309.2,360.5 310.7,360.4 312.2,360.4 313.7,360.4 315.2,360.4 316.7,360.4 318.2,360.4 319.7,360.3 321.2,360.3 322.7,360.3 324.2,360.3 325.7,360.3 327.2,360.2 328.7,360.2 330.3,360.2 331.8,360.2 333.3,360.2 334.8,360.2 336.3,360.2 337.8,360.1 339.3,360.1 340.8,360.1 342.3,360.1 343.8,360.1 345.3,360.1 346.8,360.1 348.3,360.1 349.8,360.1 351.3,360.0 352.8,360.0 354.3,360.0 355.8,360.0 357.3,360.0 358.8,360.0 360.3,360.0 361.8,360.0 363.3,360.0 364.9,360.0 366.4,360.0 367.9,360.0 369.4,360.0 370.9,360.0 372.4,360.0 373.9,360.0 375.4,360.0 376.9,360.0 378.4,360.0 379.9,360.0 381.4,360.0 382.9,360.0 384.4,360.0 385.9,360.1 387.4,360.1 388.9,360.1 390.4,360.1 391.9,360.1 393.4,360.1 394.9,360.1 396.4,360.1 397.9,360.1 399.5,360.2 401.0,360.2 402.5,360.2 404.0,360.2 405.5,360.2 407.0,360.2 408.5,360.3 410.0,360.3 411.5,360.3 413.0,360.3 414.5,360.3 416.0,360.3 417.5,360.4 419.0,360.4 420.5,360.4 422.0,360.4 423.5,360.4 425.0,360.5 426.5,360.5 428.0,360.5 429.5,360.5 431.0,360.5 432.5,360.6 434.1,360.6 435.6,360.6 437.1,360.6 438.6,360.6 440.1,360.6 441.6,360.7 443.1,360.7 444.6,360.7 446.1,360.7 447.6,360.7 449.1,360.8 450.6,360.8" fill="none" stroke="#cc2628" stroke-width="1.70" stroke-linejoin="round"/>
<polyline points="243.0,361.2 245.6,360.4 248.3,361.5 250.9,361.9 253.5,360.9 256.1,360.7 258.8,360.8 261.4,360.7 264.0,361.0 266.7,361.2 269.3,361.2 271.9,361.0 274.5,361.0 277.2,360.4 279.8,360.5 282.4,361.3 285.0,360.4 287.7,360.7 290.3,360.2 292.9,359.9 295.6,360.3 298.2,361.4 300.8,360.2 303.4,361.2 306.1,359.7 308.7,360.7 311.3,360.5 314.0,359.5 316.6,361.1 319.2,360.3 321.8,360.8 324.5,360.5 327.1,360.6 329.7,359.9 332.3,360.3 335.0,360.0 337.6,359.8 340.2,360.9 342.9,359.4 345.5,360.1 348.1,360.8 350.7,360.3 353.4,359.6 356.0,359.5 358.6,360.3 361.3,359.9 363.9,359.8 366.5,359.5 369.1,360.0 371.8,359.5 374.4,360.4 377.0,360.3 379.6,359.7 382.3,359.7 384.9,360.0 387.5,359.7 390.2,359.9 392.8,359.7 395.4,359.5 398.0,359.9 400.7,359.7 403.3,360.3 405.9,360.4 408.6,361.3 411.2,360.0 413.8,360.3 416.4,360.1 419.1,361.2 421.7,360.6 424.3,360.7 426.9,361.3 429.6,360.0 432.2,359.9 434.8,361.1 437.5,360.4 440.1,359.8 442.7,361.2 445.3,360.2 448.0,360.0 450.6,359.9" fill="none" stroke="#555555" stroke-width="0.80"/>
<text x="251.7" y="350.5" font-size="9.60" font-family="Liberation Serif" font-weight="bold" fill="#111" stroke="#111" stroke-width="0.25" text-anchor="start" >Pristine</text>
<path d="M303.2,401.1 L303.2,400.8 304.7,400.8 306.2,400.8 307.7,400.7 309.2,400.7 310.7,400.7 312.2,400.6 313.7,400.6 315.2,400.5 316.7,400.5 318.2,400.4 319.7,400.4 321.2,400.3 322.7,400.2 324.2,400.2 325.7,400.1 327.2,400.1 328.7,400.0 330.3,399.9 331.8,399.9 333.3,399.8 334.8,399.8 336.3,399.8 337.8,399.7 339.3,399.7 340.8,399.7 342.3,399.6 343.8,399.6 345.3,399.6 346.8,399.6 348.3,399.6 349.8,399.6 351.3,399.6 352.8,399.7 354.3,399.7 355.8,399.7 357.3,399.8 358.8,399.8 360.3,399.8 361.8,399.9 363.3,399.9 364.9,400.0 366.4,400.1 367.9,400.1 369.4,400.2 370.9,400.2 372.4,400.3 373.9,400.4 375.4,400.4 376.9,400.5 378.4,400.5 379.9,400.6 381.4,400.6 382.9,400.7 384.4,400.7 385.9,400.7 387.4,400.8 388.9,400.8 390.4,400.8 390.4,401.1 Z" fill="url(#g42)" stroke="none"/>
<path d="M378.4,401.1 L378.4,400.8 379.9,400.7 381.4,400.6 382.9,400.5 384.4,400.4 385.9,400.3 387.4,400.1 388.9,400.0 390.4,399.8 391.9,399.6 393.4,399.5 394.9,399.3 396.4,399.1 397.9,398.9 399.5,398.8 401.0,398.6 402.5,398.5 404.0,398.4 405.5,398.3 407.0,398.3 408.5,398.3 410.0,398.3 411.5,398.4 413.0,398.5 414.5,398.6 416.0,398.7 417.5,398.9 419.0,399.0 420.5,399.2 422.0,399.4 423.5,399.6 425.0,399.7 426.5,399.9 428.0,400.1 429.5,400.2 431.0,400.4 432.5,400.5 434.1,400.6 435.6,400.7 437.1,400.8 438.6,400.8 438.6,401.1 Z" fill="url(#g43)" stroke="none"/>
<line x1="243.00" y1="401.10" x2="450.60" y2="401.10" stroke="#3c963c" stroke-width="1.30"/>
<polyline points="285.1,401.0 286.6,401.0 288.1,401.0 289.6,401.0 291.1,401.0 292.6,401.0 294.1,401.0 295.7,401.0 297.2,400.9 298.7,400.9 300.2,400.9 301.7,400.9 303.2,400.8 304.7,400.8 306.2,400.8 307.7,400.7 309.2,400.7 310.7,400.7 312.2,400.6 313.7,400.6 315.2,400.5 316.7,400.5 318.2,400.4 319.7,400.4 321.2,400.3 322.7,400.2 324.2,400.2 325.7,400.1 327.2,400.1 328.7,400.0 330.3,399.9 331.8,399.9 333.3,399.8 334.8,399.8 336.3,399.8 337.8,399.7 339.3,399.7 340.8,399.7 342.3,399.6 343.8,399.6 345.3,399.6 346.8,399.6 348.3,399.6 349.8,399.6 351.3,399.6 352.8,399.7 354.3,399.7 355.8,399.7 357.3,399.8 358.8,399.8 360.3,399.8 361.8,399.9 363.3,399.9 364.9,400.0 366.4,400.1 367.9,400.1 369.4,400.2 370.9,400.2 372.4,400.3 373.9,400.4 375.4,400.4 376.9,400.5 378.4,400.5 379.9,400.6" fill="none" stroke="#1e1ec0" stroke-width="1.70" stroke-linejoin="round"/>
<polyline points="379.9,400.7 381.4,400.6 382.9,400.5 384.4,400.4 385.9,400.3 387.4,400.1 388.9,400.0 390.4,399.8 391.9,399.6 393.4,399.5 394.9,399.3 396.4,399.1 397.9,398.9 399.5,398.8 401.0,398.6 402.5,398.5 404.0,398.4 405.5,398.3 407.0,398.3 408.5,398.3 410.0,398.3 411.5,398.4 413.0,398.5 414.5,398.6 416.0,398.7 417.5,398.9 419.0,399.0 420.5,399.2 422.0,399.4 423.5,399.6 425.0,399.7 426.5,399.9 428.0,400.1 429.5,400.2 431.0,400.4 432.5,400.5 434.1,400.6 435.6,400.7" fill="none" stroke="#cc2628" stroke-width="1.70" stroke-linejoin="round"/>
<polyline points="243.0,401.7 245.6,401.5 248.3,400.9 250.9,400.5 253.5,401.6 256.1,401.4 258.8,401.5 261.4,400.5 264.0,401.3 266.7,400.8 269.3,400.7 271.9,400.5 274.5,400.8 277.2,400.9 279.8,400.5 282.4,400.8 285.0,401.6 287.7,401.2 290.3,400.5 292.9,400.9 295.6,401.1 298.2,400.8 300.8,399.3 303.4,400.8 306.1,400.5 308.7,400.4 311.3,400.7 314.0,400.0 316.6,400.0 319.2,400.1 321.8,400.8 324.5,399.5 327.1,399.7 329.7,400.0 332.3,401.1 335.0,399.8 337.6,400.2 340.2,399.7 342.9,399.8 345.5,399.9 348.1,399.1 350.7,399.5 353.4,399.0 356.0,400.1 358.6,399.8 361.3,399.2 363.9,399.7 366.5,400.3 369.1,400.5 371.8,400.4 374.4,400.2 377.0,399.8 379.6,400.1 382.3,399.7 384.9,399.5 387.5,399.7 390.2,398.9 392.8,398.9 395.4,399.1 398.0,398.8 400.7,398.5 403.3,398.7 405.9,398.8 408.6,398.2 411.2,398.5 413.8,398.2 416.4,398.9 419.1,398.9 421.7,399.2 424.3,399.8 426.9,399.8 429.6,400.5 432.2,400.6 434.8,400.2 437.5,400.5 440.1,400.8 442.7,401.3 445.3,400.6 448.0,400.1 450.6,402.0" fill="none" stroke="#555555" stroke-width="0.80"/>
<text x="251.7" y="376.3" font-size="9.60" font-family="Liberation Serif" font-weight="bold" fill="#111" stroke="#111" stroke-width="0.25" text-anchor="start" >BL+1.5%DTD</text>
<path d="M283.6,446.4 L283.6,446.1 285.1,446.1 286.6,446.1 288.1,446.1 289.6,446.1 291.1,446.1 292.6,446.1 294.1,446.1 295.7,446.0 297.2,446.0 298.7,446.0 300.2,446.0 301.7,446.0 303.2,446.0 304.7,446.0 306.2,445.9 307.7,445.9 309.2,445.9 310.7,445.9 312.2,445.9 313.7,445.9 315.2,445.9 316.7,445.8 318.2,445.8 319.7,445.8 321.2,445.8 322.7,445.8 324.2,445.8 325.7,445.8 327.2,445.8 328.7,445.8 330.3,445.7 331.8,445.7 333.3,445.7 334.8,445.7 336.3,445.7 337.8,445.7 339.3,445.7 340.8,445.7 342.3,445.7 343.8,445.7 345.3,445.7 346.8,445.7 348.3,445.7 349.8,445.7 351.3,445.7 352.8,445.7 354.3,445.7 355.8,445.7 357.3,445.7 358.8,445.7 360.3,445.7 361.8,445.7 363.3,445.7 364.9,445.8 366.4,445.8 367.9,445.8 369.4,445.8 370.9,445.8 372.4,445.8 373.9,445.8 375.4,445.8 376.9,445.8 378.4,445.9 379.9,445.9 381.4,445.9 382.9,445.9 384.4,445.9 385.9,445.9 387.4,445.9 388.9,446.0 390.4,446.0 391.9,446.0 393.4,446.0 394.9,446.0 396.4,446.0 397.9,446.0 399.5,446.1 401.0,446.1 402.5,446.1 404.0,446.1 405.5,446.1 407.0,446.1 408.5,446.1 410.0,446.1 410.0,446.4 Z" fill="url(#g44)" stroke="none"/>
<path d="M411.5,446.4 L411.5,446.1 413.0,446.0 414.5,445.8 416.0,445.6 417.5,445.3 419.0,445.0 420.5,444.8 422.0,444.7 423.5,444.6 425.0,444.6 426.5,444.8 428.0,445.0 429.5,445.3 431.0,445.5 432.5,445.8 434.1,446.0 435.6,446.1 435.6,446.4 Z" fill="url(#g45)" stroke="none"/>
<line x1="243.00" y1="446.40" x2="450.60" y2="446.40" stroke="#3c963c" stroke-width="1.30"/>
<polyline points="265.6,446.3 267.1,446.3 268.6,446.3 270.1,446.2 271.6,446.2 273.1,446.2 274.6,446.2 276.1,446.2 277.6,446.2 279.1,446.2 280.6,446.2 282.1,446.2 283.6,446.1 285.1,446.1 286.6,446.1 288.1,446.1 289.6,446.1 291.1,446.1 292.6,446.1 294.1,446.1 295.7,446.0 297.2,446.0 298.7,446.0 300.2,446.0 301.7,446.0 303.2,446.0 304.7,446.0 306.2,445.9 307.7,445.9 309.2,445.9 310.7,445.9 312.2,445.9 313.7,445.9 315.2,445.9 316.7,445.8 318.2,445.8 319.7,445.8 321.2,445.8 322.7,445.8 324.2,445.8 325.7,445.8 327.2,445.8 328.7,445.8 330.3,445.7 331.8,445.7 333.3,445.7 334.8,445.7 336.3,445.7 337.8,445.7 339.3,445.7 340.8,445.7 342.3,445.7 343.8,445.7 345.3,445.7 346.8,445.7 348.3,445.7 349.8,445.7 351.3,445.7 352.8,445.7 354.3,445.7 355.8,445.7 357.3,445.7 358.8,445.7 360.3,445.7 361.8,445.7 363.3,445.7 364.9,445.8 366.4,445.8 367.9,445.8 369.4,445.8 370.9,445.8 372.4,445.8 373.9,445.8 375.4,445.8 376.9,445.8 378.4,445.9 379.9,445.9 381.4,445.9 382.9,445.9 384.4,445.9 385.9,445.9 387.4,445.9 388.9,446.0 390.4,446.0 391.9,446.0 393.4,446.0 394.9,446.0 396.4,446.0 397.9,446.0 399.5,446.1 401.0,446.1 402.5,446.1 404.0,446.1 405.5,446.1 407.0,446.1 408.5,446.1 410.0,446.1 411.5,446.2 413.0,446.2 414.5,446.2 416.0,446.2 417.5,446.2 419.0,446.2" fill="none" stroke="#cc2628" stroke-width="1.70" stroke-linejoin="round"/>
<polyline points="413.0,446.0 414.5,445.8 416.0,445.6 417.5,445.3 419.0,445.0 420.5,444.8 422.0,444.7 423.5,444.6 425.0,444.6 426.5,444.8 428.0,445.0 429.5,445.3 431.0,445.5 432.5,445.8 434.1,446.0" fill="none" stroke="#1e1ec0" stroke-width="1.70" stroke-linejoin="round"/>
<polyline points="243.0,445.8 245.6,446.2 248.3,445.8 250.9,445.7 253.5,446.7 256.1,445.5 258.8,446.5 261.4,446.4 264.0,445.9 266.7,446.3 269.3,446.1 271.9,446.4 274.5,446.6 277.2,446.1 279.8,446.6 282.4,445.5 285.0,446.0 287.7,445.4 290.3,446.6 292.9,447.0 295.6,447.0 298.2,446.1 300.8,446.5 303.4,445.8 306.1,446.6 308.7,446.5 311.3,445.7 314.0,446.0 316.6,445.5 319.2,445.4 321.8,445.6 324.5,446.3 327.1,446.1 329.7,444.7 332.3,445.8 335.0,445.5 337.6,445.6 340.2,445.7 342.9,445.7 345.5,445.9 348.1,445.9 350.7,446.6 353.4,444.9 356.0,445.7 358.6,446.3 361.3,445.4 363.9,445.4 366.5,446.4 369.1,446.0 371.8,445.1 374.4,445.5 377.0,445.6 379.6,445.4 382.3,445.9 384.9,446.0 387.5,445.2 390.2,446.0 392.8,446.0 395.4,445.7 398.0,446.0 400.7,446.6 403.3,445.2 405.9,446.1 408.6,445.2 411.2,445.6 413.8,446.0 416.4,444.5 419.1,444.9 421.7,444.9 424.3,444.4 426.9,445.7 429.6,444.9 432.2,445.9 434.8,446.0 437.5,446.5 440.1,445.9 442.7,446.1 445.3,445.8 448.0,445.5 450.6,446.2" fill="none" stroke="#555555" stroke-width="0.80"/>
<text x="251.7" y="416.1" font-size="9.60" font-family="Liberation Serif" font-weight="bold" fill="#111" stroke="#111" stroke-width="0.25" text-anchor="start" >BL+1%DTD+0.5%PES</text>
<path d="M391.9,489.0 L391.9,488.7 393.4,488.6 394.9,488.5 396.4,488.3 397.9,488.1 399.5,487.9 401.0,487.6 402.5,487.3 404.0,486.9 405.5,486.5 407.0,486.1 408.5,485.6 410.0,485.1 411.5,484.7 413.0,484.2 414.5,483.8 416.0,483.5 417.5,483.2 419.0,483.0 420.5,482.9 422.0,482.9 423.5,483.0 425.0,483.2 426.5,483.5 428.0,483.8 429.5,484.2 431.0,484.6 432.5,485.1 434.1,485.6 435.6,486.0 437.1,486.5 438.6,486.9 440.1,487.2 441.6,487.6 443.1,487.9 444.6,488.1 446.1,488.3 447.6,488.5 449.1,488.6 450.6,488.7 450.6,489.0 Z" fill="url(#g46)" stroke="none"/>
<path d="M394.9,489.0 L394.9,488.6 396.4,488.2 397.9,487.8 399.5,487.2 401.0,486.5 402.5,485.8 404.0,485.2 405.5,484.9 407.0,484.9 408.5,485.3 410.0,485.8 411.5,486.5 413.0,487.2 414.5,487.8 416.0,488.3 417.5,488.6 417.5,489.0 Z" fill="url(#g47)" stroke="none"/>
<line x1="243.00" y1="489.00" x2="450.60" y2="489.00" stroke="#3c963c" stroke-width="1.30"/>
<polyline points="300.2,489.0 301.7,489.0 303.2,489.0 304.7,489.0 306.2,489.0 307.7,489.0 309.2,489.0 310.7,489.0 312.2,489.0 313.7,489.0 315.2,489.0 316.7,489.0 318.2,489.0 319.7,489.0 321.2,489.0 322.7,489.0 324.2,489.0 325.7,489.0 327.2,489.0 328.7,489.0 330.3,489.0 331.8,489.0 333.3,489.0 334.8,489.0 336.3,489.0 337.8,489.0 339.3,489.0 340.8,489.0 342.3,489.0 343.8,489.0 345.3,489.0 346.8,489.0 348.3,489.0 349.8,489.0 351.3,489.0 352.8,489.0 354.3,489.0 355.8,489.0 357.3,489.0 358.8,489.0 360.3,489.0 361.8,489.0 363.3,489.0 364.9,489.0 366.4,489.0 367.9,489.0 369.4,489.0 370.9,489.0 372.4,489.0 373.9,489.0 375.4,489.0 376.9,489.0 378.4,489.0 379.9,489.0 381.4,489.0 382.9,489.0 384.4,489.0 385.9,488.9 387.4,488.9 388.9,488.9 390.4,488.8 391.9,488.7 393.4,488.6 394.9,488.5 396.4,488.3 397.9,488.1 399.5,487.9 401.0,487.6 402.5,487.3 404.0,486.9 405.5,486.5 407.0,486.1 408.5,485.6 410.0,485.1 411.5,484.7 413.0,484.2 414.5,483.8 416.0,483.5 417.5,483.2 419.0,483.0 420.5,482.9 422.0,482.9 423.5,483.0 425.0,483.2 426.5,483.5 428.0,483.8 429.5,484.2 431.0,484.6 432.5,485.1 434.1,485.6 435.6,486.0 437.1,486.5 438.6,486.9 440.1,487.2 441.6,487.6 443.1,487.9 444.6,488.1 446.1,488.3 447.6,488.5 449.1,488.6 450.6,488.7" fill="none" stroke="#cc2628" stroke-width="1.70" stroke-linejoin="round"/>
<polyline points="394.9,488.6 396.4,488.2 397.9,487.8 399.5,487.2 401.0,486.5 402.5,485.8 404.0,485.2 405.5,484.9 407.0,484.9 408.5,485.3 410.0,485.8 411.5,486.5 413.0,487.2 414.5,487.8 416.0,488.3 417.5,488.6" fill="none" stroke="#1e1ec0" stroke-width="1.70" stroke-linejoin="round"/>
<polyline points="243.0,488.9 245.6,488.8 248.3,489.3 250.9,489.2 253.5,488.6 256.1,489.3 258.8,489.8 261.4,489.1 264.0,488.8 266.7,488.3 269.3,489.3 271.9,489.4 274.5,488.9 277.2,489.0 279.8,488.8 282.4,489.2 285.0,488.9 287.7,489.2 290.3,488.5 292.9,488.8 295.6,488.7 298.2,489.2 300.8,489.6 303.4,488.9 306.1,489.0 308.7,488.4 311.3,488.5 314.0,489.0 316.6,489.0 319.2,489.4 321.8,489.0 324.5,488.9 327.1,489.1 329.7,489.4 332.3,488.4 335.0,489.4 337.6,488.2 340.2,488.4 342.9,488.2 345.5,489.3 348.1,488.7 350.7,489.6 353.4,489.1 356.0,489.6 358.6,489.3 361.3,489.2 363.9,488.5 366.5,488.5 369.1,489.1 371.8,489.1 374.4,489.4 377.0,489.5 379.6,489.7 382.3,489.0 384.9,488.6 387.5,489.1 390.2,488.5 392.8,488.9 395.4,488.1 398.0,486.6 400.7,484.1 403.3,482.6 405.9,480.4 408.6,480.6 411.2,481.5 413.8,482.8 416.4,482.6 419.1,483.0 421.7,482.3 424.3,482.8 426.9,484.2 429.6,483.7 432.2,484.7 434.8,487.1 437.5,487.0 440.1,487.1 442.7,488.5 445.3,488.5 448.0,488.2 450.6,488.5" fill="none" stroke="#555555" stroke-width="0.80"/>
<text x="252.3" y="464.7" font-size="9.60" font-family="Liberation Serif" font-weight="bold" fill="#111" stroke="#111" stroke-width="0.25" text-anchor="start" >BL+0.5%TMSB</text>
<path d="M303.2,533.5 L303.2,533.2 304.7,533.2 306.2,533.2 307.7,533.2 309.2,533.1 310.7,533.1 312.2,533.0 313.7,533.0 315.2,532.9 316.7,532.9 318.2,532.9 319.7,532.8 321.2,532.8 322.7,532.7 324.2,532.7 325.7,532.6 327.2,532.6 328.7,532.5 330.3,532.5 331.8,532.4 333.3,532.4 334.8,532.4 336.3,532.4 337.8,532.3 339.3,532.3 340.8,532.3 342.3,532.3 343.8,532.3 345.3,532.3 346.8,532.3 348.3,532.3 349.8,532.4 351.3,532.4 352.8,532.4 354.3,532.5 355.8,532.5 357.3,532.5 358.8,532.6 360.3,532.6 361.8,532.7 363.3,532.7 364.9,532.8 366.4,532.8 367.9,532.9 369.4,532.9 370.9,533.0 372.4,533.0 373.9,533.1 375.4,533.1 376.9,533.1 378.4,533.2 379.9,533.2 381.4,533.2 381.4,533.5 Z" fill="url(#g48)" stroke="none"/>
<path d="M343.8,533.5 L343.8,533.2 345.3,533.2 346.8,533.1 348.3,533.0 349.8,532.9 351.3,532.8 352.8,532.7 354.3,532.6 355.8,532.4 357.3,532.3 358.8,532.1 360.3,531.9 361.8,531.7 363.3,531.4 364.9,531.1 366.4,530.8 367.9,530.5 369.4,530.2 370.9,529.8 372.4,529.4 373.9,528.9 375.4,528.5 376.9,528.0 378.4,527.5 379.9,527.0 381.4,526.5 382.9,525.9 384.4,525.3 385.9,524.8 387.4,524.2 388.9,523.6 390.4,523.1 391.9,522.5 393.4,522.0 394.9,521.5 396.4,521.0 397.9,520.5 399.5,520.1 401.0,519.8 402.5,519.4 404.0,519.2 405.5,518.9 407.0,518.8 408.5,518.7 410.0,518.6 411.5,518.6 413.0,518.7 414.5,518.8 416.0,519.0 417.5,519.2 419.0,519.5 420.5,519.9 422.0,520.2 423.5,520.7 425.0,521.1 426.5,521.6 428.0,522.1 429.5,522.7 431.0,523.2 432.5,523.8 434.1,524.4 435.6,524.9 437.1,525.5 438.6,526.1 440.1,526.6 441.6,527.1 443.1,527.6 444.6,528.1 446.1,528.6 447.6,529.1 449.1,529.5 450.6,529.9 450.6,533.5 Z" fill="url(#g49)" stroke="none"/>
<line x1="243.00" y1="533.50" x2="450.60" y2="533.50" stroke="#3c963c" stroke-width="1.30"/>
<line x1="259.70" y1="533.30" x2="450.70" y2="533.30" stroke="#8a1a3a" stroke-width="1.80"/>
<polyline points="259.5,533.5 261.1,533.5 262.6,533.5 264.1,533.5 265.6,533.5 267.1,533.5 268.6,533.5 270.1,533.5 271.6,533.5 273.1,533.5 274.6,533.5 276.1,533.5 277.6,533.5 279.1,533.5 280.6,533.5 282.1,533.5 283.6,533.5 285.1,533.4 286.6,533.4 288.1,533.4 289.6,533.4 291.1,533.4 292.6,533.4 294.1,533.4 295.7,533.4 297.2,533.3 298.7,533.3 300.2,533.3 301.7,533.3 303.2,533.2 304.7,533.2 306.2,533.2 307.7,533.2 309.2,533.1 310.7,533.1 312.2,533.0 313.7,533.0 315.2,532.9 316.7,532.9 318.2,532.9 319.7,532.8 321.2,532.8 322.7,532.7 324.2,532.7 325.7,532.6 327.2,532.6 328.7,532.5 330.3,532.5 331.8,532.4 333.3,532.4 334.8,532.4 336.3,532.4 337.8,532.3 339.3,532.3 340.8,532.3 342.3,532.3 343.8,532.3 345.3,532.3 346.8,532.3 348.3,532.3 349.8,532.4 351.3,532.4 352.8,532.4 354.3,532.5 355.8,532.5 357.3,532.5 358.8,532.6 360.3,532.6 361.8,532.7 363.3,532.7 364.9,532.8 366.4,532.8 367.9,532.9 369.4,532.9" fill="none" stroke="#1e1ec0" stroke-width="1.70" stroke-linejoin="round"/>
<polyline points="259.5,533.5 261.1,533.5 262.6,533.5 264.1,533.5 265.6,533.5 267.1,533.5 268.6,533.5 270.1,533.5 271.6,533.5 273.1,533.5 274.6,533.5 276.1,533.5 277.6,533.5 279.1,533.5 280.6,533.5 282.1,533.5 283.6,533.5 285.1,533.5 286.6,533.5 288.1,533.5 289.6,533.5 291.1,533.5 292.6,533.5 294.1,533.5 295.7,533.5 297.2,533.5 298.7,533.5 300.2,533.5 301.7,533.5 303.2,533.5 304.7,533.5 306.2,533.5 307.7,533.5 309.2,533.5 310.7,533.5 312.2,533.5 313.7,533.5 315.2,533.5 316.7,533.5 318.2,533.5 319.7,533.5 321.2,533.5 322.7,533.5 324.2,533.5 325.7,533.5 327.2,533.5 328.7,533.5 330.3,533.4 331.8,533.4 333.3,533.4 334.8,533.4 336.3,533.4 337.8,533.4 339.3,533.3 340.8,533.3 342.3,533.3 343.8,533.2 345.3,533.2 346.8,533.1 348.3,533.0 349.8,532.9 351.3,532.8 352.8,532.7 354.3,532.6 355.8,532.4 357.3,532.3 358.8,532.1 360.3,531.9 361.8,531.7 363.3,531.4 364.9,531.1 366.4,530.8 367.9,530.5 369.4,530.2 370.9,529.8 372.4,529.4 373.9,528.9 375.4,528.5 376.9,528.0 378.4,527.5 379.9,527.0 381.4,526.5 382.9,525.9 384.4,525.3 385.9,524.8 387.4,524.2 388.9,523.6 390.4,523.1 391.9,522.5 393.4,522.0 394.9,521.5 396.4,521.0 397.9,520.5 399.5,520.1 401.0,519.8 402.5,519.4 404.0,519.2 405.5,518.9 407.0,518.8 408.5,518.7 410.0,518.6 411.5,518.6 413.0,518.7 414.5,518.8 416.0,519.0 417.5,519.2 419.0,519.5 420.5,519.9 422.0,520.2 423.5,520.7 425.0,521.1 426.5,521.6 428.0,522.1 429.5,522.7 431.0,523.2 432.5,523.8 434.1,524.4 435.6,524.9 437.1,525.5 438.6,526.1 440.1,526.6 441.6,527.1 443.1,527.6 444.6,528.1 446.1,528.6 447.6,529.1 449.1,529.5 450.6,529.9" fill="none" stroke="#cc2628" stroke-width="1.70" stroke-linejoin="round"/>
<polyline points="243.0,533.3 245.6,533.2 248.3,533.9 250.9,532.4 253.5,533.2 256.1,532.5 258.8,533.6 261.4,533.2 264.0,533.3 266.7,533.5 269.3,533.3 271.9,533.3 274.5,533.1 277.2,533.3 279.8,533.4 282.4,533.2 285.0,532.8 287.7,533.4 290.3,533.1 292.9,533.3 295.6,534.2 298.2,533.7 300.8,533.7 303.4,533.8 306.1,533.4 308.7,533.9 311.3,532.9 314.0,533.2 316.6,532.3 319.2,532.6 321.8,533.3 324.5,532.7 327.1,532.5 329.7,532.7 332.3,532.5 335.0,532.7 337.6,532.5 340.2,532.0 342.9,532.2 345.5,531.4 348.1,532.8 350.7,532.1 353.4,531.7 356.0,530.7 358.6,530.7 361.3,530.5 363.9,530.1 366.5,529.4 369.1,529.3 371.8,529.1 374.4,528.3 377.0,527.9 379.6,526.8 382.3,525.7 384.9,525.1 387.5,523.9 390.2,523.2 392.8,522.7 395.4,521.9 398.0,520.1 400.7,519.7 403.3,518.8 405.9,518.9 408.6,518.6 411.2,518.4 413.8,518.8 416.4,518.4 419.1,519.0 421.7,519.9 424.3,521.3 426.9,522.0 429.6,522.6 432.2,523.1 434.8,524.6 437.5,525.6 440.1,526.3 442.7,527.4 445.3,528.4 448.0,529.7 450.6,529.3" fill="none" stroke="#555555" stroke-width="0.80"/>
<text x="253.0" y="506.4" font-size="9.60" font-family="Liberation Serif" font-weight="bold" fill="#111" stroke="#111" stroke-width="0.25" text-anchor="start" >BL+0.5%TTSP</text>
<path d="M301.7,575.9 L301.7,575.6 303.2,575.6 304.7,575.5 306.2,575.5 307.7,575.4 309.2,575.3 310.7,575.2 312.2,575.1 313.7,575.0 315.2,574.9 316.7,574.8 318.2,574.6 319.7,574.5 321.2,574.4 322.7,574.2 324.2,574.1 325.7,573.9 327.2,573.8 328.7,573.7 330.3,573.5 331.8,573.4 333.3,573.3 334.8,573.3 336.3,573.2 337.8,573.1 339.3,573.1 340.8,573.1 342.3,573.1 343.8,573.1 345.3,573.2 346.8,573.3 348.3,573.4 349.8,573.5 351.3,573.6 352.8,573.7 354.3,573.8 355.8,574.0 357.3,574.1 358.8,574.3 360.3,574.4 361.8,574.5 363.3,574.7 364.9,574.8 366.4,574.9 367.9,575.0 369.4,575.1 370.9,575.2 372.4,575.3 373.9,575.4 375.4,575.5 376.9,575.5 378.4,575.6 379.9,575.6 379.9,575.9 Z" fill="url(#g50)" stroke="none"/>
<path d="M354.3,575.9 L354.3,575.6 355.8,575.6 357.3,575.5 358.8,575.5 360.3,575.4 361.8,575.3 363.3,575.2 364.9,575.1 366.4,575.0 367.9,574.9 369.4,574.7 370.9,574.6 372.4,574.4 373.9,574.3 375.4,574.1 376.9,573.9 378.4,573.6 379.9,573.4 381.4,573.2 382.9,572.9 384.4,572.6 385.9,572.4 387.4,572.1 388.9,571.8 390.4,571.5 391.9,571.2 393.4,570.9 394.9,570.7 396.4,570.4 397.9,570.1 399.5,569.9 401.0,569.7 402.5,569.5 404.0,569.3 405.5,569.1 407.0,569.0 408.5,568.9 410.0,568.8 411.5,568.7 413.0,568.7 414.5,568.7 416.0,568.8 417.5,568.8 419.0,568.9 420.5,569.1 422.0,569.2 423.5,569.4 425.0,569.6 426.5,569.8 428.0,570.1 429.5,570.3 431.0,570.6 432.5,570.9 434.1,571.1 435.6,571.4 437.1,571.7 438.6,572.0 440.1,572.3 441.6,572.5 443.1,572.8 444.6,573.1 446.1,573.3 447.6,573.6 449.1,573.8 450.6,574.0 450.6,575.9 Z" fill="url(#g51)" stroke="none"/>
<line x1="243.00" y1="575.90" x2="450.60" y2="575.90" stroke="#3c963c" stroke-width="1.30"/>
<line x1="251.00" y1="575.70" x2="450.70" y2="575.70" stroke="#142f7c" stroke-width="1.80"/>
<polyline points="252.0,575.9 253.5,575.9 255.0,575.9 256.5,575.9 258.0,575.9 259.5,575.9 261.1,575.9 262.6,575.9 264.1,575.9 265.6,575.9 267.1,575.9 268.6,575.9 270.1,575.9 271.6,575.9 273.1,575.9 274.6,575.9 276.1,575.9 277.6,575.9 279.1,575.9 280.6,575.9 282.1,575.9 283.6,575.9 285.1,575.9 286.6,575.8 288.1,575.8 289.6,575.8 291.1,575.8 292.6,575.8 294.1,575.8 295.7,575.8 297.2,575.7 298.7,575.7 300.2,575.7 301.7,575.6 303.2,575.6 304.7,575.5 306.2,575.5 307.7,575.4 309.2,575.3 310.7,575.2 312.2,575.1 313.7,575.0 315.2,574.9 316.7,574.8 318.2,574.6 319.7,574.5 321.2,574.4 322.7,574.2 324.2,574.1 325.7,573.9 327.2,573.8 328.7,573.7 330.3,573.5 331.8,573.4 333.3,573.3 334.8,573.3 336.3,573.2 337.8,573.1 339.3,573.1 340.8,573.1 342.3,573.1 343.8,573.1 345.3,573.2 346.8,573.3 348.3,573.4 349.8,573.5 351.3,573.6 352.8,573.7 354.3,573.8 355.8,574.0 357.3,574.1 358.8,574.3 360.3,574.4 361.8,574.5 363.3,574.7 364.9,574.8 366.4,574.9 367.9,575.0 369.4,575.1 370.9,575.2 372.4,575.3 373.9,575.4 375.4,575.5 376.9,575.5 378.4,575.6 379.9,575.6" fill="none" stroke="#1e1ec0" stroke-width="1.70" stroke-linejoin="round"/>
<polyline points="357.3,575.5 358.8,575.5 360.3,575.4 361.8,575.3 363.3,575.2 364.9,575.1 366.4,575.0 367.9,574.9 369.4,574.7 370.9,574.6 372.4,574.4 373.9,574.3 375.4,574.1 376.9,573.9 378.4,573.6 379.9,573.4 381.4,573.2 382.9,572.9 384.4,572.6 385.9,572.4 387.4,572.1 388.9,571.8 390.4,571.5 391.9,571.2 393.4,570.9 394.9,570.7 396.4,570.4 397.9,570.1 399.5,569.9 401.0,569.7 402.5,569.5 404.0,569.3 405.5,569.1 407.0,569.0 408.5,568.9 410.0,568.8 411.5,568.7 413.0,568.7 414.5,568.7 416.0,568.8 417.5,568.8 419.0,568.9 420.5,569.1 422.0,569.2 423.5,569.4 425.0,569.6 426.5,569.8 428.0,570.1 429.5,570.3 431.0,570.6 432.5,570.9 434.1,571.1 435.6,571.4 437.1,571.7 438.6,572.0 440.1,572.3 441.6,572.5 443.1,572.8 444.6,573.1 446.1,573.3 447.6,573.6 449.1,573.8 450.6,574.0" fill="none" stroke="#cc2628" stroke-width="1.70" stroke-linejoin="round"/>
<polyline points="243.0,575.9 245.6,576.1 248.3,575.9 250.9,576.5 253.5,576.6 256.1,576.7 258.8,575.7 261.4,576.5 264.0,575.8 266.7,576.4 269.3,576.7 271.9,576.1 274.5,576.2 277.2,576.2 279.8,575.1 282.4,575.8 285.0,576.1 287.7,575.4 290.3,576.0 292.9,575.2 295.6,576.5 298.2,575.2 300.8,576.1 303.4,575.9 306.1,575.4 308.7,575.8 311.3,575.9 314.0,575.2 316.6,574.9 319.2,575.3 321.8,573.9 324.5,574.4 327.1,574.1 329.7,573.7 332.3,573.4 335.0,572.7 337.6,574.1 340.2,573.0 342.9,572.7 345.5,573.0 348.1,573.3 350.7,573.9 353.4,573.4 356.0,573.9 358.6,573.8 361.3,574.4 363.9,574.2 366.5,574.1 369.1,574.7 371.8,573.4 374.4,573.8 377.0,574.1 379.6,573.3 382.3,572.7 384.9,572.5 387.5,572.4 390.2,571.6 392.8,571.6 395.4,571.3 398.0,569.6 400.7,568.9 403.3,568.5 405.9,568.0 408.6,568.2 411.2,569.1 413.8,568.9 416.4,568.3 419.1,569.1 421.7,569.3 424.3,569.5 426.9,569.7 429.6,570.9 432.2,570.8 434.8,571.1 437.5,572.7 440.1,571.8 442.7,572.4 445.3,573.6 448.0,572.8 450.6,573.8" fill="none" stroke="#555555" stroke-width="0.80"/>
<text x="253.0" y="550.5" font-size="9.60" font-family="Liberation Serif" font-weight="bold" fill="#111" stroke="#111" stroke-width="0.25" text-anchor="start" >BL+0.5%MMDS</text>
<line x1="338.50" y1="352.00" x2="338.50" y2="582.00" stroke="#777" stroke-width="0.90" stroke-dasharray="1.2,1.6"/>
<line x1="411.16" y1="352.00" x2="411.16" y2="582.00" stroke="#777" stroke-width="0.90" stroke-dasharray="1.2,1.6"/>
<text x="331.7" y="350.5" font-size="7.20" font-family="Liberation Serif" font-weight="bold" fill="#111" stroke="#111" stroke-width="0.25" text-anchor="start" >LiPF<tspan font-size="6.5" dy="1" font-style="italic">x</tspan></text>
<text x="403.6" y="348.0" font-size="7.20" font-family="Liberation Serif" font-weight="bold" fill="#111" stroke="#111" stroke-width="0.25" text-anchor="start" >LiPO<tspan font-size="6" dy="1.2" font-style="italic">y</tspan><tspan dy="-1.2">F</tspan><tspan font-size="6" dy="1.2" font-style="italic">z</tspan></text>
<rect x="243.00" y="318.00" width="207.60" height="265.50" fill="none" stroke="#4a4a4a" stroke-width="1.50"/>
<line x1="243.00" y1="583.50" x2="243.00" y2="585.50" stroke="#111" stroke-width="1"/>
<line x1="284.52" y1="583.50" x2="284.52" y2="585.50" stroke="#111" stroke-width="1"/>
<line x1="326.04" y1="583.50" x2="326.04" y2="585.50" stroke="#111" stroke-width="1"/>
<line x1="367.56" y1="583.50" x2="367.56" y2="585.50" stroke="#111" stroke-width="1"/>
<line x1="409.08" y1="583.50" x2="409.08" y2="585.50" stroke="#111" stroke-width="1"/>
<line x1="450.60" y1="583.50" x2="450.60" y2="585.50" stroke="#111" stroke-width="1"/>
<line x1="263.76" y1="583.50" x2="263.76" y2="584.70" stroke="#111" stroke-width="0.8"/>
<line x1="305.28" y1="583.50" x2="305.28" y2="584.70" stroke="#111" stroke-width="0.8"/>
<line x1="346.80" y1="583.50" x2="346.80" y2="584.70" stroke="#111" stroke-width="0.8"/>
<line x1="388.32" y1="583.50" x2="388.32" y2="584.70" stroke="#111" stroke-width="0.8"/>
<line x1="429.84" y1="583.50" x2="429.84" y2="584.70" stroke="#111" stroke-width="0.8"/>
<text x="243.0" y="594.5" font-size="8.70" font-family="Liberation Serif" font-weight="bold" fill="#111" stroke="#111" stroke-width="0.25" text-anchor="middle" >142</text>
<text x="284.5" y="594.5" font-size="8.70" font-family="Liberation Serif" font-weight="bold" fill="#111" stroke="#111" stroke-width="0.25" text-anchor="middle" >140</text>
<text x="326.0" y="594.5" font-size="8.70" font-family="Liberation Serif" font-weight="bold" fill="#111" stroke="#111" stroke-width="0.25" text-anchor="middle" >138</text>
<text x="367.6" y="594.5" font-size="8.70" font-family="Liberation Serif" font-weight="bold" fill="#111" stroke="#111" stroke-width="0.25" text-anchor="middle" >136</text>
<text x="409.1" y="594.5" font-size="8.70" font-family="Liberation Serif" font-weight="bold" fill="#111" stroke="#111" stroke-width="0.25" text-anchor="middle" >134</text>
<text x="450.6" y="594.5" font-size="8.70" font-family="Liberation Serif" font-weight="bold" fill="#111" stroke="#111" stroke-width="0.25" text-anchor="middle" >132</text>
<text x="245.9" y="333.7" font-size="14.20" font-family="Liberation Serif" font-weight="bold" fill="#111" stroke="#111" stroke-width="0.25" text-anchor="start" >P 2p</text>
<text x="349.0" y="607.0" font-size="12.10" font-family="Liberation Serif" font-weight="bold" fill="#111" stroke="#111" stroke-width="0.25" text-anchor="middle" >Binding Energy / eV</text>
<path d="M508.4,362.9 L508.4,362.6 509.9,362.6 511.4,362.5 512.9,362.5 514.4,362.4 515.9,362.3 517.4,362.2 519.0,362.1 520.5,362.0 522.0,361.9 523.5,361.8 525.0,361.6 526.5,361.4 528.0,361.2 529.5,361.0 531.0,360.8 532.5,360.5 534.0,360.2 535.6,359.9 537.1,359.6 538.6,359.3 540.1,358.9 541.6,358.5 543.1,358.1 544.6,357.7 546.1,357.3 547.6,356.9 549.1,356.4 550.6,356.0 552.2,355.5 553.7,355.1 555.2,354.6 556.7,354.2 558.2,353.8 559.7,353.4 561.2,353.0 562.7,352.6 564.2,352.3 565.7,352.0 567.2,351.8 568.8,351.6 570.3,351.5 571.8,351.4 573.3,351.3 574.8,351.3 576.3,351.4 577.8,351.5 579.3,351.6 580.8,351.8 582.3,352.0 583.9,352.3 585.4,352.6 586.9,353.0 588.4,353.3 589.9,353.7 591.4,354.1 592.9,354.6 594.4,355.0 595.9,355.5 597.4,355.9 598.9,356.4 600.5,356.8 602.0,357.3 603.5,357.7 605.0,358.1 606.5,358.5 608.0,358.9 609.5,359.3 611.0,359.6 612.5,359.9 614.0,360.2 615.5,360.5 617.1,360.8 618.6,361.0 620.1,361.2 621.6,361.4 623.1,361.6 624.6,361.7 626.1,361.9 627.6,362.0 629.1,362.1 630.6,362.2 632.1,362.3 633.7,362.4 635.2,362.5 636.7,362.5 638.2,362.6 639.7,362.6 639.7,362.9 Z" fill="url(#g52)" stroke="none"/>
<polyline points="476.7,362.9 478.2,362.9 479.7,362.9 481.2,362.9 482.7,362.8 484.2,362.8 485.8,362.8 487.3,362.8 488.8,362.8 490.3,362.8 491.8,362.8 493.3,362.8 494.8,362.8 496.3,362.8 497.8,362.8 499.3,362.8 500.8,362.8 502.4,362.7 503.9,362.7 505.4,362.7 506.9,362.7 508.4,362.6 509.9,362.6 511.4,362.5 512.9,362.5 514.4,362.4 515.9,362.3 517.4,362.2 519.0,362.1 520.5,362.0 522.0,361.9 523.5,361.8 525.0,361.6 526.5,361.4 528.0,361.2 529.5,361.0 531.0,360.8 532.5,360.5 534.0,360.2 535.6,359.9 537.1,359.6 538.6,359.3 540.1,358.9 541.6,358.5 543.1,358.1 544.6,357.7 546.1,357.3 547.6,356.9 549.1,356.4 550.6,356.0 552.2,355.5 553.7,355.1 555.2,354.6 556.7,354.2 558.2,353.8 559.7,353.4 561.2,353.0 562.7,352.6 564.2,352.3 565.7,352.0 567.2,351.8 568.8,351.6 570.3,351.5 571.8,351.4 573.3,351.3 574.8,351.3 576.3,351.4 577.8,351.5 579.3,351.6 580.8,351.8 582.3,352.0 583.9,352.3 585.4,352.6 586.9,353.0 588.4,353.3 589.9,353.7 591.4,354.1 592.9,354.6 594.4,355.0 595.9,355.5 597.4,355.9 598.9,356.4 600.5,356.8 602.0,357.3 603.5,357.7 605.0,358.1 606.5,358.5 608.0,358.9 609.5,359.3 611.0,359.6 612.5,359.9 614.0,360.2 615.5,360.5 617.1,360.8 618.6,361.0 620.1,361.2 621.6,361.4 623.1,361.6 624.6,361.7 626.1,361.9 627.6,362.0 629.1,362.1 630.6,362.2 632.1,362.3 633.7,362.4 635.2,362.5 636.7,362.5 638.2,362.6 639.7,362.6 641.2,362.7 642.7,362.7 644.2,362.7 645.7,362.7 647.2,362.8 648.7,362.8 650.3,362.8 651.8,362.8 653.3,362.8 654.8,362.8 656.3,362.8 657.8,362.8 659.3,362.8 660.8,362.8 662.3,362.8 663.8,362.8 665.3,362.8 666.9,362.9 668.4,362.9 669.9,362.9 671.4,362.9 672.9,362.9 674.4,362.9 675.9,362.9 677.4,362.9" fill="none" stroke="#cc2628" stroke-width="1.70" stroke-linejoin="round"/>
<polyline points="476.7,367.0 479.2,363.4 481.7,361.0 484.3,363.3 486.8,362.5 489.3,366.4 491.8,363.4 494.3,363.7 496.9,360.6 499.4,362.4 501.9,362.8 504.4,364.4 507.0,364.7 509.5,362.6 512.0,359.3 514.5,366.9 517.0,369.0 519.6,357.3 522.1,358.0 524.6,360.0 527.1,360.4 529.6,361.9 532.2,361.4 534.7,362.9 537.2,358.1 539.7,359.4 542.3,363.0 544.8,358.8 547.3,358.2 549.8,357.7 552.3,350.7 554.9,352.0 557.4,361.5 559.9,352.0 562.4,350.0 564.9,348.8 567.5,349.7 570.0,356.1 572.5,349.0 575.0,350.9 577.5,347.6 580.1,350.2 582.6,355.3 585.1,347.4 587.6,355.0 590.2,349.4 592.7,350.8 595.2,352.7 597.7,356.3 600.2,352.9 602.8,353.8 605.3,353.6 607.8,355.6 610.3,353.0 612.8,357.4 615.4,356.7 617.9,363.1 620.4,361.9 622.9,359.0 625.4,359.2 628.0,360.2 630.5,363.1 633.0,364.7 635.5,358.0 638.1,364.1 640.6,363.4 643.1,358.8 645.6,362.4 648.1,364.2 650.7,360.6 653.2,363.2 655.7,359.6 658.2,363.1 660.7,364.8 663.3,356.8 665.8,359.7 668.3,362.4 670.8,363.1 673.4,366.1 675.9,364.2 678.4,365.9 680.9,360.7 683.4,359.9 686.0,363.6 688.5,364.0 691.0,361.9" fill="none" stroke="#5a5a5a" stroke-width="1.00"/>
<line x1="476.70" y1="362.40" x2="691.00" y2="362.40" stroke="#3c963c" stroke-width="1.10"/>
<text x="487.2" y="348.1" font-size="10.10" font-family="Liberation Serif" font-weight="bold" fill="#111" stroke="#111" stroke-width="0.25" text-anchor="start" >Pristine</text>
<path d="M484.2,391.7 L484.2,391.4 485.8,391.4 487.3,391.4 488.8,391.4 490.3,391.4 491.8,391.4 493.3,391.4 494.8,391.4 496.3,391.4 497.8,391.3 499.3,391.3 500.8,391.3 502.4,391.3 503.9,391.3 505.4,391.3 506.9,391.3 508.4,391.3 509.9,391.3 511.4,391.2 512.9,391.2 514.4,391.2 515.9,391.2 517.4,391.2 519.0,391.2 520.5,391.2 522.0,391.1 523.5,391.1 525.0,391.1 526.5,391.1 528.0,391.1 529.5,391.1 531.0,391.1 532.5,391.0 534.0,391.0 535.6,391.0 537.1,391.0 538.6,391.0 540.1,391.0 541.6,391.0 543.1,391.0 544.6,390.9 546.1,390.9 547.6,390.9 549.1,390.9 550.6,390.9 552.2,390.9 553.7,390.9 555.2,390.9 556.7,390.8 558.2,390.8 559.7,390.8 561.2,390.8 562.7,390.8 564.2,390.8 565.7,390.8 567.2,390.8 568.8,390.8 570.3,390.8 571.8,390.8 573.3,390.7 574.8,390.7 576.3,390.7 577.8,390.7 579.3,390.7 580.8,390.7 582.3,390.7 583.9,390.7 585.4,390.7 586.9,390.7 588.4,390.7 589.9,390.7 591.4,390.7 592.9,390.7 594.4,390.7 595.9,390.7 597.4,390.7 598.9,390.7 600.5,390.7 602.0,390.7 603.5,390.7 605.0,390.7 606.5,390.7 608.0,390.7 609.5,390.7 611.0,390.7 612.5,390.7 614.0,390.7 615.5,390.8 617.1,390.8 618.6,390.8 620.1,390.8 621.6,390.8 623.1,390.8 624.6,390.8 626.1,390.8 627.6,390.8 629.1,390.8 630.6,390.8 632.1,390.9 633.7,390.9 635.2,390.9 636.7,390.9 638.2,390.9 639.7,390.9 641.2,390.9 642.7,390.9 644.2,391.0 645.7,391.0 647.2,391.0 648.7,391.0 650.3,391.0 651.8,391.0 653.3,391.0 654.8,391.0 656.3,391.1 657.8,391.1 659.3,391.1 660.8,391.1 662.3,391.1 663.8,391.1 665.3,391.1 666.9,391.2 668.4,391.2 669.9,391.2 671.4,391.2 672.9,391.2 674.4,391.2 675.9,391.2 677.4,391.3 678.9,391.3 680.4,391.3 681.9,391.3 683.5,391.3 685.0,391.3 686.5,391.3 688.0,391.3 689.5,391.3 691.0,391.4 691.0,391.7 Z" fill="url(#g53)" stroke="none"/>
<polyline points="490.3,391.4 491.8,391.4 493.3,391.4 494.8,391.4 496.3,391.4 497.8,391.3 499.3,391.3 500.8,391.3 502.4,391.3 503.9,391.3 505.4,391.3 506.9,391.3 508.4,391.3 509.9,391.3 511.4,391.2 512.9,391.2 514.4,391.2 515.9,391.2 517.4,391.2 519.0,391.2 520.5,391.2 522.0,391.1 523.5,391.1 525.0,391.1 526.5,391.1 528.0,391.1 529.5,391.1 531.0,391.1 532.5,391.0 534.0,391.0 535.6,391.0 537.1,391.0 538.6,391.0 540.1,391.0 541.6,391.0 543.1,391.0 544.6,390.9 546.1,390.9 547.6,390.9 549.1,390.9 550.6,390.9 552.2,390.9 553.7,390.9 555.2,390.9 556.7,390.8 558.2,390.8 559.7,390.8 561.2,390.8 562.7,390.8 564.2,390.8 565.7,390.8 567.2,390.8 568.8,390.8 570.3,390.8 571.8,390.8 573.3,390.7 574.8,390.7 576.3,390.7 577.8,390.7 579.3,390.7 580.8,390.7 582.3,390.7 583.9,390.7 585.4,390.7 586.9,390.7 588.4,390.7 589.9,390.7 591.4,390.7 592.9,390.7 594.4,390.7 595.9,390.7 597.4,390.7 598.9,390.7 600.5,390.7 602.0,390.7 603.5,390.7 605.0,390.7 606.5,390.7 608.0,390.7 609.5,390.7 611.0,390.7 612.5,390.7 614.0,390.7 615.5,390.8 617.1,390.8 618.6,390.8 620.1,390.8 621.6,390.8 623.1,390.8 624.6,390.8 626.1,390.8 627.6,390.8 629.1,390.8 630.6,390.8 632.1,390.9 633.7,390.9 635.2,390.9 636.7,390.9 638.2,390.9 639.7,390.9 641.2,390.9 642.7,390.9 644.2,391.0 645.7,391.0 647.2,391.0 648.7,391.0 650.3,391.0 651.8,391.0 653.3,391.0 654.8,391.0 656.3,391.1 657.8,391.1 659.3,391.1 660.8,391.1 662.3,391.1 663.8,391.1 665.3,391.1 666.9,391.2 668.4,391.2 669.9,391.2 671.4,391.2 672.9,391.2 674.4,391.2 675.9,391.2 677.4,391.3 678.9,391.3 680.4,391.3 681.9,391.3 683.5,391.3" fill="none" stroke="#cc2628" stroke-width="1.70" stroke-linejoin="round"/>
<polyline points="476.7,391.5 479.2,390.2 481.7,390.2 484.3,390.4 486.8,389.9 489.3,393.8 491.8,389.6 494.3,396.2 496.9,391.1 499.4,392.0 501.9,390.4 504.4,391.8 507.0,390.7 509.5,395.6 512.0,392.5 514.5,393.2 517.0,390.3 519.6,390.7 522.1,392.3 524.6,392.4 527.1,392.9 529.6,391.4 532.2,390.1 534.7,389.4 537.2,391.4 539.7,393.6 542.3,393.0 544.8,389.3 547.3,393.5 549.8,391.8 552.3,396.5 554.9,388.8 557.4,390.8 559.9,392.5 562.4,391.4 564.9,389.4 567.5,391.1 570.0,390.3 572.5,390.9 575.0,393.7 577.5,395.0 580.1,388.4 582.6,392.1 585.1,388.0 587.6,388.1 590.2,392.0 592.7,392.4 595.2,392.1 597.7,386.8 600.2,390.8 602.8,391.4 605.3,388.7 607.8,393.1 610.3,392.2 612.8,392.2 615.4,391.0 617.9,394.0 620.4,392.4 622.9,390.6 625.4,393.3 628.0,393.4 630.5,389.9 633.0,393.4 635.5,391.5 638.1,389.1 640.6,390.8 643.1,386.7 645.6,391.3 648.1,394.7 650.7,390.2 653.2,390.6 655.7,389.3 658.2,394.6 660.7,391.5 663.3,388.6 665.8,390.7 668.3,388.5 670.8,393.0 673.4,390.2 675.9,391.3 678.4,387.6 680.9,393.7 683.4,388.5 686.0,390.9 688.5,391.2 691.0,393.0" fill="none" stroke="#5a5a5a" stroke-width="1.00"/>
<line x1="476.70" y1="391.20" x2="691.00" y2="391.20" stroke="#3c963c" stroke-width="1.10"/>
<text x="486.5" y="381.4" font-size="10.10" font-family="Liberation Serif" font-weight="bold" fill="#111" stroke="#111" stroke-width="0.25" text-anchor="start" >BL+1.5%DTD</text>
<polyline points="476.7,431.5 479.2,432.4 481.7,428.1 484.3,431.1 486.8,426.1 489.3,427.8 491.8,427.7 494.3,426.2 496.9,429.1 499.4,426.7 501.9,432.9 504.4,430.0 507.0,426.5 509.5,429.2 512.0,425.0 514.5,428.6 517.0,430.9 519.6,425.5 522.1,428.5 524.6,429.3 527.1,429.0 529.6,430.7 532.2,429.7 534.7,426.9 537.2,430.5 539.7,429.2 542.3,430.7 544.8,428.7 547.3,427.6 549.8,427.6 552.3,429.6 554.9,430.6 557.4,428.1 559.9,426.7 562.4,427.3 564.9,422.3 567.5,428.5 570.0,430.1 572.5,429.5 575.0,426.4 577.5,431.0 580.1,429.2 582.6,432.6 585.1,429.4 587.6,427.1 590.2,426.4 592.7,427.3 595.2,426.4 597.7,430.5 600.2,425.0 602.8,424.6 605.3,432.7 607.8,431.5 610.3,427.0 612.8,427.0 615.4,425.6 617.9,428.4 620.4,431.2 622.9,430.5 625.4,425.3 628.0,428.8 630.5,432.9 633.0,429.2 635.5,427.1 638.1,428.8 640.6,427.3 643.1,427.6 645.6,428.7 648.1,431.2 650.7,428.7 653.2,427.1 655.7,430.2 658.2,426.2 660.7,424.1 663.3,426.9 665.8,427.9 668.3,428.6 670.8,430.8 673.4,425.1 675.9,429.7 678.4,430.4 680.9,424.5 683.4,426.4 686.0,430.1 688.5,428.1 691.0,428.0" fill="none" stroke="#5a5a5a" stroke-width="1.00"/>
<line x1="476.70" y1="428.30" x2="691.00" y2="428.30" stroke="#3c963c" stroke-width="1.10"/>
<text x="486.5" y="411.6" font-size="10.10" font-family="Liberation Serif" font-weight="bold" fill="#111" stroke="#111" stroke-width="0.25" text-anchor="start" >BL+1%DTD+0.5%PES</text>
<path d="M549.1,473.4 L549.1,473.1 550.6,473.1 552.2,473.1 553.7,473.1 555.2,473.1 556.7,473.0 558.2,473.0 559.7,473.0 561.2,473.0 562.7,472.9 564.2,472.9 565.7,472.9 567.2,472.9 568.8,472.8 570.3,472.8 571.8,472.8 573.3,472.8 574.8,472.7 576.3,472.7 577.8,472.7 579.3,472.7 580.8,472.6 582.3,472.6 583.9,472.6 585.4,472.5 586.9,472.5 588.4,472.5 589.9,472.5 591.4,472.4 592.9,472.4 594.4,472.4 595.9,472.3 597.4,472.3 598.9,472.3 600.5,472.3 602.0,472.3 603.5,472.2 605.0,472.2 606.5,472.2 608.0,472.2 609.5,472.2 611.0,472.2 612.5,472.1 614.0,472.1 615.5,472.1 617.1,472.1 618.6,472.1 620.1,472.1 621.6,472.1 623.1,472.1 624.6,472.1 626.1,472.1 627.6,472.1 629.1,472.1 630.6,472.1 632.1,472.1 633.7,472.1 635.2,472.2 636.7,472.2 638.2,472.2 639.7,472.2 641.2,472.2 642.7,472.2 644.2,472.3 645.7,472.3 647.2,472.3 648.7,472.3 650.3,472.4 651.8,472.4 653.3,472.4 654.8,472.4 656.3,472.5 657.8,472.5 659.3,472.5 660.8,472.5 662.3,472.6 663.8,472.6 665.3,472.6 666.9,472.7 668.4,472.7 669.9,472.7 671.4,472.7 672.9,472.8 674.4,472.8 675.9,472.8 677.4,472.9 678.9,472.9 680.4,472.9 681.9,472.9 683.5,473.0 685.0,473.0 686.5,473.0 688.0,473.0 689.5,473.0 691.0,473.1 691.0,473.4 Z" fill="url(#g54)" stroke="none"/>
<polyline points="523.5,473.3 525.0,473.3 526.5,473.3 528.0,473.3 529.5,473.3 531.0,473.3 532.5,473.3 534.0,473.3 535.6,473.3 537.1,473.2 538.6,473.2 540.1,473.2 541.6,473.2 543.1,473.2 544.6,473.2 546.1,473.2 547.6,473.2 549.1,473.1 550.6,473.1 552.2,473.1 553.7,473.1 555.2,473.1 556.7,473.0 558.2,473.0 559.7,473.0 561.2,473.0 562.7,472.9 564.2,472.9 565.7,472.9 567.2,472.9 568.8,472.8 570.3,472.8 571.8,472.8 573.3,472.8 574.8,472.7 576.3,472.7 577.8,472.7 579.3,472.7 580.8,472.6 582.3,472.6 583.9,472.6 585.4,472.5 586.9,472.5 588.4,472.5 589.9,472.5 591.4,472.4 592.9,472.4 594.4,472.4 595.9,472.3 597.4,472.3 598.9,472.3 600.5,472.3 602.0,472.3 603.5,472.2 605.0,472.2 606.5,472.2 608.0,472.2 609.5,472.2 611.0,472.2 612.5,472.1 614.0,472.1 615.5,472.1 617.1,472.1 618.6,472.1 620.1,472.1 621.6,472.1 623.1,472.1 624.6,472.1 626.1,472.1 627.6,472.1 629.1,472.1 630.6,472.1 632.1,472.1 633.7,472.1 635.2,472.2 636.7,472.2 638.2,472.2 639.7,472.2 641.2,472.2 642.7,472.2 644.2,472.3 645.7,472.3 647.2,472.3 648.7,472.3 650.3,472.4 651.8,472.4 653.3,472.4 654.8,472.4 656.3,472.5 657.8,472.5 659.3,472.5 660.8,472.5 662.3,472.6 663.8,472.6 665.3,472.6 666.9,472.7 668.4,472.7 669.9,472.7 671.4,472.7 672.9,472.8 674.4,472.8 675.9,472.8 677.4,472.9 678.9,472.9 680.4,472.9 681.9,472.9 683.5,473.0 685.0,473.0 686.5,473.0 688.0,473.0 689.5,473.0 691.0,473.1" fill="none" stroke="#cc2628" stroke-width="1.70" stroke-linejoin="round"/>
<polyline points="476.7,471.4 479.2,477.8 481.7,475.6 484.3,476.7 486.8,472.9 489.3,475.0 491.8,472.3 494.3,468.9 496.9,472.1 499.4,475.5 501.9,473.5 504.4,472.5 507.0,477.5 509.5,470.5 512.0,472.8 514.5,471.4 517.0,470.4 519.6,472.7 522.1,470.1 524.6,472.1 527.1,475.7 529.6,473.2 532.2,473.4 534.7,471.3 537.2,469.0 539.7,476.6 542.3,473.2 544.8,474.8 547.3,472.6 549.8,471.0 552.3,469.2 554.9,476.9 557.4,472.6 559.9,469.8 562.4,474.8 564.9,471.2 567.5,471.7 570.0,469.3 572.5,471.7 575.0,478.1 577.5,475.2 580.1,472.4 582.6,473.3 585.1,473.5 587.6,469.7 590.2,475.2 592.7,472.1 595.2,470.1 597.7,476.8 600.2,471.9 602.8,472.8 605.3,473.8 607.8,467.1 610.3,473.8 612.8,470.5 615.4,474.2 617.9,474.4 620.4,471.7 622.9,469.5 625.4,472.5 628.0,470.7 630.5,472.5 633.0,469.6 635.5,471.7 638.1,471.6 640.6,470.5 643.1,471.1 645.6,472.0 648.1,473.2 650.7,472.0 653.2,473.3 655.7,469.4 658.2,472.6 660.7,470.6 663.3,473.9 665.8,471.4 668.3,476.4 670.8,474.3 673.4,470.0 675.9,472.3 678.4,477.9 680.9,474.0 683.4,473.5 686.0,474.8 688.5,476.7 691.0,476.4" fill="none" stroke="#5a5a5a" stroke-width="1.00"/>
<line x1="476.70" y1="472.90" x2="691.00" y2="472.90" stroke="#3c963c" stroke-width="1.10"/>
<text x="485.4" y="458.4" font-size="10.10" font-family="Liberation Serif" font-weight="bold" fill="#111" stroke="#111" stroke-width="0.25" text-anchor="start" >BL+0.5%TMSB</text>
<path d="M580.8,514.8 L580.8,514.5 582.3,514.5 583.9,514.4 585.4,514.4 586.9,514.3 588.4,514.2 589.9,514.1 591.4,514.0 592.9,513.9 594.4,513.7 595.9,513.6 597.4,513.4 598.9,513.2 600.5,513.1 602.0,512.9 603.5,512.7 605.0,512.4 606.5,512.2 608.0,512.0 609.5,511.8 611.0,511.6 612.5,511.4 614.0,511.2 615.5,511.0 617.1,510.9 618.6,510.8 620.1,510.7 621.6,510.6 623.1,510.5 624.6,510.5 626.1,510.5 627.6,510.5 629.1,510.6 630.6,510.7 632.1,510.8 633.7,511.0 635.2,511.1 636.7,511.3 638.2,511.5 639.7,511.7 641.2,511.9 642.7,512.1 644.2,512.3 645.7,512.6 647.2,512.8 648.7,513.0 650.3,513.2 651.8,513.3 653.3,513.5 654.8,513.7 656.3,513.8 657.8,513.9 659.3,514.1 660.8,514.2 662.3,514.3 663.8,514.3 665.3,514.4 666.9,514.5 668.4,514.5 668.4,514.8 Z" fill="url(#g55)" stroke="none"/>
<polyline points="505.4,514.8 506.9,514.8 508.4,514.8 509.9,514.8 511.4,514.8 512.9,514.8 514.4,514.8 515.9,514.8 517.4,514.8 519.0,514.8 520.5,514.8 522.0,514.8 523.5,514.8 525.0,514.8 526.5,514.8 528.0,514.8 529.5,514.8 531.0,514.8 532.5,514.8 534.0,514.8 535.6,514.8 537.1,514.8 538.6,514.8 540.1,514.8 541.6,514.8 543.1,514.8 544.6,514.8 546.1,514.8 547.6,514.8 549.1,514.8 550.6,514.8 552.2,514.8 553.7,514.8 555.2,514.8 556.7,514.8 558.2,514.8 559.7,514.8 561.2,514.8 562.7,514.8 564.2,514.8 565.7,514.8 567.2,514.7 568.8,514.7 570.3,514.7 571.8,514.7 573.3,514.7 574.8,514.7 576.3,514.7 577.8,514.6 579.3,514.6 580.8,514.5 582.3,514.5 583.9,514.4 585.4,514.4 586.9,514.3 588.4,514.2 589.9,514.1 591.4,514.0 592.9,513.9 594.4,513.7 595.9,513.6 597.4,513.4 598.9,513.2 600.5,513.1 602.0,512.9 603.5,512.7 605.0,512.4 606.5,512.2 608.0,512.0 609.5,511.8 611.0,511.6 612.5,511.4 614.0,511.2 615.5,511.0 617.1,510.9 618.6,510.8 620.1,510.7 621.6,510.6 623.1,510.5 624.6,510.5 626.1,510.5 627.6,510.5 629.1,510.6 630.6,510.7 632.1,510.8 633.7,511.0 635.2,511.1 636.7,511.3 638.2,511.5 639.7,511.7 641.2,511.9 642.7,512.1 644.2,512.3 645.7,512.6 647.2,512.8 648.7,513.0 650.3,513.2 651.8,513.3 653.3,513.5 654.8,513.7 656.3,513.8 657.8,513.9 659.3,514.1 660.8,514.2 662.3,514.3 663.8,514.3 665.3,514.4 666.9,514.5 668.4,514.5 669.9,514.6 671.4,514.6 672.9,514.6 674.4,514.7 675.9,514.7 677.4,514.7 678.9,514.7 680.4,514.7 681.9,514.7 683.5,514.8 685.0,514.8 686.5,514.8 688.0,514.8 689.5,514.8 691.0,514.8" fill="none" stroke="#cc2628" stroke-width="1.70" stroke-linejoin="round"/>
<polyline points="476.7,511.0 479.2,516.0 481.7,513.1 484.3,513.4 486.8,516.8 489.3,514.5 491.8,514.6 494.3,517.5 496.9,514.5 499.4,514.8 501.9,514.4 504.4,515.8 507.0,516.1 509.5,514.9 512.0,517.1 514.5,512.7 517.0,514.1 519.6,515.0 522.1,515.7 524.6,514.1 527.1,514.8 529.6,516.1 532.2,513.4 534.7,510.8 537.2,510.2 539.7,513.4 542.3,515.7 544.8,507.2 547.3,514.0 549.8,514.1 552.3,516.7 554.9,514.5 557.4,516.0 559.9,516.3 562.4,515.0 564.9,514.4 567.5,514.6 570.0,514.6 572.5,519.3 575.0,513.5 577.5,516.6 580.1,515.0 582.6,518.3 585.1,513.4 587.6,513.5 590.2,514.8 592.7,515.1 595.2,515.2 597.7,510.1 600.2,514.7 602.8,515.6 605.3,514.2 607.8,512.0 610.3,512.6 612.8,511.6 615.4,510.5 617.9,507.8 620.4,506.3 622.9,511.9 625.4,511.2 628.0,511.2 630.5,508.4 633.0,507.3 635.5,509.0 638.1,512.1 640.6,511.3 643.1,514.6 645.6,512.8 648.1,512.7 650.7,515.0 653.2,513.3 655.7,511.0 658.2,515.0 660.7,513.5 663.3,514.7 665.8,519.0 668.3,512.9 670.8,517.5 673.4,518.6 675.9,513.9 678.4,514.5 680.9,513.7 683.4,514.0 686.0,512.0 688.5,514.1 691.0,512.4" fill="none" stroke="#5a5a5a" stroke-width="1.00"/>
<line x1="476.70" y1="514.30" x2="691.00" y2="514.30" stroke="#3c963c" stroke-width="1.10"/>
<text x="486.7" y="500.2" font-size="10.10" font-family="Liberation Serif" font-weight="bold" fill="#111" stroke="#111" stroke-width="0.25" text-anchor="start" >BL+0.5%TTSP</text>
<polyline points="508.4,556.8 509.9,556.8 511.4,556.8 512.9,556.8 514.4,556.9 515.9,556.9 517.4,556.9 519.0,556.9 520.5,556.9 522.0,557.0 523.5,557.0 525.0,557.0 526.5,557.0 528.0,557.1 529.5,557.1 531.0,557.1 532.5,557.2 534.0,557.2 535.6,557.2 537.1,557.3 538.6,557.3 540.1,557.4 541.6,557.4 543.1,557.4 544.6,557.5 546.1,557.5 547.6,557.6 549.1,557.6 550.6,557.6 552.2,557.7 553.7,557.7 555.2,557.7 556.7,557.8 558.2,557.8 559.7,557.8 561.2,557.9 562.7,557.9 564.2,557.9 565.7,557.9 567.2,558.0 568.8,558.0 570.3,558.0 571.8,558.0 573.3,558.0 574.8,558.0 576.3,558.0 577.8,558.0 579.3,558.0 580.8,558.0 582.3,557.9 583.9,557.9 585.4,557.9 586.9,557.9 588.4,557.9 589.9,557.8 591.4,557.8 592.9,557.8 594.4,557.7 595.9,557.7 597.4,557.6 598.9,557.6 600.5,557.6 602.0,557.5 603.5,557.5 605.0,557.4 606.5,557.4 608.0,557.4 609.5,557.3 611.0,557.3 612.5,557.2 614.0,557.2 615.5,557.2 617.1,557.1 618.6,557.1 620.1,557.1 621.6,557.0 623.1,557.0 624.6,557.0 626.1,557.0 627.6,556.9 629.1,556.9 630.6,556.9 632.1,556.9 633.7,556.9 635.2,556.8 636.7,556.8 638.2,556.8 639.7,556.8 641.2,556.8 642.7,556.8 644.2,556.8 645.7,556.8 647.2,556.8 648.7,556.7 650.3,556.7 651.8,556.7 653.3,556.7 654.8,556.7 656.3,556.7 657.8,556.7 659.3,556.7 660.8,556.7 662.3,556.7 663.8,556.7 665.3,556.7 666.9,556.7 668.4,556.7 669.9,556.7 671.4,556.7 672.9,556.7 674.4,556.7 675.9,556.7 677.4,556.7 678.9,556.7 680.4,556.7 681.9,556.7 683.5,556.7 685.0,556.7 686.5,556.7 688.0,556.7 689.5,556.7 691.0,556.7" fill="none" stroke="#cc2628" stroke-width="1.70" stroke-linejoin="round"/>
<polyline points="476.7,555.5 479.2,559.6 481.7,556.3 484.3,555.6 486.8,556.0 489.3,556.7 491.8,557.0 494.3,553.1 496.9,555.6 499.4,558.7 501.9,553.9 504.4,555.9 507.0,556.4 509.5,556.9 512.0,562.4 514.5,562.7 517.0,558.2 519.6,554.1 522.1,555.7 524.6,560.1 527.1,555.1 529.6,553.5 532.2,560.0 534.7,558.9 537.2,560.7 539.7,559.8 542.3,562.1 544.8,559.7 547.3,557.1 549.8,557.2 552.3,555.9 554.9,555.6 557.4,558.7 559.9,562.8 562.4,557.5 564.9,557.8 567.5,560.4 570.0,555.6 572.5,559.4 575.0,556.7 577.5,556.7 580.1,554.3 582.6,562.1 585.1,561.1 587.6,558.7 590.2,555.0 592.7,553.8 595.2,557.9 597.7,557.2 600.2,553.0 602.8,557.5 605.3,556.1 607.8,554.1 610.3,554.4 612.8,556.6 615.4,554.1 617.9,556.0 620.4,557.3 622.9,558.1 625.4,554.7 628.0,551.3 630.5,555.3 633.0,555.7 635.5,554.3 638.1,557.3 640.6,555.9 643.1,554.8 645.6,555.7 648.1,554.0 650.7,555.6 653.2,556.9 655.7,554.9 658.2,554.3 660.7,552.4 663.3,559.2 665.8,557.9 668.3,551.3 670.8,556.2 673.4,552.7 675.9,555.8 678.4,557.9 680.9,558.6 683.4,558.1 686.0,554.2 688.5,560.5 691.0,558.8" fill="none" stroke="#5a5a5a" stroke-width="1.00"/>
<line x1="476.70" y1="556.20" x2="691.00" y2="556.20" stroke="#3c963c" stroke-width="1.10"/>
<text x="486.7" y="538.1" font-size="10.10" font-family="Liberation Serif" font-weight="bold" fill="#111" stroke="#111" stroke-width="0.25" text-anchor="start" >BL+0.5%MMDS</text>
<line x1="574.11" y1="335.00" x2="574.11" y2="442.60" stroke="#777" stroke-width="0.90" stroke-dasharray="1.2,1.6"/>
<text x="569.0" y="331.4" font-size="7.50" font-family="Liberation Serif" font-weight="bold" fill="#111" stroke="#111" stroke-width="0.25" text-anchor="start" >SiO<tspan font-size="7" dy="1" font-style="italic">x</tspan></text>
<rect x="476.70" y="317.10" width="214.30" height="261.30" fill="none" stroke="#111" stroke-width="1.40"/>
<line x1="496.18" y1="578.40" x2="496.18" y2="580.40" stroke="#111" stroke-width="1"/>
<line x1="535.15" y1="578.40" x2="535.15" y2="580.40" stroke="#111" stroke-width="1"/>
<line x1="574.11" y1="578.40" x2="574.11" y2="580.40" stroke="#111" stroke-width="1"/>
<line x1="613.07" y1="578.40" x2="613.07" y2="580.40" stroke="#111" stroke-width="1"/>
<line x1="652.04" y1="578.40" x2="652.04" y2="580.40" stroke="#111" stroke-width="1"/>
<line x1="691.00" y1="578.40" x2="691.00" y2="580.40" stroke="#111" stroke-width="1"/>
<line x1="515.66" y1="578.40" x2="515.66" y2="579.60" stroke="#111" stroke-width="0.8"/>
<line x1="554.63" y1="578.40" x2="554.63" y2="579.60" stroke="#111" stroke-width="0.8"/>
<line x1="593.59" y1="578.40" x2="593.59" y2="579.60" stroke="#111" stroke-width="0.8"/>
<line x1="632.55" y1="578.40" x2="632.55" y2="579.60" stroke="#111" stroke-width="0.8"/>
<line x1="671.52" y1="578.40" x2="671.52" y2="579.60" stroke="#111" stroke-width="0.8"/>
<text x="496.2" y="589.6" font-size="9.00" font-family="Liberation Serif" font-weight="bold" fill="#111" stroke="#111" stroke-width="0.25" text-anchor="middle" >108</text>
<text x="535.1" y="589.6" font-size="9.00" font-family="Liberation Serif" font-weight="bold" fill="#111" stroke="#111" stroke-width="0.25" text-anchor="middle" >106</text>
<text x="574.1" y="589.6" font-size="9.00" font-family="Liberation Serif" font-weight="bold" fill="#111" stroke="#111" stroke-width="0.25" text-anchor="middle" >104</text>
<text x="613.1" y="589.6" font-size="9.00" font-family="Liberation Serif" font-weight="bold" fill="#111" stroke="#111" stroke-width="0.25" text-anchor="middle" >102</text>
<text x="652.0" y="589.6" font-size="9.00" font-family="Liberation Serif" font-weight="bold" fill="#111" stroke="#111" stroke-width="0.25" text-anchor="middle" >100</text>
<text x="691.0" y="589.6" font-size="9.00" font-family="Liberation Serif" font-weight="bold" fill="#111" stroke="#111" stroke-width="0.25" text-anchor="middle" >98</text>
<text x="481.1" y="334.3" font-size="15.00" font-family="Liberation Serif" font-weight="bold" fill="#111" stroke="#111" stroke-width="0.25" text-anchor="start" >Si 2p</text>
<text x="587.4" y="601.1" font-size="12.70" font-family="Liberation Serif" font-weight="bold" fill="#111" stroke="#111" stroke-width="0.25" text-anchor="middle" >Binding Energy / eV</text>
<line x1="5.70" y1="685.70" x2="215.10" y2="685.70" stroke="#3c963c" stroke-width="1.20"/>
<polyline points="5.7,685.1 8.2,685.3 10.7,685.2 13.3,684.8 15.8,685.7 18.3,684.0 20.8,684.8 23.4,684.6 25.9,684.8 28.4,684.5 30.9,684.9 33.5,684.5 36.0,684.5 38.5,684.6 41.0,684.9 43.5,684.3 46.1,684.7 48.6,684.6 51.1,684.6 53.6,684.3 56.2,685.2 58.7,684.4 61.2,684.6 63.7,685.1 66.2,684.3 68.8,684.4 71.3,684.7 73.8,685.1 76.3,684.9 78.9,685.0 81.4,684.1 83.9,685.1 86.4,684.5 89.0,685.5 91.5,684.7 94.0,684.3 96.5,684.8 99.0,685.3 101.6,684.9 104.1,684.6 106.6,684.8 109.1,684.8 111.7,684.7 114.2,684.7 116.7,685.1 119.2,684.6 121.8,684.4 124.3,684.4 126.8,685.0 129.3,684.7 131.8,684.1 134.4,685.1 136.9,684.5 139.4,684.9 141.9,684.4 144.5,684.6 147.0,684.3 149.5,684.3 152.0,684.7 154.6,684.5 157.1,684.8 159.6,684.4 162.1,684.7 164.6,685.1 167.2,684.9 169.7,684.2 172.2,684.5 174.7,684.6 177.3,684.9 179.8,685.3 182.3,684.6 184.8,684.6 187.3,685.2 189.9,684.7 192.4,684.3 194.9,684.7 197.4,684.7 200.0,684.6 202.5,684.6 205.0,684.5 207.5,684.9 210.1,684.7 212.6,685.3 215.1,685.2" fill="none" stroke="#777" stroke-width="0.80"/>
<polyline points="5.7,684.8 7.2,684.8 8.7,684.8 10.2,684.8 11.7,684.8 13.2,684.8 14.7,684.8 16.2,684.8 17.8,684.8 19.3,684.8 20.8,684.8 22.3,684.8 23.8,684.8 25.3,684.8 26.8,684.8 28.3,684.8 29.8,684.8 31.3,684.8 32.8,684.8 34.3,684.8 35.8,684.8 37.3,684.8 38.8,684.8 40.3,684.7 41.9,684.7 43.4,684.7 44.9,684.7 46.4,684.7 47.9,684.7 49.4,684.7 50.9,684.7 52.4,684.7 53.9,684.7 55.4,684.7 56.9,684.7 58.4,684.7 59.9,684.7 61.4,684.7 62.9,684.7 64.5,684.7 66.0,684.7 67.5,684.7 69.0,684.7 70.5,684.7 72.0,684.7 73.5,684.7 75.0,684.7 76.5,684.7 78.0,684.7 79.5,684.7 81.0,684.7 82.5,684.7 84.0,684.7 85.5,684.7 87.0,684.7 88.6,684.7 90.1,684.7 91.6,684.7 93.1,684.7 94.6,684.7 96.1,684.7 97.6,684.7 99.1,684.7 100.6,684.7 102.1,684.7 103.6,684.7 105.1,684.7 106.6,684.7 108.1,684.7 109.6,684.7 111.2,684.7 112.7,684.7 114.2,684.7 115.7,684.7 117.2,684.7 118.7,684.7 120.2,684.7 121.7,684.7 123.2,684.7 124.7,684.7 126.2,684.7 127.7,684.7 129.2,684.7 130.7,684.7 132.2,684.7 133.8,684.7 135.3,684.7 136.8,684.7 138.3,684.7 139.8,684.7 141.3,684.7 142.8,684.7 144.3,684.7 145.8,684.7 147.3,684.7 148.8,684.7 150.3,684.7 151.8,684.7 153.3,684.7 154.8,684.7 156.3,684.7 157.9,684.7 159.4,684.7 160.9,684.7 162.4,684.7 163.9,684.7 165.4,684.7 166.9,684.7 168.4,684.7 169.9,684.7 171.4,684.7 172.9,684.7 174.4,684.7 175.9,684.7 177.4,684.7 178.9,684.7 180.5,684.7 182.0,684.7 183.5,684.7 185.0,684.7 186.5,684.7 188.0,684.7 189.5,684.7 191.0,684.7 192.5,684.7 194.0,684.7 195.5,684.7" fill="none" stroke="#8a3a22" stroke-width="1.30" stroke-linejoin="round"/>
<text x="15.3" y="676.7" font-size="11.90" font-family="Liberation Serif" font-weight="bold" fill="#111" stroke="#111" stroke-width="0.25" text-anchor="start" >Pristine</text>
<path d="M84.0,722.8 L84.0,722.5 85.5,722.5 87.0,722.4 88.6,722.3 90.1,722.2 91.6,722.1 93.1,722.0 94.6,721.8 96.1,721.6 97.6,721.4 99.1,721.1 100.6,720.8 102.1,720.4 103.6,720.0 105.1,719.6 106.6,719.0 108.1,718.4 109.6,717.8 111.2,717.1 112.7,716.3 114.2,715.5 115.7,714.7 117.2,713.8 118.7,712.8 120.2,711.9 121.7,710.9 123.2,709.9 124.7,709.0 126.2,708.1 127.7,707.2 129.2,706.4 130.7,705.7 132.2,705.1 133.8,704.6 135.3,704.2 136.8,703.9 138.3,703.8 139.8,703.8 141.3,704.0 142.8,704.3 144.3,704.7 145.8,705.2 147.3,705.9 148.8,706.6 150.3,707.4 151.8,708.3 153.3,709.2 154.8,710.1 156.3,711.1 157.9,712.1 159.4,713.0 160.9,713.9 162.4,714.8 163.9,715.7 165.4,716.5 166.9,717.2 168.4,717.9 169.9,718.6 171.4,719.1 172.9,719.6 174.4,720.1 175.9,720.5 177.4,720.9 178.9,721.2 180.5,721.4 182.0,721.7 183.5,721.8 185.0,722.0 186.5,722.1 188.0,722.3 189.5,722.3 191.0,722.4 192.5,722.5 194.0,722.5 194.0,722.8 Z" fill="url(#g56)" stroke="none"/>
<line x1="5.70" y1="723.40" x2="215.10" y2="723.40" stroke="#3c963c" stroke-width="1.20"/>
<line x1="45.00" y1="722.60" x2="82.00" y2="722.60" stroke="#7a4a2a" stroke-width="1.40"/>
<polyline points="5.7,722.8 8.2,722.9 10.7,723.1 13.3,723.2 15.8,722.4 18.3,722.8 20.8,723.3 23.4,723.5 25.9,722.4 28.4,723.0 30.9,723.5 33.5,723.2 36.0,722.7 38.5,722.4 41.0,722.2 43.5,722.5 46.1,722.9 48.6,722.9 51.1,722.6 53.6,722.3 56.2,722.7 58.7,722.9 61.2,722.9 63.7,722.4 66.2,722.8 68.8,722.0 71.3,722.8 73.8,723.6 76.3,723.0 78.9,723.0 81.4,722.7 83.9,722.1 86.4,722.8 89.0,722.1 91.5,721.5 94.0,721.6 96.5,721.3 99.0,720.8 101.6,720.2 104.1,720.1 106.6,718.9 109.1,718.2 111.7,717.2 114.2,715.4 116.7,714.2 119.2,712.2 121.8,711.5 124.3,709.0 126.8,707.6 129.3,706.4 131.8,705.5 134.4,704.8 136.9,704.0 139.4,703.8 141.9,704.3 144.5,704.5 147.0,706.0 149.5,706.6 152.0,708.6 154.6,709.7 157.1,711.7 159.6,712.2 162.1,715.4 164.6,715.5 167.2,717.1 169.7,718.0 172.2,719.9 174.7,720.4 177.3,721.5 179.8,721.4 182.3,721.8 184.8,722.1 187.3,722.4 189.9,722.8 192.4,722.5 194.9,722.0 197.4,722.5 200.0,722.9 202.5,722.5 205.0,722.5 207.5,723.0 210.1,722.9 212.6,722.4 215.1,722.6" fill="none" stroke="#777" stroke-width="0.80"/>
<polyline points="81.0,722.6 82.5,722.6 84.0,722.5 85.5,722.5 87.0,722.4 88.6,722.3 90.1,722.2 91.6,722.1 93.1,722.0 94.6,721.8 96.1,721.6 97.6,721.4 99.1,721.1 100.6,720.8 102.1,720.4 103.6,720.0 105.1,719.6 106.6,719.0 108.1,718.4 109.6,717.8 111.2,717.1 112.7,716.3 114.2,715.5 115.7,714.7 117.2,713.8 118.7,712.8 120.2,711.9 121.7,710.9 123.2,709.9 124.7,709.0 126.2,708.1 127.7,707.2 129.2,706.4 130.7,705.7 132.2,705.1 133.8,704.6 135.3,704.2 136.8,703.9 138.3,703.8 139.8,703.8 141.3,704.0 142.8,704.3 144.3,704.7 145.8,705.2 147.3,705.9 148.8,706.6 150.3,707.4 151.8,708.3 153.3,709.2 154.8,710.1 156.3,711.1 157.9,712.1 159.4,713.0 160.9,713.9 162.4,714.8 163.9,715.7 165.4,716.5 166.9,717.2 168.4,717.9 169.9,718.6 171.4,719.1 172.9,719.6 174.4,720.1 175.9,720.5 177.4,720.9 178.9,721.2 180.5,721.4 182.0,721.7 183.5,721.8 185.0,722.0 186.5,722.1 188.0,722.3 189.5,722.3 191.0,722.4 192.5,722.5 194.0,722.5 195.5,722.6 197.0,722.6 198.5,722.6 200.0,722.7 201.5,722.7 203.0,722.7 204.6,722.7 206.1,722.7 207.6,722.7 209.1,722.7 210.6,722.7 212.1,722.7 213.6,722.7" fill="none" stroke="#cc2628" stroke-width="1.70" stroke-linejoin="round"/>
<text x="15.0" y="709.2" font-size="11.90" font-family="Liberation Serif" font-weight="bold" fill="#111" stroke="#111" stroke-width="0.25" text-anchor="start" >BL+1.5%DTD</text>
<path d="M70.5,763.6 L70.5,763.3 72.0,763.3 73.5,763.2 75.0,763.2 76.5,763.1 78.0,763.0 79.5,763.0 81.0,762.9 82.5,762.7 84.0,762.6 85.5,762.5 87.0,762.3 88.6,762.1 90.1,761.9 91.6,761.7 93.1,761.5 94.6,761.2 96.1,760.9 97.6,760.6 99.1,760.2 100.6,759.9 102.1,759.5 103.6,759.1 105.1,758.6 106.6,758.2 108.1,757.7 109.6,757.2 111.2,756.7 112.7,756.1 114.2,755.6 115.7,755.1 117.2,754.5 118.7,754.0 120.2,753.5 121.7,752.9 123.2,752.5 124.7,752.0 126.2,751.6 127.7,751.2 129.2,750.8 130.7,750.5 132.2,750.3 133.8,750.1 135.3,749.9 136.8,749.8 138.3,749.8 139.8,749.8 141.3,749.9 142.8,750.1 144.3,750.3 145.8,750.5 147.3,750.8 148.8,751.2 150.3,751.6 151.8,752.0 153.3,752.5 154.8,753.0 156.3,753.5 157.9,754.0 159.4,754.5 160.9,755.1 162.4,755.6 163.9,756.1 165.4,756.7 166.9,757.2 168.4,757.7 169.9,758.2 171.4,758.6 172.9,759.1 174.4,759.5 175.9,759.9 177.4,760.3 178.9,760.6 180.5,760.9 182.0,761.2 183.5,761.5 185.0,761.7 186.5,761.9 188.0,762.1 189.5,762.3 191.0,762.5 192.5,762.6 194.0,762.8 195.5,762.9 197.0,763.0 198.5,763.0 200.0,763.1 201.5,763.2 203.0,763.2 204.6,763.3 206.1,763.3 206.1,763.6 Z" fill="url(#g57)" stroke="none"/>
<line x1="5.70" y1="764.20" x2="215.10" y2="764.20" stroke="#3c963c" stroke-width="1.20"/>
<line x1="60.00" y1="763.40" x2="80.00" y2="763.40" stroke="#7a4a2a" stroke-width="1.40"/>
<polyline points="5.7,764.0 8.2,763.7 10.7,763.9 13.3,763.1 15.8,763.7 18.3,763.8 20.8,764.0 23.4,762.9 25.9,763.5 28.4,763.2 30.9,763.7 33.5,763.1 36.0,763.5 38.5,763.7 41.0,763.5 43.5,763.4 46.1,763.2 48.6,763.2 51.1,764.4 53.6,763.5 56.2,763.9 58.7,763.4 61.2,763.2 63.7,763.4 66.2,763.5 68.8,763.1 71.3,763.2 73.8,763.6 76.3,762.8 78.9,762.7 81.4,762.7 83.9,762.4 86.4,762.5 89.0,762.2 91.5,761.7 94.0,761.7 96.5,760.3 99.0,760.1 101.6,759.1 104.1,759.1 106.6,757.7 109.1,758.0 111.7,756.5 114.2,755.2 116.7,754.7 119.2,754.1 121.8,752.6 124.3,752.2 126.8,751.3 129.3,750.8 131.8,750.4 134.4,750.0 136.9,750.7 139.4,750.5 141.9,749.0 144.5,750.7 147.0,750.8 149.5,751.1 152.0,751.3 154.6,752.5 157.1,753.6 159.6,754.6 162.1,755.9 164.6,757.1 167.2,757.4 169.7,758.1 172.2,758.2 174.7,759.4 177.3,760.3 179.8,761.1 182.3,761.0 184.8,761.7 187.3,761.5 189.9,761.6 192.4,762.3 194.9,762.7 197.4,762.8 200.0,762.7 202.5,763.5 205.0,763.3 207.5,763.5 210.1,763.5 212.6,762.8 215.1,763.5" fill="none" stroke="#777" stroke-width="0.80"/>
<polyline points="78.0,763.0 79.5,763.0 81.0,762.9 82.5,762.7 84.0,762.6 85.5,762.5 87.0,762.3 88.6,762.1 90.1,761.9 91.6,761.7 93.1,761.5 94.6,761.2 96.1,760.9 97.6,760.6 99.1,760.2 100.6,759.9 102.1,759.5 103.6,759.1 105.1,758.6 106.6,758.2 108.1,757.7 109.6,757.2 111.2,756.7 112.7,756.1 114.2,755.6 115.7,755.1 117.2,754.5 118.7,754.0 120.2,753.5 121.7,752.9 123.2,752.5 124.7,752.0 126.2,751.6 127.7,751.2 129.2,750.8 130.7,750.5 132.2,750.3 133.8,750.1 135.3,749.9 136.8,749.8 138.3,749.8 139.8,749.8 141.3,749.9 142.8,750.1 144.3,750.3 145.8,750.5 147.3,750.8 148.8,751.2 150.3,751.6 151.8,752.0 153.3,752.5 154.8,753.0 156.3,753.5 157.9,754.0 159.4,754.5 160.9,755.1 162.4,755.6 163.9,756.1 165.4,756.7 166.9,757.2 168.4,757.7 169.9,758.2 171.4,758.6 172.9,759.1 174.4,759.5 175.9,759.9 177.4,760.3 178.9,760.6 180.5,760.9 182.0,761.2 183.5,761.5 185.0,761.7 186.5,761.9 188.0,762.1 189.5,762.3 191.0,762.5 192.5,762.6 194.0,762.8 195.5,762.9 197.0,763.0 198.5,763.0 200.0,763.1 201.5,763.2 203.0,763.2 204.6,763.3 206.1,763.3 207.6,763.4 209.1,763.4 210.6,763.4 212.1,763.4 213.6,763.5" fill="none" stroke="#cc2628" stroke-width="1.70" stroke-linejoin="round"/>
<text x="14.2" y="752.5" font-size="11.90" font-family="Liberation Serif" font-weight="bold" fill="#111" stroke="#111" stroke-width="0.25" text-anchor="start" >BL+1%DTD+0.5%PES</text>
<path d="M82.5,801.3 L82.5,801.0 84.0,801.0 85.5,800.9 87.0,800.9 88.6,800.8 90.1,800.7 91.6,800.5 93.1,800.4 94.6,800.2 96.1,800.0 97.6,799.8 99.1,799.5 100.6,799.2 102.1,798.8 103.6,798.4 105.1,798.0 106.6,797.5 108.1,796.9 109.6,796.3 111.2,795.6 112.7,794.9 114.2,794.1 115.7,793.2 117.2,792.4 118.7,791.5 120.2,790.6 121.7,789.6 123.2,788.7 124.7,787.7 126.2,786.8 127.7,785.9 129.2,785.1 130.7,784.4 132.2,783.7 133.8,783.1 135.3,782.6 136.8,782.2 138.3,781.9 139.8,781.8 141.3,781.8 142.8,781.9 144.3,782.2 145.8,782.6 147.3,783.1 148.8,783.6 150.3,784.3 151.8,785.1 153.3,785.9 154.8,786.8 156.3,787.7 157.9,788.6 159.4,789.6 160.9,790.5 162.4,791.4 163.9,792.4 165.4,793.2 166.9,794.0 168.4,794.8 169.9,795.6 171.4,796.2 172.9,796.9 174.4,797.4 175.9,797.9 177.4,798.4 178.9,798.8 180.5,799.2 182.0,799.5 183.5,799.8 185.0,800.0 186.5,800.2 188.0,800.4 189.5,800.5 191.0,800.7 192.5,800.8 194.0,800.9 195.5,800.9 197.0,801.0 198.5,801.0 198.5,801.3 Z" fill="url(#g58)" stroke="none"/>
<line x1="5.70" y1="801.90" x2="215.10" y2="801.90" stroke="#3c963c" stroke-width="1.20"/>
<line x1="50.00" y1="801.10" x2="92.00" y2="801.10" stroke="#7a4a2a" stroke-width="1.40"/>
<polyline points="5.7,801.2 8.2,800.8 10.7,801.3 13.3,800.8 15.8,801.4 18.3,801.0 20.8,801.4 23.4,801.3 25.9,800.6 28.4,801.3 30.9,801.2 33.5,800.8 36.0,801.2 38.5,801.1 41.0,801.7 43.5,800.9 46.1,800.5 48.6,800.9 51.1,801.2 53.6,801.0 56.2,802.0 58.7,801.2 61.2,801.6 63.7,801.0 66.2,800.8 68.8,801.2 71.3,801.3 73.8,801.0 76.3,801.6 78.9,801.2 81.4,801.3 83.9,801.1 86.4,800.0 89.0,800.7 91.5,800.8 94.0,800.9 96.5,799.8 99.0,799.8 101.6,798.6 104.1,797.5 106.6,797.4 109.1,796.6 111.7,795.6 114.2,794.4 116.7,792.2 119.2,791.1 121.8,789.8 124.3,788.3 126.8,786.5 129.3,784.3 131.8,784.0 134.4,783.1 136.9,782.0 139.4,782.6 141.9,782.2 144.5,781.9 147.0,782.8 149.5,783.8 152.0,784.7 154.6,787.3 157.1,788.0 159.6,789.8 162.1,791.4 164.6,793.1 167.2,794.0 169.7,794.7 172.2,796.5 174.7,797.5 177.3,798.5 179.8,798.9 182.3,800.0 184.8,799.7 187.3,801.1 189.9,800.6 192.4,801.0 194.9,800.9 197.4,801.1 200.0,801.1 202.5,801.2 205.0,801.3 207.5,801.6 210.1,801.2 212.6,801.0 215.1,801.3" fill="none" stroke="#777" stroke-width="0.80"/>
<polyline points="90.1,800.7 91.6,800.5 93.1,800.4 94.6,800.2 96.1,800.0 97.6,799.8 99.1,799.5 100.6,799.2 102.1,798.8 103.6,798.4 105.1,798.0 106.6,797.5 108.1,796.9 109.6,796.3 111.2,795.6 112.7,794.9 114.2,794.1 115.7,793.2 117.2,792.4 118.7,791.5 120.2,790.6 121.7,789.6 123.2,788.7 124.7,787.7 126.2,786.8 127.7,785.9 129.2,785.1 130.7,784.4 132.2,783.7 133.8,783.1 135.3,782.6 136.8,782.2 138.3,781.9 139.8,781.8 141.3,781.8 142.8,781.9 144.3,782.2 145.8,782.6 147.3,783.1 148.8,783.6 150.3,784.3 151.8,785.1 153.3,785.9 154.8,786.8 156.3,787.7 157.9,788.6 159.4,789.6 160.9,790.5 162.4,791.4 163.9,792.4 165.4,793.2 166.9,794.0 168.4,794.8 169.9,795.6 171.4,796.2 172.9,796.9 174.4,797.4 175.9,797.9 177.4,798.4 178.9,798.8 180.5,799.2 182.0,799.5 183.5,799.8 185.0,800.0 186.5,800.2 188.0,800.4 189.5,800.5 191.0,800.7 192.5,800.8 194.0,800.9 195.5,800.9 197.0,801.0 198.5,801.0 200.0,801.1 201.5,801.1 203.0,801.1 204.6,801.1 206.1,801.2 207.6,801.2 209.1,801.2 210.6,801.2 212.1,801.2 213.6,801.2" fill="none" stroke="#cc2628" stroke-width="1.70" stroke-linejoin="round"/>
<text x="15.5" y="793.9" font-size="11.90" font-family="Liberation Serif" font-weight="bold" fill="#111" stroke="#111" stroke-width="0.25" text-anchor="start" >BL+0.5%TMSB</text>
<path d="M75.0,843.1 L75.0,842.8 76.5,842.8 78.0,842.8 79.5,842.7 81.0,842.6 82.5,842.5 84.0,842.4 85.5,842.3 87.0,842.2 88.6,842.0 90.1,841.9 91.6,841.7 93.1,841.4 94.6,841.2 96.1,840.9 97.6,840.5 99.1,840.2 100.6,839.8 102.1,839.3 103.6,838.8 105.1,838.3 106.6,837.8 108.1,837.2 109.6,836.5 111.2,835.9 112.7,835.2 114.2,834.5 115.7,833.7 117.2,833.0 118.7,832.2 120.2,831.5 121.7,830.8 123.2,830.1 124.7,829.5 126.2,828.8 127.7,828.3 129.2,827.8 130.7,827.3 132.2,827.0 133.8,826.7 135.3,826.5 136.8,826.4 138.3,826.4 139.8,826.5 141.3,826.7 142.8,826.9 144.3,827.3 145.8,827.7 147.3,828.2 148.8,828.8 150.3,829.4 151.8,830.0 153.3,830.7 154.8,831.4 156.3,832.1 157.9,832.9 159.4,833.6 160.9,834.4 162.4,835.1 163.9,835.8 165.4,836.4 166.9,837.1 168.4,837.7 169.9,838.2 171.4,838.8 172.9,839.3 174.4,839.7 175.9,840.1 177.4,840.5 178.9,840.8 180.5,841.1 182.0,841.4 183.5,841.6 185.0,841.8 186.5,842.0 188.0,842.2 189.5,842.3 191.0,842.4 192.5,842.5 194.0,842.6 195.5,842.7 197.0,842.7 198.5,842.8 200.0,842.8 200.0,843.1 Z" fill="url(#g59)" stroke="none"/>
<line x1="5.70" y1="843.70" x2="215.10" y2="843.70" stroke="#3c963c" stroke-width="1.20"/>
<line x1="70.00" y1="842.90" x2="90.00" y2="842.90" stroke="#7a4a2a" stroke-width="1.40"/>
<polyline points="5.7,843.1 8.2,842.8 10.7,843.4 13.3,843.1 15.8,842.3 18.3,843.2 20.8,842.6 23.4,843.2 25.9,842.9 28.4,843.5 30.9,843.0 33.5,842.9 36.0,842.8 38.5,842.5 41.0,843.1 43.5,843.1 46.1,843.1 48.6,842.9 51.1,843.4 53.6,843.1 56.2,843.4 58.7,843.0 61.2,843.3 63.7,842.8 66.2,842.9 68.8,843.1 71.3,842.9 73.8,843.3 76.3,842.8 78.9,842.9 81.4,842.8 83.9,841.7 86.4,842.0 89.0,842.1 91.5,841.9 94.0,841.1 96.5,841.2 99.0,839.4 101.6,839.9 104.1,838.7 106.6,837.3 109.1,837.0 111.7,835.2 114.2,834.6 116.7,833.4 119.2,831.9 121.8,831.2 124.3,829.6 126.8,829.1 129.3,828.2 131.8,827.4 134.4,826.3 136.9,826.0 139.4,827.2 141.9,826.7 144.5,827.6 147.0,827.9 149.5,829.5 152.0,830.3 154.6,830.9 157.1,832.3 159.6,834.3 162.1,834.9 164.6,835.7 167.2,837.3 169.7,838.3 172.2,839.0 174.7,840.4 177.3,841.2 179.8,841.4 182.3,841.6 184.8,841.6 187.3,841.6 189.9,842.4 192.4,842.2 194.9,842.6 197.4,843.0 200.0,842.2 202.5,842.7 205.0,843.0 207.5,843.3 210.1,843.6 212.6,842.7 215.1,842.8" fill="none" stroke="#777" stroke-width="0.80"/>
<polyline points="88.6,842.0 90.1,841.9 91.6,841.7 93.1,841.4 94.6,841.2 96.1,840.9 97.6,840.5 99.1,840.2 100.6,839.8 102.1,839.3 103.6,838.8 105.1,838.3 106.6,837.8 108.1,837.2 109.6,836.5 111.2,835.9 112.7,835.2 114.2,834.5 115.7,833.7 117.2,833.0 118.7,832.2 120.2,831.5 121.7,830.8 123.2,830.1 124.7,829.5 126.2,828.8 127.7,828.3 129.2,827.8 130.7,827.3 132.2,827.0 133.8,826.7 135.3,826.5 136.8,826.4 138.3,826.4 139.8,826.5 141.3,826.7 142.8,826.9 144.3,827.3 145.8,827.7 147.3,828.2 148.8,828.8 150.3,829.4 151.8,830.0 153.3,830.7 154.8,831.4 156.3,832.1 157.9,832.9 159.4,833.6 160.9,834.4 162.4,835.1 163.9,835.8 165.4,836.4 166.9,837.1 168.4,837.7 169.9,838.2 171.4,838.8 172.9,839.3 174.4,839.7 175.9,840.1 177.4,840.5 178.9,840.8 180.5,841.1 182.0,841.4 183.5,841.6 185.0,841.8 186.5,842.0 188.0,842.2 189.5,842.3 191.0,842.4 192.5,842.5 194.0,842.6 195.5,842.7 197.0,842.7 198.5,842.8 200.0,842.8 201.5,842.9 203.0,842.9 204.6,842.9 206.1,842.9 207.6,843.0 209.1,843.0 210.6,843.0 212.1,843.0 213.6,843.0" fill="none" stroke="#cc2628" stroke-width="1.70" stroke-linejoin="round"/>
<text x="15.5" y="832.6" font-size="11.90" font-family="Liberation Serif" font-weight="bold" fill="#111" stroke="#111" stroke-width="0.25" text-anchor="start" >BL+0.5%TTSP</text>
<path d="M85.5,884.2 L85.5,883.9 87.0,883.9 88.6,883.8 90.1,883.8 91.6,883.7 93.1,883.6 94.6,883.4 96.1,883.3 97.6,883.1 99.1,882.9 100.6,882.6 102.1,882.3 103.6,882.0 105.1,881.6 106.6,881.2 108.1,880.7 109.6,880.1 111.2,879.5 112.7,878.8 114.2,878.1 115.7,877.4 117.2,876.5 118.7,875.7 120.2,874.8 121.7,873.9 123.2,873.0 124.7,872.1 126.2,871.2 127.7,870.3 129.2,869.5 130.7,868.7 132.2,868.0 133.8,867.4 135.3,866.9 136.8,866.5 138.3,866.3 139.8,866.1 141.3,866.1 142.8,866.2 144.3,866.5 145.8,866.9 147.3,867.4 148.8,868.0 150.3,868.7 151.8,869.4 153.3,870.3 154.8,871.1 156.3,872.0 157.9,872.9 159.4,873.9 160.9,874.8 162.4,875.7 163.9,876.5 165.4,877.3 166.9,878.1 168.4,878.8 169.9,879.5 171.4,880.1 172.9,880.6 174.4,881.1 175.9,881.6 177.4,882.0 178.9,882.3 180.5,882.6 182.0,882.9 183.5,883.1 185.0,883.3 186.5,883.4 188.0,883.6 189.5,883.7 191.0,883.8 192.5,883.8 194.0,883.9 195.5,883.9 195.5,884.2 Z" fill="url(#g60)" stroke="none"/>
<line x1="5.70" y1="884.80" x2="215.10" y2="884.80" stroke="#3c963c" stroke-width="1.20"/>
<line x1="70.00" y1="884.00" x2="97.00" y2="884.00" stroke="#7a4a2a" stroke-width="1.40"/>
<polyline points="5.7,883.9 8.2,884.1 10.7,884.7 13.3,884.4 15.8,884.3 18.3,883.7 20.8,884.5 23.4,884.3 25.9,884.8 28.4,884.2 30.9,884.1 33.5,884.5 36.0,884.1 38.5,884.5 41.0,884.4 43.5,884.1 46.1,884.3 48.6,884.2 51.1,884.0 53.6,884.4 56.2,884.6 58.7,883.6 61.2,884.3 63.7,884.5 66.2,883.8 68.8,884.5 71.3,883.9 73.8,884.3 76.3,883.9 78.9,884.9 81.4,884.5 83.9,883.6 86.4,883.5 89.0,883.9 91.5,883.7 94.0,883.7 96.5,882.7 99.0,882.5 101.6,882.4 104.1,882.1 106.6,881.1 109.1,880.5 111.7,878.8 114.2,878.8 116.7,877.1 119.2,875.4 121.8,873.8 124.3,873.0 126.8,870.6 129.3,869.1 131.8,868.5 134.4,867.7 136.9,865.9 139.4,866.1 141.9,866.6 144.5,867.0 147.0,867.0 149.5,868.0 152.0,870.1 154.6,871.5 157.1,873.2 159.6,873.6 162.1,876.3 164.6,877.1 167.2,878.1 169.7,879.4 172.2,880.3 174.7,880.9 177.3,882.5 179.8,882.6 182.3,883.2 184.8,883.4 187.3,883.3 189.9,883.4 192.4,883.6 194.9,883.9 197.4,883.8 200.0,883.6 202.5,883.8 205.0,883.5 207.5,884.2 210.1,884.1 212.6,884.7 215.1,884.0" fill="none" stroke="#777" stroke-width="0.80"/>
<polyline points="96.1,883.3 97.6,883.1 99.1,882.9 100.6,882.6 102.1,882.3 103.6,882.0 105.1,881.6 106.6,881.2 108.1,880.7 109.6,880.1 111.2,879.5 112.7,878.8 114.2,878.1 115.7,877.4 117.2,876.5 118.7,875.7 120.2,874.8 121.7,873.9 123.2,873.0 124.7,872.1 126.2,871.2 127.7,870.3 129.2,869.5 130.7,868.7 132.2,868.0 133.8,867.4 135.3,866.9 136.8,866.5 138.3,866.3 139.8,866.1 141.3,866.1 142.8,866.2 144.3,866.5 145.8,866.9 147.3,867.4 148.8,868.0 150.3,868.7 151.8,869.4 153.3,870.3 154.8,871.1 156.3,872.0 157.9,872.9 159.4,873.9 160.9,874.8 162.4,875.7 163.9,876.5 165.4,877.3 166.9,878.1 168.4,878.8 169.9,879.5 171.4,880.1 172.9,880.6 174.4,881.1 175.9,881.6 177.4,882.0 178.9,882.3 180.5,882.6 182.0,882.9 183.5,883.1 185.0,883.3 186.5,883.4 188.0,883.6 189.5,883.7 191.0,883.8 192.5,883.8 194.0,883.9 195.5,883.9 197.0,884.0 198.5,884.0 200.0,884.0 201.5,884.1 203.0,884.1 204.6,884.1 206.1,884.1 207.6,884.1 209.1,884.1 210.6,884.1 212.1,884.1 213.6,884.1" fill="none" stroke="#cc2628" stroke-width="1.70" stroke-linejoin="round"/>
<text x="13.4" y="872.4" font-size="11.90" font-family="Liberation Serif" font-weight="bold" fill="#111" stroke="#111" stroke-width="0.25" text-anchor="start" >BL+0.5%MMDS</text>
<line x1="138.88" y1="664.00" x2="138.88" y2="890.00" stroke="#777" stroke-width="0.90" stroke-dasharray="1.2,1.6"/>
<text x="129.7" y="663.3" font-size="9.90" font-family="Liberation Serif" font-weight="bold" fill="#111" stroke="#111" stroke-width="0.25" text-anchor="start" >Li 1s</text>
<rect x="5.70" y="644.30" width="209.40" height="246.40" fill="none" stroke="#111" stroke-width="1.40"/>
<line x1="5.70" y1="890.70" x2="5.70" y2="892.70" stroke="#111" stroke-width="1"/>
<line x1="47.58" y1="890.70" x2="47.58" y2="892.70" stroke="#111" stroke-width="1"/>
<line x1="89.46" y1="890.70" x2="89.46" y2="892.70" stroke="#111" stroke-width="1"/>
<line x1="131.34" y1="890.70" x2="131.34" y2="892.70" stroke="#111" stroke-width="1"/>
<line x1="173.22" y1="890.70" x2="173.22" y2="892.70" stroke="#111" stroke-width="1"/>
<line x1="215.10" y1="890.70" x2="215.10" y2="892.70" stroke="#111" stroke-width="1"/>
<line x1="26.64" y1="890.70" x2="26.64" y2="891.90" stroke="#111" stroke-width="0.8"/>
<line x1="68.52" y1="890.70" x2="68.52" y2="891.90" stroke="#111" stroke-width="0.8"/>
<line x1="110.40" y1="890.70" x2="110.40" y2="891.90" stroke="#111" stroke-width="0.8"/>
<line x1="152.28" y1="890.70" x2="152.28" y2="891.90" stroke="#111" stroke-width="0.8"/>
<line x1="194.16" y1="890.70" x2="194.16" y2="891.90" stroke="#111" stroke-width="0.8"/>
<text x="5.7" y="902.8" font-size="11.80" font-family="Liberation Serif" font-weight="bold" fill="#111" stroke="#111" stroke-width="0.25" text-anchor="middle" >62</text>
<text x="47.6" y="902.8" font-size="11.80" font-family="Liberation Serif" font-weight="bold" fill="#111" stroke="#111" stroke-width="0.25" text-anchor="middle" >60</text>
<text x="89.5" y="902.8" font-size="11.80" font-family="Liberation Serif" font-weight="bold" fill="#111" stroke="#111" stroke-width="0.25" text-anchor="middle" >58</text>
<text x="131.3" y="902.8" font-size="11.80" font-family="Liberation Serif" font-weight="bold" fill="#111" stroke="#111" stroke-width="0.25" text-anchor="middle" >56</text>
<text x="173.2" y="902.8" font-size="11.80" font-family="Liberation Serif" font-weight="bold" fill="#111" stroke="#111" stroke-width="0.25" text-anchor="middle" >54</text>
<text x="215.1" y="902.8" font-size="11.80" font-family="Liberation Serif" font-weight="bold" fill="#111" stroke="#111" stroke-width="0.25" text-anchor="middle" >52</text>
<text x="9.6" y="658.6" font-size="14.00" font-family="Liberation Serif" font-weight="bold" fill="#111" stroke="#111" stroke-width="0.25" text-anchor="start" >Li 1s</text>
<text x="114.3" y="914.5" font-size="11.10" font-family="Liberation Serif" font-weight="bold" fill="#111" stroke="#111" stroke-width="0.25" text-anchor="middle" >Binding Energy / eV</text>
</svg></body></html>
